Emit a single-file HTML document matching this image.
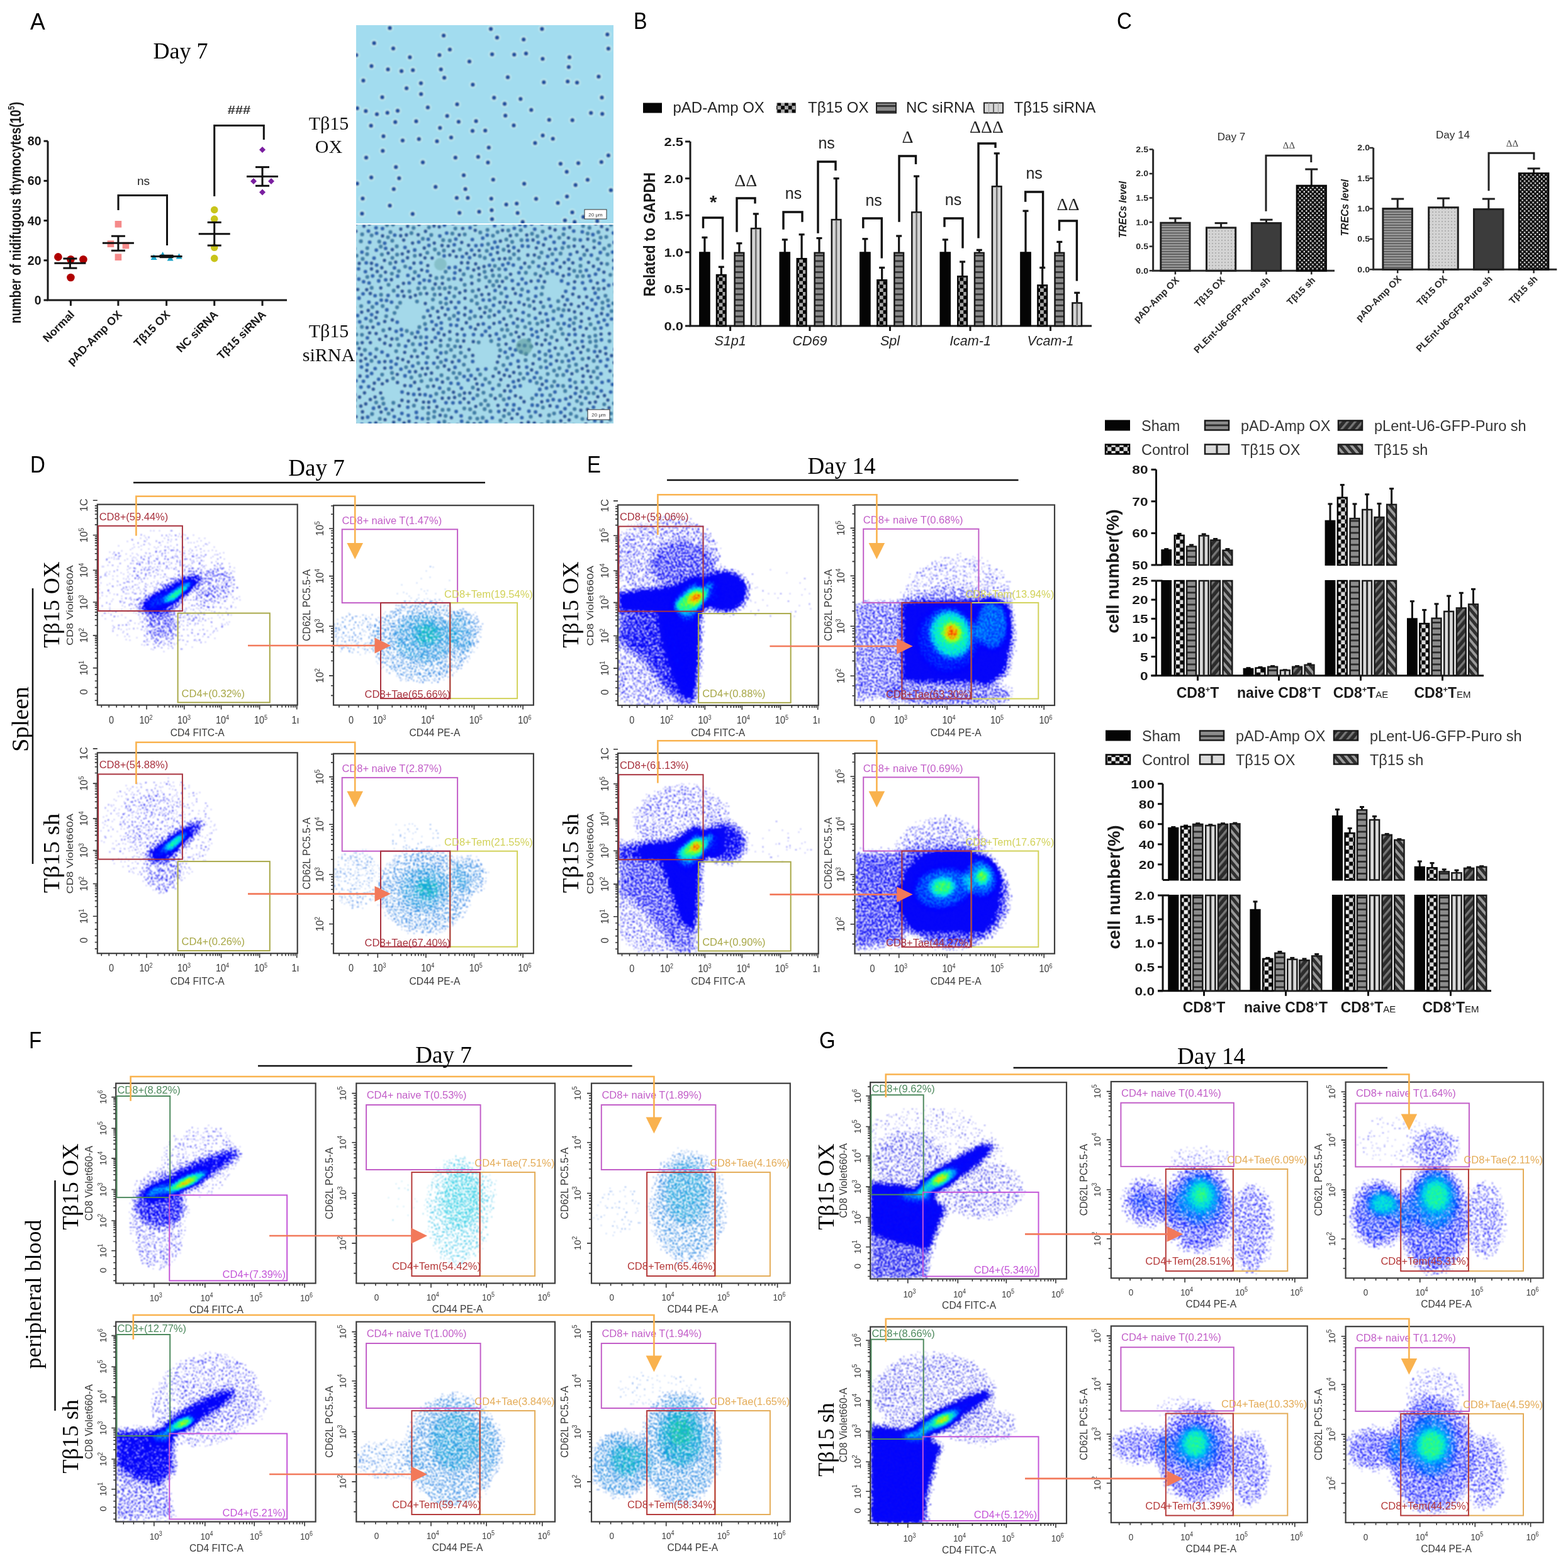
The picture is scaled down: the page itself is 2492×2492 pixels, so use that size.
<!DOCTYPE html>
<html><head><meta charset="utf-8"><title>Figure</title>
<style>
html,body{margin:0;padding:0;background:#fff;}
svg{display:block;}
text{font-family:"Liberation Sans",Arial,sans-serif;}
.s{font-family:"Liberation Sans",Arial,sans-serif;}
.sb{font-family:"Liberation Sans",Arial,sans-serif;font-weight:bold;}
.si{font-family:"Liberation Sans",Arial,sans-serif;font-style:italic;}
.sbi{font-family:"Liberation Sans",Arial,sans-serif;font-weight:bold;font-style:italic;}
.r{font-family:"Liberation Serif","Times New Roman",serif;}
</style></head><body>
<svg width="2492" height="2492" viewBox="0 0 2492 2492">
<rect width="2492" height="2492" fill="#fff"/>
<defs><filter id="fD1" filterUnits="userSpaceOnUse" x="155.8" y="802.7" width="315.9" height="316.9" color-interpolation-filters="sRGB"><feGaussianBlur in="SourceAlpha" stdDeviation="4" result="d"/><feTurbulence type="fractalNoise" baseFrequency="0.42" numOctaves="1" seed="21" result="t"/><feComponentTransfer in="t" result="tu"><feFuncR type="table" tableValues="0.000 0.000 0.000 0.001 0.003 0.010 0.031 0.080 0.175 0.320 0.500 0.680 0.825 0.920 0.969 0.985 0.985 0.985 0.985 0.985 0.985"/></feComponentTransfer><feColorMatrix in="tu" type="matrix" values="0 0 0 0 0 0 0 0 0 0 0 0 0 0 0 1 0 0 0 0" result="n"/><feComposite in="d" in2="n" operator="arithmetic" k2="3" k3="1" k4="-0.5" result="m"/><feComponentTransfer in="m" result="mask"><feFuncA type="discrete" tableValues="0 1"/></feComponentTransfer><feComposite in="d" in2="n" operator="arithmetic" k2="1" k3="0.14" k4="-0.07" result="dn"/><feColorMatrix in="dn" type="matrix" values="0 0 0 1 0 0 0 0 1 0 0 0 0 1 0 0 0 0 0 1" result="dd"/><feComponentTransfer in="dd" result="col"><feFuncR type="table" tableValues="0.06 0.06 0.05 0.04 0.03 0.03 0.02 0.01 0.00 0.00 0.00 0.00 0.00 0.03 0.06 0.35 0.63 0.86 1.00 1.00 0.88"/><feFuncG type="table" tableValues="0.06 0.06 0.05 0.04 0.03 0.03 0.02 0.01 0.00 0.13 0.35 0.60 0.88 0.94 1.00 1.00 1.00 0.92 0.68 0.19 0.00"/><feFuncB type="table" tableValues="0.94 0.95 0.96 0.96 0.97 0.98 0.98 0.99 1.00 1.00 1.00 1.00 1.00 0.78 0.56 0.31 0.06 0.02 0.00 0.00 0.00"/></feComponentTransfer><feComposite in="col" in2="mask" operator="in" result="o"/><feGaussianBlur in="o" stdDeviation="0.8"/></filter><filter id="fD2" filterUnits="userSpaceOnUse" x="531" y="804.2" width="315.9" height="315.4" color-interpolation-filters="sRGB"><feGaussianBlur in="SourceAlpha" stdDeviation="5" result="d"/><feTurbulence type="fractalNoise" baseFrequency="0.42" numOctaves="1" seed="22" result="t"/><feComponentTransfer in="t" result="tu"><feFuncR type="table" tableValues="0.000 0.000 0.000 0.001 0.003 0.010 0.031 0.080 0.175 0.320 0.500 0.680 0.825 0.920 0.969 0.985 0.985 0.985 0.985 0.985 0.985"/></feComponentTransfer><feColorMatrix in="tu" type="matrix" values="0 0 0 0 0 0 0 0 0 0 0 0 0 0 0 1 0 0 0 0" result="n"/><feComposite in="d" in2="n" operator="arithmetic" k2="2.2" k3="1" k4="-0.5" result="m"/><feComponentTransfer in="m" result="mask"><feFuncA type="discrete" tableValues="0 1"/></feComponentTransfer><feComposite in="d" in2="n" operator="arithmetic" k2="1" k3="0.3" k4="-0.15" result="dn"/><feColorMatrix in="dn" type="matrix" values="0 0 0 1 0 0 0 0 1 0 0 0 0 1 0 0 0 0 0 1" result="dd"/><feComponentTransfer in="dd" result="col"><feFuncR type="table" tableValues="0.06 0.07 0.08 0.09 0.09 0.09 0.09 0.08 0.07 0.08 0.11 0.18 0.28 0.38 0.43 0.48 0.54 0.59 0.65 0.70 0.75"/><feFuncG type="table" tableValues="0.22 0.27 0.32 0.38 0.44 0.50 0.56 0.64 0.72 0.78 0.83 0.87 0.90 0.94 0.94 0.94 0.94 0.94 0.94 0.94 0.94"/><feFuncB type="table" tableValues="0.82 0.84 0.86 0.88 0.88 0.88 0.88 0.87 0.85 0.76 0.62 0.49 0.37 0.25 0.23 0.22 0.20 0.18 0.16 0.14 0.13"/></feComponentTransfer><feComposite in="col" in2="mask" operator="in" result="o"/><feGaussianBlur in="o" stdDeviation="0.8"/></filter><filter id="fD1b" filterUnits="userSpaceOnUse" x="155.8" y="1197.3" width="315.9" height="316.9" color-interpolation-filters="sRGB"><feGaussianBlur in="SourceAlpha" stdDeviation="4" result="d"/><feTurbulence type="fractalNoise" baseFrequency="0.42" numOctaves="1" seed="22" result="t"/><feComponentTransfer in="t" result="tu"><feFuncR type="table" tableValues="0.000 0.000 0.000 0.001 0.003 0.010 0.031 0.080 0.175 0.320 0.500 0.680 0.825 0.920 0.969 0.985 0.985 0.985 0.985 0.985 0.985"/></feComponentTransfer><feColorMatrix in="tu" type="matrix" values="0 0 0 0 0 0 0 0 0 0 0 0 0 0 0 1 0 0 0 0" result="n"/><feComposite in="d" in2="n" operator="arithmetic" k2="3" k3="1" k4="-0.5" result="m"/><feComponentTransfer in="m" result="mask"><feFuncA type="discrete" tableValues="0 1"/></feComponentTransfer><feComposite in="d" in2="n" operator="arithmetic" k2="1" k3="0.14" k4="-0.07" result="dn"/><feColorMatrix in="dn" type="matrix" values="0 0 0 1 0 0 0 0 1 0 0 0 0 1 0 0 0 0 0 1" result="dd"/><feComponentTransfer in="dd" result="col"><feFuncR type="table" tableValues="0.06 0.06 0.05 0.04 0.03 0.03 0.02 0.01 0.00 0.00 0.00 0.00 0.00 0.03 0.06 0.35 0.63 0.86 1.00 1.00 0.88"/><feFuncG type="table" tableValues="0.06 0.06 0.05 0.04 0.03 0.03 0.02 0.01 0.00 0.13 0.35 0.60 0.88 0.94 1.00 1.00 1.00 0.92 0.68 0.19 0.00"/><feFuncB type="table" tableValues="0.94 0.95 0.96 0.96 0.97 0.98 0.98 0.99 1.00 1.00 1.00 1.00 1.00 0.78 0.56 0.31 0.06 0.02 0.00 0.00 0.00"/></feComponentTransfer><feComposite in="col" in2="mask" operator="in" result="o"/><feGaussianBlur in="o" stdDeviation="0.8"/></filter><filter id="fD2b" filterUnits="userSpaceOnUse" x="531" y="1198.8" width="315.9" height="315.4" color-interpolation-filters="sRGB"><feGaussianBlur in="SourceAlpha" stdDeviation="5" result="d"/><feTurbulence type="fractalNoise" baseFrequency="0.42" numOctaves="1" seed="23" result="t"/><feComponentTransfer in="t" result="tu"><feFuncR type="table" tableValues="0.000 0.000 0.000 0.001 0.003 0.010 0.031 0.080 0.175 0.320 0.500 0.680 0.825 0.920 0.969 0.985 0.985 0.985 0.985 0.985 0.985"/></feComponentTransfer><feColorMatrix in="tu" type="matrix" values="0 0 0 0 0 0 0 0 0 0 0 0 0 0 0 1 0 0 0 0" result="n"/><feComposite in="d" in2="n" operator="arithmetic" k2="2.2" k3="1" k4="-0.5" result="m"/><feComponentTransfer in="m" result="mask"><feFuncA type="discrete" tableValues="0 1"/></feComponentTransfer><feComposite in="d" in2="n" operator="arithmetic" k2="1" k3="0.3" k4="-0.15" result="dn"/><feColorMatrix in="dn" type="matrix" values="0 0 0 1 0 0 0 0 1 0 0 0 0 1 0 0 0 0 0 1" result="dd"/><feComponentTransfer in="dd" result="col"><feFuncR type="table" tableValues="0.06 0.07 0.08 0.09 0.09 0.09 0.09 0.08 0.07 0.08 0.11 0.18 0.28 0.38 0.43 0.48 0.54 0.59 0.65 0.70 0.75"/><feFuncG type="table" tableValues="0.22 0.27 0.32 0.38 0.44 0.50 0.56 0.64 0.72 0.78 0.83 0.87 0.90 0.94 0.94 0.94 0.94 0.94 0.94 0.94 0.94"/><feFuncB type="table" tableValues="0.82 0.84 0.86 0.88 0.88 0.88 0.88 0.87 0.85 0.76 0.62 0.49 0.37 0.25 0.23 0.22 0.20 0.18 0.16 0.14 0.13"/></feComponentTransfer><feComposite in="col" in2="mask" operator="in" result="o"/><feGaussianBlur in="o" stdDeviation="0.8"/></filter><filter id="fE1" filterUnits="userSpaceOnUse" x="983" y="803.5" width="316.7" height="316.5" color-interpolation-filters="sRGB"><feGaussianBlur in="SourceAlpha" stdDeviation="5" result="d"/><feTurbulence type="fractalNoise" baseFrequency="0.42" numOctaves="1" seed="22" result="t"/><feComponentTransfer in="t" result="tu"><feFuncR type="table" tableValues="0.000 0.000 0.000 0.001 0.003 0.010 0.031 0.080 0.175 0.320 0.500 0.680 0.825 0.920 0.969 0.985 0.985 0.985 0.985 0.985 0.985"/></feComponentTransfer><feColorMatrix in="tu" type="matrix" values="0 0 0 0 0 0 0 0 0 0 0 0 0 0 0 1 0 0 0 0" result="n"/><feComposite in="d" in2="n" operator="arithmetic" k2="4" k3="1" k4="-0.5" result="m"/><feComponentTransfer in="m" result="mask"><feFuncA type="discrete" tableValues="0 1"/></feComponentTransfer><feComposite in="d" in2="n" operator="arithmetic" k2="1" k3="0.14" k4="-0.07" result="dn"/><feColorMatrix in="dn" type="matrix" values="0 0 0 1 0 0 0 0 1 0 0 0 0 1 0 0 0 0 0 1" result="dd"/><feComponentTransfer in="dd" result="col"><feFuncR type="table" tableValues="0.06 0.06 0.05 0.04 0.03 0.03 0.02 0.01 0.00 0.00 0.00 0.00 0.00 0.03 0.06 0.35 0.63 0.86 1.00 1.00 0.88"/><feFuncG type="table" tableValues="0.06 0.06 0.05 0.04 0.03 0.03 0.02 0.01 0.00 0.13 0.35 0.60 0.88 0.94 1.00 1.00 1.00 0.92 0.68 0.19 0.00"/><feFuncB type="table" tableValues="0.94 0.95 0.96 0.96 0.97 0.98 0.98 0.99 1.00 1.00 1.00 1.00 1.00 0.78 0.56 0.31 0.06 0.02 0.00 0.00 0.00"/></feComponentTransfer><feComposite in="col" in2="mask" operator="in" result="o"/><feGaussianBlur in="o" stdDeviation="0.8"/></filter><filter id="fE2" filterUnits="userSpaceOnUse" x="1359.5" y="803.5" width="315.5" height="316.5" color-interpolation-filters="sRGB"><feGaussianBlur in="SourceAlpha" stdDeviation="5" result="d"/><feTurbulence type="fractalNoise" baseFrequency="0.42" numOctaves="1" seed="23" result="t"/><feComponentTransfer in="t" result="tu"><feFuncR type="table" tableValues="0.000 0.000 0.000 0.001 0.003 0.010 0.031 0.080 0.175 0.320 0.500 0.680 0.825 0.920 0.969 0.985 0.985 0.985 0.985 0.985 0.985"/></feComponentTransfer><feColorMatrix in="tu" type="matrix" values="0 0 0 0 0 0 0 0 0 0 0 0 0 0 0 1 0 0 0 0" result="n"/><feComposite in="d" in2="n" operator="arithmetic" k2="4" k3="1" k4="-0.5" result="m"/><feComponentTransfer in="m" result="mask"><feFuncA type="discrete" tableValues="0 1"/></feComponentTransfer><feComposite in="d" in2="n" operator="arithmetic" k2="1" k3="0.14" k4="-0.07" result="dn"/><feColorMatrix in="dn" type="matrix" values="0 0 0 1 0 0 0 0 1 0 0 0 0 1 0 0 0 0 0 1" result="dd"/><feComponentTransfer in="dd" result="col"><feFuncR type="table" tableValues="0.06 0.06 0.05 0.04 0.03 0.03 0.02 0.01 0.00 0.00 0.00 0.00 0.00 0.03 0.06 0.35 0.63 0.86 1.00 1.00 0.88"/><feFuncG type="table" tableValues="0.06 0.06 0.05 0.04 0.03 0.03 0.02 0.01 0.00 0.13 0.35 0.60 0.88 0.94 1.00 1.00 1.00 0.92 0.68 0.19 0.00"/><feFuncB type="table" tableValues="0.94 0.95 0.96 0.96 0.97 0.98 0.98 0.99 1.00 1.00 1.00 1.00 1.00 0.78 0.56 0.31 0.06 0.02 0.00 0.00 0.00"/></feComponentTransfer><feComposite in="col" in2="mask" operator="in" result="o"/><feGaussianBlur in="o" stdDeviation="0.8"/></filter><filter id="fE1b" filterUnits="userSpaceOnUse" x="983" y="1198.1" width="316.7" height="316.5" color-interpolation-filters="sRGB"><feGaussianBlur in="SourceAlpha" stdDeviation="5" result="d"/><feTurbulence type="fractalNoise" baseFrequency="0.42" numOctaves="1" seed="23" result="t"/><feComponentTransfer in="t" result="tu"><feFuncR type="table" tableValues="0.000 0.000 0.000 0.001 0.003 0.010 0.031 0.080 0.175 0.320 0.500 0.680 0.825 0.920 0.969 0.985 0.985 0.985 0.985 0.985 0.985"/></feComponentTransfer><feColorMatrix in="tu" type="matrix" values="0 0 0 0 0 0 0 0 0 0 0 0 0 0 0 1 0 0 0 0" result="n"/><feComposite in="d" in2="n" operator="arithmetic" k2="4" k3="1" k4="-0.5" result="m"/><feComponentTransfer in="m" result="mask"><feFuncA type="discrete" tableValues="0 1"/></feComponentTransfer><feComposite in="d" in2="n" operator="arithmetic" k2="1" k3="0.14" k4="-0.07" result="dn"/><feColorMatrix in="dn" type="matrix" values="0 0 0 1 0 0 0 0 1 0 0 0 0 1 0 0 0 0 0 1" result="dd"/><feComponentTransfer in="dd" result="col"><feFuncR type="table" tableValues="0.06 0.06 0.05 0.04 0.03 0.03 0.02 0.01 0.00 0.00 0.00 0.00 0.00 0.03 0.06 0.35 0.63 0.86 1.00 1.00 0.88"/><feFuncG type="table" tableValues="0.06 0.06 0.05 0.04 0.03 0.03 0.02 0.01 0.00 0.13 0.35 0.60 0.88 0.94 1.00 1.00 1.00 0.92 0.68 0.19 0.00"/><feFuncB type="table" tableValues="0.94 0.95 0.96 0.96 0.97 0.98 0.98 0.99 1.00 1.00 1.00 1.00 1.00 0.78 0.56 0.31 0.06 0.02 0.00 0.00 0.00"/></feComponentTransfer><feComposite in="col" in2="mask" operator="in" result="o"/><feGaussianBlur in="o" stdDeviation="0.8"/></filter><filter id="fE2b" filterUnits="userSpaceOnUse" x="1359.5" y="1198.1" width="315.5" height="316.5" color-interpolation-filters="sRGB"><feGaussianBlur in="SourceAlpha" stdDeviation="5" result="d"/><feTurbulence type="fractalNoise" baseFrequency="0.42" numOctaves="1" seed="24" result="t"/><feComponentTransfer in="t" result="tu"><feFuncR type="table" tableValues="0.000 0.000 0.000 0.001 0.003 0.010 0.031 0.080 0.175 0.320 0.500 0.680 0.825 0.920 0.969 0.985 0.985 0.985 0.985 0.985 0.985"/></feComponentTransfer><feColorMatrix in="tu" type="matrix" values="0 0 0 0 0 0 0 0 0 0 0 0 0 0 0 1 0 0 0 0" result="n"/><feComposite in="d" in2="n" operator="arithmetic" k2="4" k3="1" k4="-0.5" result="m"/><feComponentTransfer in="m" result="mask"><feFuncA type="discrete" tableValues="0 1"/></feComponentTransfer><feComposite in="d" in2="n" operator="arithmetic" k2="1" k3="0.14" k4="-0.07" result="dn"/><feColorMatrix in="dn" type="matrix" values="0 0 0 1 0 0 0 0 1 0 0 0 0 1 0 0 0 0 0 1" result="dd"/><feComponentTransfer in="dd" result="col"><feFuncR type="table" tableValues="0.06 0.06 0.05 0.04 0.03 0.03 0.02 0.01 0.00 0.00 0.00 0.00 0.00 0.03 0.06 0.35 0.63 0.86 1.00 1.00 0.88"/><feFuncG type="table" tableValues="0.06 0.06 0.05 0.04 0.03 0.03 0.02 0.01 0.00 0.13 0.35 0.60 0.88 0.94 1.00 1.00 1.00 0.92 0.68 0.19 0.00"/><feFuncB type="table" tableValues="0.94 0.95 0.96 0.96 0.97 0.98 0.98 0.99 1.00 1.00 1.00 1.00 1.00 0.78 0.56 0.31 0.06 0.02 0.00 0.00 0.00"/></feComponentTransfer><feComposite in="col" in2="mask" operator="in" result="o"/><feGaussianBlur in="o" stdDeviation="0.8"/></filter><filter id="fF1" filterUnits="userSpaceOnUse" x="185.2" y="1722.7" width="315.4" height="315.8" color-interpolation-filters="sRGB"><feGaussianBlur in="SourceAlpha" stdDeviation="4" result="d"/><feTurbulence type="fractalNoise" baseFrequency="0.42" numOctaves="1" seed="23" result="t"/><feComponentTransfer in="t" result="tu"><feFuncR type="table" tableValues="0.000 0.000 0.000 0.001 0.003 0.010 0.031 0.080 0.175 0.320 0.500 0.680 0.825 0.920 0.969 0.985 0.985 0.985 0.985 0.985 0.985"/></feComponentTransfer><feColorMatrix in="tu" type="matrix" values="0 0 0 0 0 0 0 0 0 0 0 0 0 0 0 1 0 0 0 0" result="n"/><feComposite in="d" in2="n" operator="arithmetic" k2="3" k3="1" k4="-0.5" result="m"/><feComponentTransfer in="m" result="mask"><feFuncA type="discrete" tableValues="0 1"/></feComponentTransfer><feComposite in="d" in2="n" operator="arithmetic" k2="1" k3="0.14" k4="-0.07" result="dn"/><feColorMatrix in="dn" type="matrix" values="0 0 0 1 0 0 0 0 1 0 0 0 0 1 0 0 0 0 0 1" result="dd"/><feComponentTransfer in="dd" result="col"><feFuncR type="table" tableValues="0.06 0.06 0.05 0.04 0.03 0.03 0.02 0.01 0.00 0.00 0.00 0.00 0.00 0.03 0.06 0.35 0.63 0.86 1.00 1.00 0.88"/><feFuncG type="table" tableValues="0.06 0.06 0.05 0.04 0.03 0.03 0.02 0.01 0.00 0.13 0.35 0.60 0.88 0.94 1.00 1.00 1.00 0.92 0.68 0.19 0.00"/><feFuncB type="table" tableValues="0.94 0.95 0.96 0.96 0.97 0.98 0.98 0.99 1.00 1.00 1.00 1.00 1.00 0.78 0.56 0.31 0.06 0.02 0.00 0.00 0.00"/></feComponentTransfer><feComposite in="col" in2="mask" operator="in" result="o"/><feGaussianBlur in="o" stdDeviation="0.8"/></filter><filter id="fF2" filterUnits="userSpaceOnUse" x="567.3" y="1722.7" width="313.7" height="315.8" color-interpolation-filters="sRGB"><feGaussianBlur in="SourceAlpha" stdDeviation="6" result="d"/><feTurbulence type="fractalNoise" baseFrequency="0.42" numOctaves="1" seed="24" result="t"/><feComponentTransfer in="t" result="tu"><feFuncR type="table" tableValues="0.000 0.000 0.000 0.001 0.003 0.010 0.031 0.080 0.175 0.320 0.500 0.680 0.825 0.920 0.969 0.985 0.985 0.985 0.985 0.985 0.985"/></feComponentTransfer><feColorMatrix in="tu" type="matrix" values="0 0 0 0 0 0 0 0 0 0 0 0 0 0 0 1 0 0 0 0" result="n"/><feComposite in="d" in2="n" operator="arithmetic" k2="2" k3="1" k4="-0.5" result="m"/><feComponentTransfer in="m" result="mask"><feFuncA type="discrete" tableValues="0 1"/></feComponentTransfer><feComposite in="d" in2="n" operator="arithmetic" k2="1" k3="0.3" k4="-0.15" result="dn"/><feColorMatrix in="dn" type="matrix" values="0 0 0 1 0 0 0 0 1 0 0 0 0 1 0 0 0 0 0 1" result="dd"/><feComponentTransfer in="dd" result="col"><feFuncR type="table" tableValues="0.25 0.24 0.22 0.20 0.19 0.16 0.14 0.12 0.09 0.13 0.16 0.19 0.29 0.40 0.50 0.54 0.59 0.63 0.67 0.71 0.75"/><feFuncG type="table" tableValues="0.66 0.68 0.71 0.73 0.75 0.78 0.80 0.82 0.85 0.87 0.89 0.91 0.92 0.93 0.94 0.94 0.94 0.94 0.94 0.94 0.94"/><feFuncB type="table" tableValues="0.88 0.89 0.89 0.90 0.91 0.90 0.89 0.89 0.88 0.82 0.75 0.69 0.61 0.52 0.44 0.41 0.38 0.35 0.31 0.28 0.25"/></feComponentTransfer><feComposite in="col" in2="mask" operator="in" result="o"/><feGaussianBlur in="o" stdDeviation="0.8"/></filter><filter id="fF3" filterUnits="userSpaceOnUse" x="941" y="1722.7" width="313.8" height="315.8" color-interpolation-filters="sRGB"><feGaussianBlur in="SourceAlpha" stdDeviation="6" result="d"/><feTurbulence type="fractalNoise" baseFrequency="0.42" numOctaves="1" seed="25" result="t"/><feComponentTransfer in="t" result="tu"><feFuncR type="table" tableValues="0.000 0.000 0.000 0.001 0.003 0.010 0.031 0.080 0.175 0.320 0.500 0.680 0.825 0.920 0.969 0.985 0.985 0.985 0.985 0.985 0.985"/></feComponentTransfer><feColorMatrix in="tu" type="matrix" values="0 0 0 0 0 0 0 0 0 0 0 0 0 0 0 1 0 0 0 0" result="n"/><feComposite in="d" in2="n" operator="arithmetic" k2="2" k3="1" k4="-0.5" result="m"/><feComponentTransfer in="m" result="mask"><feFuncA type="discrete" tableValues="0 1"/></feComponentTransfer><feComposite in="d" in2="n" operator="arithmetic" k2="1" k3="0.3" k4="-0.15" result="dn"/><feColorMatrix in="dn" type="matrix" values="0 0 0 1 0 0 0 0 1 0 0 0 0 1 0 0 0 0 0 1" result="dd"/><feComponentTransfer in="dd" result="col"><feFuncR type="table" tableValues="0.06 0.07 0.08 0.09 0.09 0.09 0.09 0.08 0.07 0.08 0.11 0.18 0.28 0.38 0.43 0.48 0.54 0.59 0.65 0.70 0.75"/><feFuncG type="table" tableValues="0.22 0.27 0.32 0.38 0.44 0.50 0.56 0.64 0.72 0.78 0.83 0.87 0.90 0.94 0.94 0.94 0.94 0.94 0.94 0.94 0.94"/><feFuncB type="table" tableValues="0.82 0.84 0.86 0.88 0.88 0.88 0.88 0.87 0.85 0.76 0.62 0.49 0.37 0.25 0.23 0.22 0.20 0.18 0.16 0.14 0.13"/></feComponentTransfer><feComposite in="col" in2="mask" operator="in" result="o"/><feGaussianBlur in="o" stdDeviation="0.8"/></filter><filter id="fF1b" filterUnits="userSpaceOnUse" x="185.2" y="2101.7" width="315.4" height="315.8" color-interpolation-filters="sRGB"><feGaussianBlur in="SourceAlpha" stdDeviation="4" result="d"/><feTurbulence type="fractalNoise" baseFrequency="0.42" numOctaves="1" seed="24" result="t"/><feComponentTransfer in="t" result="tu"><feFuncR type="table" tableValues="0.000 0.000 0.000 0.001 0.003 0.010 0.031 0.080 0.175 0.320 0.500 0.680 0.825 0.920 0.969 0.985 0.985 0.985 0.985 0.985 0.985"/></feComponentTransfer><feColorMatrix in="tu" type="matrix" values="0 0 0 0 0 0 0 0 0 0 0 0 0 0 0 1 0 0 0 0" result="n"/><feComposite in="d" in2="n" operator="arithmetic" k2="3" k3="1" k4="-0.5" result="m"/><feComponentTransfer in="m" result="mask"><feFuncA type="discrete" tableValues="0 1"/></feComponentTransfer><feComposite in="d" in2="n" operator="arithmetic" k2="1" k3="0.14" k4="-0.07" result="dn"/><feColorMatrix in="dn" type="matrix" values="0 0 0 1 0 0 0 0 1 0 0 0 0 1 0 0 0 0 0 1" result="dd"/><feComponentTransfer in="dd" result="col"><feFuncR type="table" tableValues="0.06 0.06 0.05 0.04 0.03 0.03 0.02 0.01 0.00 0.00 0.00 0.00 0.00 0.03 0.06 0.35 0.63 0.86 1.00 1.00 0.88"/><feFuncG type="table" tableValues="0.06 0.06 0.05 0.04 0.03 0.03 0.02 0.01 0.00 0.13 0.35 0.60 0.88 0.94 1.00 1.00 1.00 0.92 0.68 0.19 0.00"/><feFuncB type="table" tableValues="0.94 0.95 0.96 0.96 0.97 0.98 0.98 0.99 1.00 1.00 1.00 1.00 1.00 0.78 0.56 0.31 0.06 0.02 0.00 0.00 0.00"/></feComponentTransfer><feComposite in="col" in2="mask" operator="in" result="o"/><feGaussianBlur in="o" stdDeviation="0.8"/></filter><filter id="fF2b" filterUnits="userSpaceOnUse" x="567.3" y="2101.7" width="313.7" height="315.8" color-interpolation-filters="sRGB"><feGaussianBlur in="SourceAlpha" stdDeviation="5" result="d"/><feTurbulence type="fractalNoise" baseFrequency="0.42" numOctaves="1" seed="25" result="t"/><feComponentTransfer in="t" result="tu"><feFuncR type="table" tableValues="0.000 0.000 0.000 0.001 0.003 0.010 0.031 0.080 0.175 0.320 0.500 0.680 0.825 0.920 0.969 0.985 0.985 0.985 0.985 0.985 0.985"/></feComponentTransfer><feColorMatrix in="tu" type="matrix" values="0 0 0 0 0 0 0 0 0 0 0 0 0 0 0 1 0 0 0 0" result="n"/><feComposite in="d" in2="n" operator="arithmetic" k2="2.2" k3="1" k4="-0.5" result="m"/><feComponentTransfer in="m" result="mask"><feFuncA type="discrete" tableValues="0 1"/></feComponentTransfer><feComposite in="d" in2="n" operator="arithmetic" k2="1" k3="0.3" k4="-0.15" result="dn"/><feColorMatrix in="dn" type="matrix" values="0 0 0 1 0 0 0 0 1 0 0 0 0 1 0 0 0 0 0 1" result="dd"/><feComponentTransfer in="dd" result="col"><feFuncR type="table" tableValues="0.06 0.07 0.08 0.09 0.09 0.09 0.09 0.08 0.07 0.08 0.11 0.18 0.28 0.38 0.43 0.48 0.54 0.59 0.65 0.70 0.75"/><feFuncG type="table" tableValues="0.22 0.27 0.32 0.38 0.44 0.50 0.56 0.64 0.72 0.78 0.83 0.87 0.90 0.94 0.94 0.94 0.94 0.94 0.94 0.94 0.94"/><feFuncB type="table" tableValues="0.82 0.84 0.86 0.88 0.88 0.88 0.88 0.87 0.85 0.76 0.62 0.49 0.37 0.25 0.23 0.22 0.20 0.18 0.16 0.14 0.13"/></feComponentTransfer><feComposite in="col" in2="mask" operator="in" result="o"/><feGaussianBlur in="o" stdDeviation="0.8"/></filter><filter id="fF3b" filterUnits="userSpaceOnUse" x="941" y="2101.7" width="313.8" height="315.8" color-interpolation-filters="sRGB"><feGaussianBlur in="SourceAlpha" stdDeviation="5" result="d"/><feTurbulence type="fractalNoise" baseFrequency="0.42" numOctaves="1" seed="26" result="t"/><feComponentTransfer in="t" result="tu"><feFuncR type="table" tableValues="0.000 0.000 0.000 0.001 0.003 0.010 0.031 0.080 0.175 0.320 0.500 0.680 0.825 0.920 0.969 0.985 0.985 0.985 0.985 0.985 0.985"/></feComponentTransfer><feColorMatrix in="tu" type="matrix" values="0 0 0 0 0 0 0 0 0 0 0 0 0 0 0 1 0 0 0 0" result="n"/><feComposite in="d" in2="n" operator="arithmetic" k2="2.2" k3="1" k4="-0.5" result="m"/><feComponentTransfer in="m" result="mask"><feFuncA type="discrete" tableValues="0 1"/></feComponentTransfer><feComposite in="d" in2="n" operator="arithmetic" k2="1" k3="0.3" k4="-0.15" result="dn"/><feColorMatrix in="dn" type="matrix" values="0 0 0 1 0 0 0 0 1 0 0 0 0 1 0 0 0 0 0 1" result="dd"/><feComponentTransfer in="dd" result="col"><feFuncR type="table" tableValues="0.06 0.07 0.08 0.09 0.09 0.09 0.09 0.08 0.07 0.08 0.11 0.18 0.28 0.38 0.43 0.48 0.54 0.59 0.65 0.70 0.75"/><feFuncG type="table" tableValues="0.22 0.27 0.32 0.38 0.44 0.50 0.56 0.64 0.72 0.78 0.83 0.87 0.90 0.94 0.94 0.94 0.94 0.94 0.94 0.94 0.94"/><feFuncB type="table" tableValues="0.82 0.84 0.86 0.88 0.88 0.88 0.88 0.87 0.85 0.76 0.62 0.49 0.37 0.25 0.23 0.22 0.20 0.18 0.16 0.14 0.13"/></feComponentTransfer><feComposite in="col" in2="mask" operator="in" result="o"/><feGaussianBlur in="o" stdDeviation="0.8"/></filter><filter id="fG1" filterUnits="userSpaceOnUse" x="1384.2" y="1721.2" width="309.8" height="310.4" color-interpolation-filters="sRGB"><feGaussianBlur in="SourceAlpha" stdDeviation="4" result="d"/><feTurbulence type="fractalNoise" baseFrequency="0.42" numOctaves="1" seed="24" result="t"/><feComponentTransfer in="t" result="tu"><feFuncR type="table" tableValues="0.000 0.000 0.000 0.001 0.003 0.010 0.031 0.080 0.175 0.320 0.500 0.680 0.825 0.920 0.969 0.985 0.985 0.985 0.985 0.985 0.985"/></feComponentTransfer><feColorMatrix in="tu" type="matrix" values="0 0 0 0 0 0 0 0 0 0 0 0 0 0 0 1 0 0 0 0" result="n"/><feComposite in="d" in2="n" operator="arithmetic" k2="4" k3="1" k4="-0.5" result="m"/><feComponentTransfer in="m" result="mask"><feFuncA type="discrete" tableValues="0 1"/></feComponentTransfer><feComposite in="d" in2="n" operator="arithmetic" k2="1" k3="0.14" k4="-0.07" result="dn"/><feColorMatrix in="dn" type="matrix" values="0 0 0 1 0 0 0 0 1 0 0 0 0 1 0 0 0 0 0 1" result="dd"/><feComponentTransfer in="dd" result="col"><feFuncR type="table" tableValues="0.13 0.11 0.09 0.07 0.05 0.04 0.02 0.00 0.00 0.00 0.00 0.00 0.00 0.02 0.05 0.23 0.51 0.77 1.00 1.00 0.88"/><feFuncG type="table" tableValues="0.13 0.11 0.09 0.07 0.05 0.04 0.02 0.00 0.10 0.21 0.31 0.52 0.73 0.87 0.96 1.00 1.00 0.95 0.88 0.30 0.00"/><feFuncB type="table" tableValues="0.88 0.90 0.91 0.93 0.95 0.97 0.98 1.00 1.00 1.00 1.00 1.00 1.00 0.87 0.65 0.41 0.16 0.04 0.00 0.00 0.00"/></feComponentTransfer><feComposite in="col" in2="mask" operator="in" result="o"/><feGaussianBlur in="o" stdDeviation="0.8"/></filter><filter id="fG2" filterUnits="userSpaceOnUse" x="1766.8" y="1720" width="310" height="310.3" color-interpolation-filters="sRGB"><feGaussianBlur in="SourceAlpha" stdDeviation="6" result="d"/><feTurbulence type="fractalNoise" baseFrequency="0.42" numOctaves="1" seed="25" result="t"/><feComponentTransfer in="t" result="tu"><feFuncR type="table" tableValues="0.000 0.000 0.000 0.001 0.003 0.010 0.031 0.080 0.175 0.320 0.500 0.680 0.825 0.920 0.969 0.985 0.985 0.985 0.985 0.985 0.985"/></feComponentTransfer><feColorMatrix in="tu" type="matrix" values="0 0 0 0 0 0 0 0 0 0 0 0 0 0 0 1 0 0 0 0" result="n"/><feComposite in="d" in2="n" operator="arithmetic" k2="2.6" k3="1" k4="-0.5" result="m"/><feComponentTransfer in="m" result="mask"><feFuncA type="discrete" tableValues="0 1"/></feComponentTransfer><feComposite in="d" in2="n" operator="arithmetic" k2="1" k3="0.14" k4="-0.07" result="dn"/><feColorMatrix in="dn" type="matrix" values="0 0 0 1 0 0 0 0 1 0 0 0 0 1 0 0 0 0 0 1" result="dd"/><feComponentTransfer in="dd" result="col"><feFuncR type="table" tableValues="0.09 0.07 0.05 0.02 0.00 0.00 0.00 0.00 0.00 0.00 0.08 0.19 0.44 0.69 0.85 1.00 1.00 1.00 0.96 0.92 0.88"/><feFuncG type="table" tableValues="0.09 0.07 0.05 0.02 0.00 0.16 0.31 0.55 0.75 0.91 0.97 1.00 1.00 1.00 0.91 0.82 0.53 0.25 0.17 0.08 0.00"/><feFuncB type="table" tableValues="0.94 0.96 0.97 0.99 1.00 1.00 1.00 1.00 0.97 0.89 0.68 0.44 0.25 0.06 0.03 0.00 0.00 0.00 0.00 0.00 0.00"/></feComponentTransfer><feComposite in="col" in2="mask" operator="in" result="o"/><feGaussianBlur in="o" stdDeviation="0.8"/></filter><filter id="fG3" filterUnits="userSpaceOnUse" x="2139.6" y="1720.7" width="312.1" height="309.6" color-interpolation-filters="sRGB"><feGaussianBlur in="SourceAlpha" stdDeviation="6" result="d"/><feTurbulence type="fractalNoise" baseFrequency="0.42" numOctaves="1" seed="26" result="t"/><feComponentTransfer in="t" result="tu"><feFuncR type="table" tableValues="0.000 0.000 0.000 0.001 0.003 0.010 0.031 0.080 0.175 0.320 0.500 0.680 0.825 0.920 0.969 0.985 0.985 0.985 0.985 0.985 0.985"/></feComponentTransfer><feColorMatrix in="tu" type="matrix" values="0 0 0 0 0 0 0 0 0 0 0 0 0 0 0 1 0 0 0 0" result="n"/><feComposite in="d" in2="n" operator="arithmetic" k2="2.6" k3="1" k4="-0.5" result="m"/><feComponentTransfer in="m" result="mask"><feFuncA type="discrete" tableValues="0 1"/></feComponentTransfer><feComposite in="d" in2="n" operator="arithmetic" k2="1" k3="0.14" k4="-0.07" result="dn"/><feColorMatrix in="dn" type="matrix" values="0 0 0 1 0 0 0 0 1 0 0 0 0 1 0 0 0 0 0 1" result="dd"/><feComponentTransfer in="dd" result="col"><feFuncR type="table" tableValues="0.09 0.07 0.05 0.02 0.00 0.00 0.00 0.00 0.00 0.00 0.08 0.19 0.44 0.69 0.85 1.00 1.00 1.00 0.96 0.92 0.88"/><feFuncG type="table" tableValues="0.09 0.07 0.05 0.02 0.00 0.16 0.31 0.55 0.75 0.91 0.97 1.00 1.00 1.00 0.91 0.82 0.53 0.25 0.17 0.08 0.00"/><feFuncB type="table" tableValues="0.94 0.96 0.97 0.99 1.00 1.00 1.00 1.00 0.97 0.89 0.68 0.44 0.25 0.06 0.03 0.00 0.00 0.00 0.00 0.00 0.00"/></feComponentTransfer><feComposite in="col" in2="mask" operator="in" result="o"/><feGaussianBlur in="o" stdDeviation="0.8"/></filter><filter id="fG1b" filterUnits="userSpaceOnUse" x="1384.2" y="2109.7" width="309.8" height="310.4" color-interpolation-filters="sRGB"><feGaussianBlur in="SourceAlpha" stdDeviation="4" result="d"/><feTurbulence type="fractalNoise" baseFrequency="0.42" numOctaves="1" seed="25" result="t"/><feComponentTransfer in="t" result="tu"><feFuncR type="table" tableValues="0.000 0.000 0.000 0.001 0.003 0.010 0.031 0.080 0.175 0.320 0.500 0.680 0.825 0.920 0.969 0.985 0.985 0.985 0.985 0.985 0.985"/></feComponentTransfer><feColorMatrix in="tu" type="matrix" values="0 0 0 0 0 0 0 0 0 0 0 0 0 0 0 1 0 0 0 0" result="n"/><feComposite in="d" in2="n" operator="arithmetic" k2="4" k3="1" k4="-0.5" result="m"/><feComponentTransfer in="m" result="mask"><feFuncA type="discrete" tableValues="0 1"/></feComponentTransfer><feComposite in="d" in2="n" operator="arithmetic" k2="1" k3="0.14" k4="-0.07" result="dn"/><feColorMatrix in="dn" type="matrix" values="0 0 0 1 0 0 0 0 1 0 0 0 0 1 0 0 0 0 0 1" result="dd"/><feComponentTransfer in="dd" result="col"><feFuncR type="table" tableValues="0.13 0.11 0.09 0.07 0.05 0.04 0.02 0.00 0.00 0.00 0.00 0.00 0.00 0.02 0.05 0.23 0.51 0.77 1.00 1.00 0.88"/><feFuncG type="table" tableValues="0.13 0.11 0.09 0.07 0.05 0.04 0.02 0.00 0.10 0.21 0.31 0.52 0.73 0.87 0.96 1.00 1.00 0.95 0.88 0.30 0.00"/><feFuncB type="table" tableValues="0.88 0.90 0.91 0.93 0.95 0.97 0.98 1.00 1.00 1.00 1.00 1.00 1.00 0.87 0.65 0.41 0.16 0.04 0.00 0.00 0.00"/></feComponentTransfer><feComposite in="col" in2="mask" operator="in" result="o"/><feGaussianBlur in="o" stdDeviation="0.8"/></filter><filter id="fG2b" filterUnits="userSpaceOnUse" x="1766.8" y="2108.5" width="310" height="310.3" color-interpolation-filters="sRGB"><feGaussianBlur in="SourceAlpha" stdDeviation="6" result="d"/><feTurbulence type="fractalNoise" baseFrequency="0.42" numOctaves="1" seed="26" result="t"/><feComponentTransfer in="t" result="tu"><feFuncR type="table" tableValues="0.000 0.000 0.000 0.001 0.003 0.010 0.031 0.080 0.175 0.320 0.500 0.680 0.825 0.920 0.969 0.985 0.985 0.985 0.985 0.985 0.985"/></feComponentTransfer><feColorMatrix in="tu" type="matrix" values="0 0 0 0 0 0 0 0 0 0 0 0 0 0 0 1 0 0 0 0" result="n"/><feComposite in="d" in2="n" operator="arithmetic" k2="2.6" k3="1" k4="-0.5" result="m"/><feComponentTransfer in="m" result="mask"><feFuncA type="discrete" tableValues="0 1"/></feComponentTransfer><feComposite in="d" in2="n" operator="arithmetic" k2="1" k3="0.14" k4="-0.07" result="dn"/><feColorMatrix in="dn" type="matrix" values="0 0 0 1 0 0 0 0 1 0 0 0 0 1 0 0 0 0 0 1" result="dd"/><feComponentTransfer in="dd" result="col"><feFuncR type="table" tableValues="0.09 0.07 0.05 0.02 0.00 0.00 0.00 0.00 0.00 0.00 0.08 0.19 0.44 0.69 0.85 1.00 1.00 1.00 0.96 0.92 0.88"/><feFuncG type="table" tableValues="0.09 0.07 0.05 0.02 0.00 0.16 0.31 0.55 0.75 0.91 0.97 1.00 1.00 1.00 0.91 0.82 0.53 0.25 0.17 0.08 0.00"/><feFuncB type="table" tableValues="0.94 0.96 0.97 0.99 1.00 1.00 1.00 1.00 0.97 0.89 0.68 0.44 0.25 0.06 0.03 0.00 0.00 0.00 0.00 0.00 0.00"/></feComponentTransfer><feComposite in="col" in2="mask" operator="in" result="o"/><feGaussianBlur in="o" stdDeviation="0.8"/></filter><filter id="fG3b" filterUnits="userSpaceOnUse" x="2139.6" y="2109.2" width="312.1" height="309.6" color-interpolation-filters="sRGB"><feGaussianBlur in="SourceAlpha" stdDeviation="6" result="d"/><feTurbulence type="fractalNoise" baseFrequency="0.42" numOctaves="1" seed="27" result="t"/><feComponentTransfer in="t" result="tu"><feFuncR type="table" tableValues="0.000 0.000 0.000 0.001 0.003 0.010 0.031 0.080 0.175 0.320 0.500 0.680 0.825 0.920 0.969 0.985 0.985 0.985 0.985 0.985 0.985"/></feComponentTransfer><feColorMatrix in="tu" type="matrix" values="0 0 0 0 0 0 0 0 0 0 0 0 0 0 0 1 0 0 0 0" result="n"/><feComposite in="d" in2="n" operator="arithmetic" k2="2.6" k3="1" k4="-0.5" result="m"/><feComponentTransfer in="m" result="mask"><feFuncA type="discrete" tableValues="0 1"/></feComponentTransfer><feComposite in="d" in2="n" operator="arithmetic" k2="1" k3="0.14" k4="-0.07" result="dn"/><feColorMatrix in="dn" type="matrix" values="0 0 0 1 0 0 0 0 1 0 0 0 0 1 0 0 0 0 0 1" result="dd"/><feComponentTransfer in="dd" result="col"><feFuncR type="table" tableValues="0.09 0.07 0.05 0.02 0.00 0.00 0.00 0.00 0.00 0.00 0.08 0.19 0.44 0.69 0.85 1.00 1.00 1.00 0.96 0.92 0.88"/><feFuncG type="table" tableValues="0.09 0.07 0.05 0.02 0.00 0.16 0.31 0.55 0.75 0.91 0.97 1.00 1.00 1.00 0.91 0.82 0.53 0.25 0.17 0.08 0.00"/><feFuncB type="table" tableValues="0.94 0.96 0.97 0.99 1.00 1.00 1.00 1.00 0.97 0.89 0.68 0.44 0.25 0.06 0.03 0.00 0.00 0.00 0.00 0.00 0.00"/></feComponentTransfer><feComposite in="col" in2="mask" operator="in" result="o"/><feGaussianBlur in="o" stdDeviation="0.8"/></filter></defs>
<defs>
<pattern id="pchkB" width="11.6" height="11.6" patternUnits="userSpaceOnUse"><rect width="11.6" height="11.6" fill="#050505"/><rect width="5.8" height="5.8" fill="#a8a8a8"/><rect x="5.8" y="5.8" width="5.8" height="5.8" fill="#a8a8a8"/></pattern>
<pattern id="phB" width="10" height="8.8" patternUnits="userSpaceOnUse"><rect width="10" height="8.8" fill="#8a8a8a"/><rect width="10" height="2.6" fill="#2a2a2a"/></pattern>
<pattern id="pchkR" width="12.8" height="12.8" patternUnits="userSpaceOnUse"><rect width="12.8" height="12.8" fill="#050505"/><rect width="6.4" height="6.4" fill="#f0f0f0"/><rect x="6.4" y="6.4" width="6.4" height="6.4" fill="#d8d8d8"/></pattern>
<pattern id="phR" width="10" height="9.5" patternUnits="userSpaceOnUse"><rect width="10" height="9.5" fill="#8c8c8c"/><rect width="10" height="2.8" fill="#2a2a2a"/></pattern>
<pattern id="pd1" width="9" height="9" patternUnits="userSpaceOnUse" patternTransform="rotate(40)"><rect width="9" height="9" fill="#2c2c2c"/><rect width="3.4" height="9" fill="#777"/></pattern>
<pattern id="pd2" width="9" height="9" patternUnits="userSpaceOnUse" patternTransform="rotate(-40)"><rect width="9" height="9" fill="#303030"/><rect width="4" height="9" fill="#9a9a9a"/></pattern>
<pattern id="phC" width="10" height="4.2" patternUnits="userSpaceOnUse"><rect width="10" height="4.2" fill="#9a9a9a"/><rect width="10" height="1.6" fill="#555"/></pattern>
<pattern id="pdotC" width="5" height="5" patternUnits="userSpaceOnUse"><rect width="5" height="5" fill="#d4d4d4"/><rect x="1" y="1" width="2" height="2" fill="#b0b0b0"/></pattern>
<pattern id="pwdot" width="6.8" height="6.8" patternUnits="userSpaceOnUse"><rect width="6.8" height="6.8" fill="#0a0a0a"/><rect x="1" y="1" width="2.4" height="2.4" fill="#e8e8e8"/><rect x="4.4" y="4.4" width="2.4" height="2.4" fill="#e8e8e8"/></pattern>
</defs>
<text x="48" y="46.8" font-size="37.5" class="s" transform="translate(48 46.8) scale(0.95 1) translate(-48 -46.8)">A</text>
<text x="287" y="93" font-size="36" class="r" text-anchor="middle">Day 7</text>
<path d="M76 224.2 V477 H456" stroke="#1a1a1a" stroke-width="3" fill="none"/>
<line x1="69.5" y1="477" x2="76" y2="477" stroke="#1a1a1a" stroke-width="3"/>
<text x="65.5" y="484" font-size="19.5" class="sb" text-anchor="end" fill="#1a1a1a">0</text>
<line x1="69.5" y1="413.8" x2="76" y2="413.8" stroke="#1a1a1a" stroke-width="3"/>
<text x="65.5" y="420.8" font-size="19.5" class="sb" text-anchor="end" fill="#1a1a1a">20</text>
<line x1="69.5" y1="350.6" x2="76" y2="350.6" stroke="#1a1a1a" stroke-width="3"/>
<text x="65.5" y="357.6" font-size="19.5" class="sb" text-anchor="end" fill="#1a1a1a">40</text>
<line x1="69.5" y1="287.4" x2="76" y2="287.4" stroke="#1a1a1a" stroke-width="3"/>
<text x="65.5" y="294.4" font-size="19.5" class="sb" text-anchor="end" fill="#1a1a1a">60</text>
<line x1="69.5" y1="224.2" x2="76" y2="224.2" stroke="#1a1a1a" stroke-width="3"/>
<text x="65.5" y="231.2" font-size="19.5" class="sb" text-anchor="end" fill="#1a1a1a">80</text>
<line x1="112.4" y1="477" x2="112.4" y2="486" stroke="#1a1a1a" stroke-width="3"/>
<line x1="187.9" y1="477" x2="187.9" y2="486" stroke="#1a1a1a" stroke-width="3"/>
<line x1="264.6" y1="477" x2="264.6" y2="486" stroke="#1a1a1a" stroke-width="3"/>
<line x1="340.7" y1="477" x2="340.7" y2="486" stroke="#1a1a1a" stroke-width="3"/>
<line x1="417" y1="477" x2="417" y2="486" stroke="#1a1a1a" stroke-width="3"/>
<text x="119.4" y="501" font-size="18" class="sb" text-anchor="end" fill="#1a1a1a" transform="rotate(-45 119.4 501)">Normal</text>
<text x="194.9" y="501" font-size="18" class="sb" text-anchor="end" fill="#1a1a1a" transform="rotate(-45 194.9 501)">pAD-Amp OX</text>
<text x="271.6" y="501" font-size="18" class="sb" text-anchor="end" fill="#1a1a1a" transform="rotate(-45 271.6 501)">Tβ15 OX</text>
<text x="347.7" y="501" font-size="18" class="sb" text-anchor="end" fill="#1a1a1a" transform="rotate(-45 347.7 501)">NC siRNA</text>
<text x="424" y="501" font-size="18" class="sb" text-anchor="end" fill="#1a1a1a" transform="rotate(-45 424 501)">Tβ15 siRNA</text>
<text x="32.6" y="338" font-size="24.5" class="sb" text-anchor="middle" fill="#1a1a1a" transform="rotate(-90 32.6 338) translate(32.6 338) scale(0.79 1) translate(-32.6 -338)">number of nidifugous thymocytes(10<tspan dy="-10" font-size="14">5</tspan><tspan dy="10">)</tspan></text>
<circle cx="92.4" cy="408.4" r="6.3" fill="#b00000"/>
<circle cx="112.4" cy="412.2" r="6.3" fill="#b00000"/>
<circle cx="132.4" cy="412.2" r="6.3" fill="#b00000"/>
<circle cx="112.4" cy="441" r="6.3" fill="#b00000"/>
<line x1="86.4" y1="418.2" x2="136.4" y2="418.2" stroke="#111" stroke-width="3"/>
<line x1="111.4" y1="426.1" x2="111.4" y2="411" stroke="#111" stroke-width="3"/>
<line x1="100.4" y1="426.1" x2="122.4" y2="426.1" stroke="#111" stroke-width="3"/>
<line x1="100.4" y1="411" x2="122.4" y2="411" stroke="#111" stroke-width="3"/>
<rect x="182.6" y="351" width="10.6" height="10.6" fill="#f58a8a"/>
<rect x="170.6" y="382.3" width="10.6" height="10.6" fill="#f58a8a"/>
<rect x="194.6" y="384.8" width="10.6" height="10.6" fill="#f58a8a"/>
<rect x="182.6" y="403.4" width="10.6" height="10.6" fill="#f58a8a"/>
<line x1="162.9" y1="386.3" x2="212.9" y2="386.3" stroke="#111" stroke-width="3"/>
<line x1="187.9" y1="398.3" x2="187.9" y2="375.2" stroke="#111" stroke-width="3"/>
<line x1="176.9" y1="398.3" x2="198.9" y2="398.3" stroke="#111" stroke-width="3"/>
<line x1="176.9" y1="375.2" x2="198.9" y2="375.2" stroke="#111" stroke-width="3"/>
<path d="M244.6 404.1l5 9h-10z" fill="#1aa3c8"/>
<path d="M258.6 400l5 9h-10z" fill="#1aa3c8"/>
<path d="M270.6 405.6l5 9h-10z" fill="#1aa3c8"/>
<path d="M284.6 402.5l5 9h-10z" fill="#1aa3c8"/>
<line x1="239.6" y1="407.5" x2="289.6" y2="407.5" stroke="#111" stroke-width="3"/>
<line x1="264.6" y1="408.7" x2="264.6" y2="406.2" stroke="#111" stroke-width="3"/>
<line x1="253.6" y1="408.7" x2="275.6" y2="408.7" stroke="#111" stroke-width="3"/>
<line x1="253.6" y1="406.2" x2="275.6" y2="406.2" stroke="#111" stroke-width="3"/>
<circle cx="340.7" cy="333.5" r="5.8" fill="#c8c41a"/>
<circle cx="340.7" cy="348.1" r="5.8" fill="#c8c41a"/>
<circle cx="340.7" cy="393.3" r="5.8" fill="#c8c41a"/>
<circle cx="340.7" cy="410.6" r="5.8" fill="#c8c41a"/>
<line x1="315.7" y1="371.8" x2="365.7" y2="371.8" stroke="#111" stroke-width="3"/>
<line x1="340.7" y1="390.1" x2="340.7" y2="353.4" stroke="#111" stroke-width="3"/>
<line x1="329.7" y1="390.1" x2="351.7" y2="390.1" stroke="#111" stroke-width="3"/>
<line x1="329.7" y1="353.4" x2="351.7" y2="353.4" stroke="#111" stroke-width="3"/>
<path d="M417 233.1l5 5l-5 5l-5 -5z" fill="#7a1fa0"/>
<path d="M403 283l5 5l-5 5l-5 -5z" fill="#7a1fa0"/>
<path d="M431 283l5 5l-5 5l-5 -5z" fill="#7a1fa0"/>
<path d="M417 300.4l5 5l-5 5l-5 -5z" fill="#7a1fa0"/>
<line x1="392" y1="280.4" x2="442" y2="280.4" stroke="#111" stroke-width="3"/>
<line x1="417" y1="295.3" x2="417" y2="265.6" stroke="#111" stroke-width="3"/>
<line x1="406" y1="295.3" x2="428" y2="295.3" stroke="#111" stroke-width="3"/>
<line x1="406" y1="265.6" x2="428" y2="265.6" stroke="#111" stroke-width="3"/>
<path d="M188 334V310.5H265.5V390" stroke="#111" stroke-width="3" fill="none"/>
<text x="228" y="294" font-size="19" class="s" text-anchor="middle" fill="#222">ns</text>
<path d="M340.7 312V199.5H419.3V222" stroke="#111" stroke-width="3" fill="none"/>
<text x="380" y="181" font-size="19" class="sb" text-anchor="middle" fill="#333" transform="translate(380 181) scale(1.15 1) translate(-380 -181)">###</text>
<defs><filter id="mb" x="-5%" y="-5%" width="110%" height="110%"><feGaussianBlur stdDeviation="0.9"/></filter><clipPath id="mct"><rect x="566" y="40" width="409" height="315"/></clipPath><clipPath id="mcb"><rect x="566" y="357" width="409" height="316"/></clipPath></defs>
<g clip-path="url(#mct)">
<rect x="566" y="40" width="409" height="315" fill="#a2dcef"/>
<g filter="url(#mb)">
<path d="M698.4 87.5h0M832.2 62.8h0M785.2 155.2h0M589.7 199.8h0M581.3 176.6h0M594.6 68.6h0M739.6 300.5h0M616.6 110.3h0M822.6 338.5h0M802.0 165.0h0M965.3 54.7h0M917.1 131.2h0M625.0 77.1h0M692.2 297.1h0M639.9 223.2h0M827.3 157.3h0M790.0 59.8h0M590.4 104.9h0M844.3 174.7h0M694.5 224.5h0M751.4 134.4h0M890.9 260.2h0M665.8 220.9h0M780.8 315.7h0M864.3 130.7h0M966.9 77.2h0M737.0 278.5h0M628.2 194.0h0M582.0 250.5h0M878.7 220.5h0M850.4 227.2h0M803.2 183.7h0M909.5 337.6h0M759.9 249.2h0M830.7 352.8h0M902.2 129.6h0M723.8 250.6h0M590.1 282.0h0M725.9 314.5h0M599.0 181.5h0M901.1 312.2h0M679.9 170.8h0M638.1 113.1h0M661.4 192.8h0M807.0 122.8h0M567.7 172.0h0M717.0 218.4h0M955.8 257.5h0M776.8 234.5h0M933.9 285.7h0M726.5 165.7h0M608.3 239.8h0M651.4 91.1h0M705.1 56.6h0M566.1 87.6h0M607.5 154.5h0M576.4 315.4h0M817.2 86.8h0M669.2 149.4h0M714.9 78.7h0M913.2 352.8h0M756.6 192.4h0M706.1 123.4h0M905.0 90.9h0M575.4 339.6h0M782.1 86.2h0M782.0 348.2h0M919.1 259.3h0M634.3 283.2h0M783.8 285.4h0M700.8 110.3h0M897.9 350.3h0M914.7 293.9h0M900.7 273.1h0M577.4 128.0h0M672.0 258.1h0M957.2 180.9h0M949.2 351.2h0M956.6 154.9h0M656.2 111.5h0M821.2 323.6h0M909.7 191.0h0M833.1 291.9h0M872.8 190.6h0M730.2 338.2h0M862.4 93.6h0M625.8 300.4h0M966.9 247.0h0M619.6 44.5h0M781.4 334.1h0M743.4 314.6h0M903.9 106.5h0M669.0 132.3h0M619.6 326.7h0M710.7 184.3h0M804.6 324.9h0M771.2 207.5h0M780.1 45.9h0M746.0 97.7h0M567.6 291.7h0M862.6 215.3h0M699.3 203.3h0M609.4 216.5h0M939.2 179.6h0M816.5 199.2h0M775.5 258.2h0M751.0 208.0h0M761.5 336.6h0M852.0 316.1h0M951.4 121.8h0M615.7 179.3h0M886.6 322.6h0M629.2 265.6h0M836.0 85.0h0M927.1 344.8h0M655.8 340.0h0M728.9 193.5h0M970.9 302.2h0M632.0 175.9h0M646.1 140.3h0M861.4 46.1h0" stroke="#d8f4f0" stroke-width="12" stroke-linecap="round" opacity="0.55"/>
<path d="M698.4 87.5h0M832.2 62.8h0M785.2 155.2h0M589.7 199.8h0M581.3 176.6h0M594.6 68.6h0M739.6 300.5h0M616.6 110.3h0M822.6 338.5h0M802.0 165.0h0M965.3 54.7h0M917.1 131.2h0M625.0 77.1h0M692.2 297.1h0M639.9 223.2h0M827.3 157.3h0M790.0 59.8h0M590.4 104.9h0M844.3 174.7h0M694.5 224.5h0M751.4 134.4h0M890.9 260.2h0M665.8 220.9h0M780.8 315.7h0M864.3 130.7h0M966.9 77.2h0M737.0 278.5h0M628.2 194.0h0M582.0 250.5h0M878.7 220.5h0M850.4 227.2h0M803.2 183.7h0M909.5 337.6h0M759.9 249.2h0M830.7 352.8h0M902.2 129.6h0M723.8 250.6h0M590.1 282.0h0M725.9 314.5h0M599.0 181.5h0M901.1 312.2h0M679.9 170.8h0M638.1 113.1h0M661.4 192.8h0M807.0 122.8h0M567.7 172.0h0M717.0 218.4h0M955.8 257.5h0M776.8 234.5h0M933.9 285.7h0M726.5 165.7h0M608.3 239.8h0M651.4 91.1h0M705.1 56.6h0M566.1 87.6h0M607.5 154.5h0M576.4 315.4h0M817.2 86.8h0M669.2 149.4h0M714.9 78.7h0M913.2 352.8h0M756.6 192.4h0M706.1 123.4h0M905.0 90.9h0M575.4 339.6h0M782.1 86.2h0M782.0 348.2h0M919.1 259.3h0M634.3 283.2h0M783.8 285.4h0M700.8 110.3h0M897.9 350.3h0M914.7 293.9h0M900.7 273.1h0M577.4 128.0h0M672.0 258.1h0M957.2 180.9h0M949.2 351.2h0M956.6 154.9h0M656.2 111.5h0M821.2 323.6h0M909.7 191.0h0M833.1 291.9h0M872.8 190.6h0M730.2 338.2h0M862.4 93.6h0M625.8 300.4h0M966.9 247.0h0M619.6 44.5h0M781.4 334.1h0M743.4 314.6h0M903.9 106.5h0M669.0 132.3h0M619.6 326.7h0M710.7 184.3h0M804.6 324.9h0M771.2 207.5h0M780.1 45.9h0M746.0 97.7h0M567.6 291.7h0M862.6 215.3h0M699.3 203.3h0M609.4 216.5h0M939.2 179.6h0M816.5 199.2h0M775.5 258.2h0M751.0 208.0h0M761.5 336.6h0M852.0 316.1h0M951.4 121.8h0M615.7 179.3h0M886.6 322.6h0M629.2 265.6h0M836.0 85.0h0M927.1 344.8h0M655.8 340.0h0M728.9 193.5h0M970.9 302.2h0M632.0 175.9h0M646.1 140.3h0M861.4 46.1h0" stroke="#1f4f9f" stroke-width="7" stroke-linecap="round"/>
</g>
<rect x="929" y="333" width="35" height="15" fill="#fff" stroke="#333" stroke-width="1"/>
<text x="946.5" y="344" font-size="8" class="s" text-anchor="middle" fill="#333">20 μm</text>
</g>
<g clip-path="url(#mcb)">
<rect x="566" y="357" width="409" height="316" fill="#a4d9ea"/>
<g filter="url(#mb)">
<path d="M793.1 495.6h0M568.6 460.1h0M822.4 519.0h0M587.9 673.1h0M891.3 668.8h0M604.9 438.6h0M577.6 606.0h0M674.3 394.2h0M737.9 649.1h0M904.2 436.3h0M623.6 651.6h0M800.1 580.3h0M598.5 370.8h0M849.4 490.7h0M591.3 657.9h0M826.8 613.3h0M596.1 631.1h0M751.1 462.6h0M792.7 654.1h0M781.8 429.7h0M606.9 404.6h0M582.1 417.8h0M691.7 451.4h0M770.5 410.0h0M706.4 357.9h0M665.9 357.0h0M868.2 531.6h0M952.6 386.6h0M904.1 492.9h0M768.4 624.1h0M725.7 517.2h0M849.2 672.3h0M704.6 623.3h0M857.1 559.3h0M730.6 465.3h0M583.8 394.3h0M590.6 593.5h0M668.1 405.2h0M925.8 570.6h0M679.1 431.0h0M683.8 501.8h0M627.0 497.3h0M671.3 665.5h0M968.5 530.3h0M690.7 468.2h0M561.4 476.4h0M759.9 515.9h0M563.1 438.1h0M598.6 482.2h0M578.5 359.3h0M806.4 524.5h0M875.5 566.4h0M861.0 638.6h0M724.2 458.3h0M973.6 400.7h0M579.3 624.3h0M934.7 556.5h0M868.5 616.8h0M619.4 522.7h0M898.2 621.4h0M805.7 643.1h0M847.1 578.0h0M657.3 362.2h0M616.8 469.6h0M605.0 624.5h0M795.0 556.7h0M823.4 573.9h0M766.0 353.1h0M895.2 595.9h0M771.7 526.5h0M837.2 373.5h0M869.7 434.2h0M592.2 438.6h0M866.6 418.9h0M871.0 670.1h0M768.0 476.7h0M882.4 553.1h0M622.8 434.8h0M798.9 356.1h0M844.1 446.8h0M777.4 503.5h0M756.4 390.6h0M935.4 417.0h0M970.8 657.2h0M568.3 501.6h0M904.5 667.6h0M749.3 439.6h0M648.9 660.3h0M649.3 541.6h0M960.2 395.2h0M904.7 517.9h0M932.6 581.3h0M657.9 644.7h0M562.5 512.3h0M749.9 450.4h0M693.4 625.9h0M561.7 596.7h0M912.6 391.1h0M949.2 584.4h0M938.8 446.5h0M717.0 480.1h0M979.5 544.1h0M712.1 491.5h0M676.3 367.7h0M680.7 657.0h0M665.5 438.6h0M717.4 663.7h0M931.5 616.7h0M825.3 649.8h0M955.2 531.0h0M862.5 368.1h0M867.9 499.0h0M685.8 592.9h0M970.1 436.8h0M835.9 450.1h0M794.5 480.6h0M631.1 404.7h0M648.1 647.3h0M769.3 423.7h0M940.7 676.9h0M749.5 397.5h0M641.6 381.6h0M704.3 381.7h0M875.1 486.6h0M734.4 522.9h0M922.5 422.4h0M728.5 497.3h0M960.7 628.7h0M926.7 359.1h0M574.5 583.3h0M936.3 506.3h0M807.0 352.1h0M725.0 654.1h0M906.9 630.9h0M832.2 601.3h0M752.6 531.8h0M608.0 374.9h0M780.7 542.0h0M723.6 424.9h0M962.8 562.1h0M659.4 432.5h0M963.5 581.7h0M689.8 359.1h0M737.0 435.9h0M840.6 653.6h0M702.6 489.1h0M847.0 416.6h0M967.4 453.6h0M904.6 427.2h0M653.8 599.9h0M622.3 480.3h0M650.2 669.6h0M620.5 368.9h0M586.2 480.2h0M937.3 640.0h0M951.3 459.3h0M638.7 657.1h0M873.7 362.4h0M839.4 475.4h0M631.9 352.9h0M678.2 466.6h0M965.0 419.6h0M581.6 506.3h0M641.9 470.7h0M936.8 361.9h0M733.1 616.7h0M882.2 365.3h0M575.6 372.4h0M946.5 435.8h0M874.1 644.9h0M703.1 440.8h0M962.3 553.1h0M670.9 585.6h0M693.6 441.9h0M945.0 558.7h0M956.2 359.9h0M961.9 663.0h0M722.9 433.8h0M741.1 512.9h0M949.9 411.6h0M905.7 603.9h0M815.4 458.9h0M888.8 377.8h0M643.7 597.4h0M664.6 373.1h0M575.2 532.1h0M697.5 671.6h0M931.2 674.0h0M672.0 379.4h0M601.4 514.5h0M858.4 497.7h0M874.4 628.1h0M839.4 391.5h0M913.3 447.8h0M625.2 640.2h0M803.3 458.4h0M727.0 675.5h0M899.7 565.0h0M976.2 385.4h0M759.9 619.0h0M913.2 650.1h0M577.9 447.7h0M611.0 413.8h0M968.7 542.1h0M950.7 473.3h0M923.9 498.4h0M669.9 605.6h0M810.8 554.1h0M652.2 472.2h0M620.2 418.5h0M667.8 547.4h0M834.0 418.3h0M894.2 530.7h0M587.5 385.1h0M726.6 531.3h0M828.8 381.7h0M629.6 578.7h0M732.7 444.4h0M689.9 662.7h0M691.9 536.7h0M923.1 676.9h0M563.5 645.9h0M731.2 639.8h0M754.1 405.0h0M598.3 554.8h0M716.4 516.5h0M622.1 444.4h0M779.4 653.7h0M643.7 393.3h0M956.1 670.0h0M763.3 369.4h0M906.5 404.3h0M890.3 424.4h0M730.5 627.9h0M778.0 477.0h0M612.6 432.5h0M812.2 531.3h0M823.7 451.8h0M737.0 541.9h0M739.4 566.8h0M748.2 494.9h0M570.8 553.8h0M880.9 606.3h0M614.8 492.4h0M599.4 496.1h0M774.8 365.3h0M868.3 605.5h0M642.2 672.0h0M767.1 663.9h0M891.3 655.4h0M588.5 466.4h0M877.8 403.8h0M648.3 437.7h0M773.0 456.0h0M576.4 411.4h0M845.8 643.9h0M631.7 607.9h0M609.2 525.0h0M827.6 469.3h0M926.8 533.0h0M604.8 675.7h0M824.9 480.5h0M895.2 438.3h0M711.9 601.3h0M746.3 409.6h0M828.8 672.8h0M806.5 568.4h0M575.2 400.7h0M819.1 492.9h0M775.8 643.9h0M834.7 359.3h0M562.1 467.7h0M605.6 468.4h0M807.8 418.6h0M822.4 506.8h0M617.5 657.3h0M926.1 607.0h0M565.8 562.3h0M796.6 466.2h0M831.5 496.7h0M731.1 429.5h0M566.2 531.6h0M644.6 550.2h0M581.3 641.9h0M889.1 585.2h0M563.7 627.3h0M655.7 386.3h0M701.6 596.4h0M852.3 627.6h0M859.2 438.7h0M891.4 522.6h0M672.2 561.3h0M670.1 429.0h0M872.7 660.0h0M929.8 459.1h0M839.7 671.2h0M744.2 588.2h0M593.6 648.9h0M605.7 654.8h0M705.5 398.2h0M853.0 592.2h0M588.6 544.5h0M713.3 618.5h0M904.4 642.6h0M588.6 634.9h0M944.1 659.9h0M607.9 363.2h0M916.2 616.7h0M602.8 383.9h0M878.3 418.8h0M679.4 585.3h0M715.2 456.6h0M964.9 516.2h0M917.7 553.6h0M574.0 486.6h0M743.9 604.0h0M706.3 581.7h0M786.4 422.6h0M922.3 381.6h0M561.5 417.9h0M880.4 670.8h0M766.9 611.7h0M679.9 422.0h0M854.1 514.5h0M607.1 559.5h0M594.9 608.9h0M853.1 608.5h0M729.1 480.6h0M934.1 380.1h0M938.6 515.4h0M719.9 640.2h0M783.7 598.0h0M707.0 458.5h0M838.4 593.9h0M885.1 540.8h0M613.8 502.6h0M931.9 429.6h0M641.3 450.3h0M664.7 458.5h0M779.8 404.5h0M969.6 589.6h0M603.7 665.7h0M973.2 611.1h0M643.2 560.0h0M723.7 363.1h0M728.2 609.9h0M620.4 548.8h0M730.6 593.5h0M941.5 492.2h0M801.5 596.2h0M692.2 556.8h0M824.8 433.5h0M738.5 500.4h0M887.1 478.7h0M955.1 521.3h0M603.4 539.3h0M787.7 585.8h0M732.9 661.0h0M649.0 575.1h0M725.5 600.6h0M709.9 370.5h0M676.0 482.3h0M737.2 579.6h0M652.7 613.3h0M615.2 605.2h0M709.0 560.2h0M790.7 392.8h0M910.3 467.6h0M917.4 439.2h0M562.1 587.3h0M950.1 630.5h0M940.5 607.6h0M826.3 356.9h0M565.8 662.3h0M835.8 433.5h0M815.9 606.7h0M744.8 639.8h0M793.6 438.2h0M659.1 397.4h0M787.1 633.3h0M963.5 376.6h0M827.9 559.4h0M702.9 632.9h0M714.4 506.7h0M738.0 532.6h0M907.8 483.6h0M772.1 440.6h0M773.2 669.8h0M686.4 543.2h0M947.1 550.4h0M819.4 556.3h0M852.8 546.4h0M840.5 501.3h0M880.6 385.0h0M637.0 364.1h0M687.6 489.5h0M583.9 537.0h0M900.5 539.6h0M809.0 657.7h0M971.9 507.0h0M733.8 385.3h0M624.6 357.1h0M563.0 574.9h0M612.0 667.0h0M615.0 357.8h0M866.8 379.5h0M824.4 583.2h0M754.0 655.9h0M861.5 355.7h0M903.5 378.0h0M715.0 539.4h0M956.9 607.8h0M798.5 447.3h0M700.1 549.5h0M970.6 623.0h0M718.8 575.3h0M793.0 611.9h0M951.4 428.3h0M756.0 419.3h0M667.7 596.9h0M892.7 501.9h0M931.9 522.1h0M760.7 544.1h0M640.3 414.7h0M978.8 473.9h0M890.9 402.9h0M575.1 674.9h0M923.9 510.5h0M887.5 490.9h0M942.3 372.9h0M811.6 481.6h0M668.8 536.0h0M829.4 663.8h0M965.7 675.3h0M668.2 466.8h0M911.8 367.3h0M605.2 457.6h0M762.7 407.0h0M844.9 356.1h0M576.1 654.4h0M924.2 641.7h0M905.9 507.7h0M824.2 398.5h0M653.9 370.5h0M631.3 512.1h0M694.3 646.4h0M761.1 445.3h0M669.0 417.7h0M713.6 675.1h0M979.2 653.6h0M601.9 446.4h0M865.4 447.7h0M971.0 357.2h0M899.1 463.1h0M943.1 423.2h0M800.4 397.0h0M816.0 513.5h0M645.8 373.4h0M926.4 438.8h0M639.0 623.1h0M714.8 405.3h0M562.9 521.5h0M747.8 520.1h0M611.6 585.0h0M695.5 583.8h0M786.1 358.7h0M665.9 618.4h0M573.6 383.4h0M855.4 385.5h0M925.3 585.8h0M731.0 396.6h0M809.0 632.7h0M622.7 538.7h0M907.1 657.7h0M723.9 489.1h0M912.8 523.4h0M743.5 671.9h0M898.0 649.6h0M583.4 520.7h0M783.4 374.6h0M967.3 605.2h0M953.6 558.4h0M779.0 493.4h0M959.4 445.7h0M611.4 545.7h0M673.5 504.1h0M612.9 394.8h0M597.8 530.1h0M645.3 583.6h0M794.2 512.2h0M680.3 673.9h0M684.8 603.7h0M627.4 373.8h0M606.8 425.4h0M625.7 461.9h0M708.7 572.2h0M819.2 629.1h0M870.5 594.3h0M879.3 506.9h0M944.3 393.5h0M800.7 488.2h0M889.4 636.5h0M770.3 496.8h0M804.7 380.7h0M914.4 625.2h0M565.5 367.5h0M786.6 677.5h0M777.8 520.6h0M848.1 479.0h0M708.1 661.0h0M844.4 523.2h0M745.4 555.6h0M978.4 463.9h0M783.1 618.0h0M632.5 455.7h0M775.8 388.0h0M933.1 489.2h0M825.0 548.6h0M827.7 365.8h0M689.5 577.2h0M562.6 451.3h0M913.9 543.1h0M817.8 615.0h0M587.0 356.1h0M860.8 467.4h0M632.0 438.9h0M602.7 646.7h0M749.5 477.7h0M902.9 451.0h0M813.5 665.0h0M662.8 479.1h0M690.5 637.4h0M729.9 373.3h0M708.2 431.8h0M839.3 463.3h0M746.7 624.6h0M937.9 543.5h0M815.8 421.3h0M926.5 392.0h0M722.2 566.4h0M724.4 380.0h0M695.5 568.1h0M685.4 373.5h0M930.9 632.8h0M573.4 573.6h0M824.5 411.2h0M868.6 584.3h0M628.9 416.6h0M688.0 476.1h0M580.8 431.7h0M607.6 610.0h0M957.5 490.2h0M583.8 579.6h0M733.5 417.7h0M691.1 396.5h0M857.2 570.5h0M631.9 569.3h0M811.8 502.3h0M882.0 623.0h0M697.0 504.8h0M976.7 596.6h0M596.2 585.8h0M908.9 594.0h0M904.5 582.0h0M768.1 514.8h0M849.3 405.3h0M679.7 567.7h0M939.8 405.6h0M968.0 648.2h0M844.4 550.6h0M960.2 508.7h0M596.7 567.3h0M608.0 633.1h0M766.0 532.6h0M725.2 407.8h0M567.4 545.7h0M650.3 449.8h0M631.4 595.0h0M814.0 384.5h0M638.6 532.7h0M720.6 399.0h0M771.2 636.6h0M896.4 363.6h0M926.8 551.1h0M807.9 366.2h0M632.1 469.7h0M753.5 673.6h0M675.5 515.0h0M782.3 664.0h0M795.9 603.3h0M713.1 443.8h0M954.3 574.1h0M870.9 517.9h0M564.0 635.9h0M594.5 410.3h0M804.2 673.9h0M589.4 510.0h0M856.1 423.2h0M832.9 484.1h0M580.0 556.2h0M701.2 513.2h0M811.5 435.8h0M755.2 356.4h0M974.8 370.3h0M793.5 566.3h0M859.1 600.8h0M975.6 426.4h0M793.6 411.3h0M623.6 409.8h0M588.4 562.4h0M657.9 418.2h0M764.4 642.5h0M922.7 411.4h0M847.1 381.4h0M703.3 651.4h0M849.9 364.3h0M611.5 510.9h0M623.0 592.7h0M945.9 465.9h0M675.4 409.8h0M849.3 564.9h0M788.9 530.9h0M979.3 353.7h0M914.2 607.6h0M851.9 457.7h0M831.8 531.0h0M659.2 557.2h0M872.4 475.5h0M859.4 480.3h0M672.0 648.3h0M759.3 587.2h0M720.7 623.3h0M903.6 392.1h0M750.7 380.7h0M827.5 632.0h0M893.0 553.4h0M699.0 375.1h0M938.7 598.8h0M754.8 502.7h0M845.9 532.6h0M593.3 618.5h0M876.6 536.0h0M979.2 618.3h0M563.5 674.3h0M785.9 473.9h0M805.6 471.2h0M896.8 417.3h0M946.2 533.3h0M784.4 485.3h0M585.2 493.4h0M810.8 410.7h0M896.5 514.4h0M943.1 457.8h0M654.6 529.9h0M598.1 397.5h0M795.3 383.2h0M575.1 519.4h0M708.9 474.2h0M838.9 405.4h0M623.4 382.6h0M629.7 526.6h0M661.5 636.1h0M778.1 447.2h0M803.4 428.3h0M946.8 355.5h0M644.0 423.6h0M965.6 571.3h0M873.4 396.0h0M808.4 493.9h0M925.9 449.5h0M752.9 429.1h0M893.5 574.6h0M955.6 621.2h0M611.6 574.6h0M962.3 470.1h0M816.7 643.4h0M975.2 413.8h0M751.5 615.9h0M922.3 519.5h0M935.5 569.2h0M747.1 664.3h0M748.6 596.9h0M934.4 589.6h0M960.3 642.6h0M829.8 443.6h0M802.0 621.2h0M928.6 404.9h0M870.4 407.6h0M695.5 494.9h0M713.0 651.1h0M955.0 594.0h0M638.8 636.2h0M840.8 540.4h0M675.7 627.4h0M832.9 638.4h0M854.1 375.5h0M912.4 458.0h0M648.6 625.6h0M738.6 372.6h0M751.2 574.5h0M958.3 651.9h0M629.6 558.1h0M976.4 451.7h0M858.6 660.2h0M971.9 494.4h0M719.8 355.0h0M755.3 366.1h0M590.7 457.4h0M940.5 476.7h0M752.2 542.9h0M758.2 482.5h0M851.0 505.8h0M661.0 673.7h0M826.6 593.8h0M661.7 655.4h0M933.8 650.7h0M789.6 446.9h0M883.1 354.3h0M731.7 551.2h0M943.5 624.9h0M666.9 450.0h0M972.0 565.2h0M911.6 676.1h0M569.8 427.2h0M714.8 527.2h0M965.6 404.5h0M598.6 421.2h0M681.4 647.5h0M860.9 674.6h0M811.5 578.5h0M713.4 587.6h0M722.0 471.1h0M925.4 368.5h0M744.7 389.8h0M925.6 665.8h0M948.2 502.3h0M712.4 391.0h0M834.6 519.8h0M814.5 564.3h0M920.2 471.9h0M656.1 546.9h0M729.4 573.4h0M910.4 417.8h0M979.8 500.8h0M570.6 473.9h0M623.5 396.7h0M659.2 406.6h0M682.4 446.2h0M966.1 635.8h0M851.0 435.3h0M955.9 540.1h0M905.2 548.0h0M917.0 637.3h0M701.5 522.3h0M761.6 436.3h0M895.0 613.5h0M626.9 425.8h0M861.1 524.5h0M841.1 424.3h0M882.8 396.0h0M739.4 462.2h0M968.2 390.1h0M814.1 446.1h0M959.9 458.6h0M897.9 674.9h0M786.9 461.7h0M703.2 607.2h0M650.7 463.0h0M665.5 384.7h0M698.1 360.5h0M590.6 374.1h0M613.3 650.1h0M575.6 544.6h0M980.0 534.9h0M879.2 635.1h0M647.9 359.6h0M859.4 583.6h0M693.3 516.5h0M809.0 399.2h0M916.9 589.5h0M946.6 482.9h0M760.8 460.4h0M723.2 550.6h0M585.9 614.6h0M926.8 597.7h0M856.8 409.1h0M562.9 613.5h0M976.1 576.3h0M867.0 563.5h0M752.2 633.5h0M932.3 471.9h0M966.1 477.5h0M613.0 444.7h0M824.8 535.5h0M712.0 549.2h0M911.6 570.1h0M673.1 639.0h0M607.3 595.3h0M977.3 555.2h0M807.6 613.1h0M801.7 534.7h0M878.1 430.9h0M636.8 374.7h0M738.5 452.6h0M838.1 381.8h0M741.5 402.8h0M841.7 513.6h0M805.3 587.7h0M744.5 353.2h0M772.1 488.5h0M857.9 618.9h0M659.0 607.7h0M835.3 572.4h0M896.1 386.1h0M648.8 638.1h0M617.5 452.6h0M817.4 362.8h0M572.1 597.7h0M792.3 548.1h0M716.7 609.0h0M863.8 389.2h0M914.3 505.2h0M743.4 426.3h0M735.4 363.0h0M747.2 650.5h0M772.1 586.6h0M739.0 474.1h0M912.6 430.5h0M799.0 421.1h0M804.9 516.3h0M975.6 641.1h0M947.3 616.9h0M738.2 624.7h0M821.1 373.3h0M655.9 581.8h0M959.8 432.6h0M773.6 398.7h0M614.3 477.5h0M923.0 560.1h0M771.3 602.5h0M943.2 647.3h0M643.4 612.8h0M583.5 403.9h0M657.6 626.9h0M866.7 540.3h0M666.5 519.9h0M875.2 578.8h0M688.8 523.5h0M885.4 596.3h0M571.6 511.5h0M648.9 399.8h0M562.4 488.6h0M906.4 614.3h0M739.4 489.4h0M935.0 624.7h0M637.2 586.8h0M699.5 659.9h0M700.2 480.8h0M885.4 646.4h0M647.7 409.7h0M633.9 430.8h0M684.3 629.5h0M923.1 652.2h0M881.6 526.7h0M786.5 384.9h0M965.0 364.8h0M951.0 368.9h0M727.8 508.1h0M917.1 400.5h0M706.3 670.0h0M634.7 666.8h0M587.4 529.0h0M795.2 628.7h0M562.2 382.1h0M791.4 644.3h0M664.8 577.1h0M873.1 557.6h0M919.7 486.8h0M978.9 513.7h0M802.9 559.8h0M654.1 566.5h0M957.5 481.0h0M975.7 677.6h0M690.2 386.3h0M795.4 668.3h0M563.2 395.3h0M576.1 664.2h0M777.9 608.1h0M611.4 386.6h0M565.3 355.2h0M936.7 535.3h0M816.0 353.9h0M571.4 631.2h0M949.5 600.6h0M597.6 362.0h0M802.3 411.2h0M836.1 562.7h0M767.2 378.5h0M852.4 394.0h0M679.6 614.3h0M833.8 549.2h0M785.0 514.1h0M887.3 563.1h0M677.2 523.3h0M761.5 398.0h0M895.6 492.9h0M737.6 598.3h0M949.5 449.8h0M841.6 486.2h0M621.5 574.4h0M689.0 613.6h0M597.9 639.6h0M851.1 654.7h0M677.3 553.7h0M797.7 523.8h0M874.9 375.8h0M756.1 646.0h0M915.5 579.4h0M616.2 564.9h0M684.1 438.0h0M790.8 368.8h0M617.1 676.8h0M804.3 546.8h0M974.5 482.1h0M873.5 546.3h0M613.2 534.3h0M862.3 456.7h0M674.1 445.3h0M625.7 671.0h0M583.8 440.2h0M698.8 616.7h0M979.0 587.7h0M678.4 353.6h0M914.1 531.8h0M581.1 570.0h0M688.0 459.0h0M602.5 575.5h0M757.9 610.1h0M862.9 647.7h0M849.3 600.3h0M798.7 366.1h0M624.7 601.3h0M854.6 535.7h0M681.4 639.2h0M861.8 511.4h0M747.1 362.0h0M705.9 532.2h0M756.5 471.2h0M909.5 560.7h0M884.6 573.3h0M604.2 352.2h0M573.7 615.2h0M676.4 594.8h0M860.6 401.4h0M885.6 435.0h0M590.4 427.4h0M880.6 589.0h0M650.9 590.7h0M660.4 590.7h0M879.9 494.4h0M851.4 471.0h0M820.3 528.0h0M867.0 573.8h0M903.7 352.8h0M816.5 591.9h0M812.3 677.5h0M837.1 583.5h0M570.9 418.7h0M783.5 438.0h0M721.8 442.8h0M776.9 467.6h0M633.6 548.2h0M677.9 536.0h0M700.3 541.0h0M763.4 673.0h0M861.4 628.1h0M861.1 548.1h0M804.7 441.6h0M783.5 413.0h0M573.5 645.4h0M845.8 633.3h0M899.2 634.0h0M762.6 490.2h0M721.5 502.0h0M793.1 539.0h0M978.7 526.1h0M758.8 628.2h0M901.6 476.4h0M657.0 443.2h0M690.4 654.1h0M915.9 353.3h0M819.1 466.5h0M877.1 613.8h0M583.7 598.3h0M949.3 566.4h0M893.8 394.2h0M713.8 425.5h0M634.6 644.9h0M635.9 481.2h0M954.1 401.4h0M743.6 417.7h0M916.0 662.0h0M601.8 602.8h0M755.6 523.0h0M770.2 650.2h0M733.7 669.5h0M764.6 503.5h0M979.9 665.7h0M680.6 380.3h0M597.3 672.0h0M945.4 522.3h0M734.9 408.0h0M785.8 500.9h0M681.8 361.3h0M900.9 589.6h0M807.5 390.8h0M631.1 488.3h0M677.5 576.8h0M599.5 431.4h0M609.5 641.5h0M694.4 603.1h0M623.5 508.4h0M886.9 514.5h0M696.9 529.4h0M946.3 638.8h0M780.0 628.4h0M816.0 541.7h0M713.3 632.6h0M697.3 403.0h0M681.7 390.1h0M702.5 390.2h0M795.0 677.8h0M686.4 511.2h0M667.3 627.0h0M911.9 513.6h0M652.0 426.1h0M765.7 468.3h0M631.0 538.6h0M722.0 389.0h0M751.3 564.9h0M720.9 592.6h0M662.6 663.7h0M707.6 500.3h0M843.5 662.2h0M904.1 531.8h0M582.8 460.3h0M709.0 482.6h0M903.6 412.5h0M686.8 410.1h0M944.2 382.8h0M679.9 493.7h0M663.4 566.8h0M732.4 560.6h0M708.9 640.1h0M801.9 651.9h0M680.4 665.3h0M816.7 393.6h0M800.8 506.7h0M793.2 427.6h0M951.1 512.3h0M597.5 504.8h0M630.6 391.5h0M577.0 467.0h0M561.3 428.0h0M770.2 432.0h0M590.6 500.1h0M737.6 633.6h0M698.3 457.7h0M935.0 666.0h0M979.3 631.3h0M679.1 401.7h0M842.6 605.4h0M616.9 402.3h0M913.0 380.6h0M586.6 449.7h0M733.9 353.0h0M783.9 453.5h0M765.9 389.5h0M639.3 403.5h0M953.6 659.0h0M664.0 527.9h0M897.7 484.5h0M763.1 595.2h0M965.7 500.6h0M821.2 676.9h0M700.8 575.4h0M570.2 443.6h0M640.1 571.6h0M887.2 676.6h0M676.7 545.0h0M660.3 536.1h0M635.7 677.4h0M892.5 446.4h0M793.1 592.2h0M829.6 460.0h0M723.2 583.9h0M927.1 482.3h0M674.9 457.6h0M811.2 621.6h0M590.4 418.4h0M863.5 487.7h0M884.4 413.2h0M810.0 598.0h0M714.9 382.5h0M945.3 668.7h0M713.7 465.1h0M590.4 573.4h0M854.2 644.3h0M793.5 455.1h0M718.9 371.2h0M855.6 446.3h0M861.7 610.9h0M970.0 667.1h0M656.3 353.3h0M639.3 462.8h0M726.9 541.7h0M967.0 486.0h0M703.1 450.5h0M800.8 661.3h0M830.4 509.4h0M913.1 495.6h0M608.1 486.4h0M626.6 662.3h0M921.9 630.5h0M943.7 573.5h0M585.5 367.2h0M699.5 468.0h0M591.9 487.9h0M565.7 605.2h0M722.5 631.7h0M934.0 371.2h0M605.9 477.0h0M955.7 418.6h0M566.7 406.3h0M621.6 584.2h0M932.9 397.7h0M845.5 371.5h0M925.1 542.5h0M574.4 563.8h0M746.8 505.9h0M596.1 470.0h0M956.0 498.4h0M778.5 353.4h0M978.8 436.3h0M949.9 677.5h0M922.3 431.3h0M828.1 425.6h0M790.7 401.4h0M816.9 404.2h0M737.3 677.8h0M660.2 469.3h0M646.5 526.0h0M903.8 573.3h0M844.9 587.9h0M943.4 590.7h0M777.8 421.7h0M824.2 604.4h0M880.6 657.1h0M830.1 390.9h0M811.1 374.4h0M800.7 634.9h0M700.6 561.1h0M592.8 520.1h0M895.5 372.4h0M870.2 508.9h0M582.9 588.7h0M716.8 556.1h0M774.3 373.8h0M905.4 361.2h0M863.9 427.3h0M870.5 636.7h0M755.4 602.0h0M936.9 353.3h0M886.6 612.8h0M822.2 658.0h0M758.6 665.3h0M637.8 523.9h0M760.7 426.2h0M594.3 352.1h0M962.8 354.2h0M574.8 496.1h0M954.6 377.6h0M815.5 651.8h0M778.6 533.6h0M947.0 542.0h0M584.4 662.9h0M790.6 575.5h0M605.1 391.9h0M705.9 406.7h0M669.8 676.5h0M924.6 622.1h0M782.3 394.6h0M894.4 471.3h0M979.9 393.6h0M852.8 527.2h0M803.4 480.2h0M616.6 377.1h0M936.2 438.5h0M897.6 661.7h0" stroke="#c8f0f4" stroke-width="9" stroke-linecap="round" opacity="0.5"/>
<path d="M793.1 495.6h0M587.9 673.1h0M577.6 606.0h0M904.2 436.3h0M598.5 370.8h0M826.8 613.3h0M792.7 654.1h0M582.1 417.8h0M706.4 357.9h0M952.6 386.6h0M725.7 517.2h0M857.1 559.3h0M590.6 593.5h0M679.1 431.0h0M671.3 665.5h0M561.4 476.4h0M598.6 482.2h0M875.5 566.4h0M973.6 400.7h0M868.5 616.8h0M805.7 643.1h0M616.8 469.6h0M823.4 573.9h0M771.7 526.5h0M592.2 438.6h0M768.0 476.7h0M798.9 356.1h0M756.4 390.6h0M568.3 501.6h0M648.9 660.3h0M904.7 517.9h0M562.5 512.3h0M561.7 596.7h0M938.8 446.5h0M712.1 491.5h0M665.5 438.6h0M825.3 649.8h0M867.9 499.0h0M835.9 450.1h0M648.1 647.3h0M749.5 397.5h0M875.1 486.6h0M728.5 497.3h0M574.5 583.3h0M725.0 654.1h0M752.6 531.8h0M723.6 424.9h0M963.5 581.7h0M840.6 653.6h0M967.4 453.6h0M622.3 480.3h0M586.2 480.2h0M638.7 657.1h0M631.9 352.9h0M581.6 506.3h0M733.1 616.7h0M946.5 435.8h0M962.3 553.1h0M945.0 558.7h0M722.9 433.8h0M905.7 603.9h0M643.7 597.4h0M697.5 671.6h0M601.4 514.5h0M839.4 391.5h0M803.3 458.4h0M976.2 385.4h0M577.9 447.7h0M950.7 473.3h0M810.8 554.1h0M667.8 547.4h0M587.5 385.1h0M629.6 578.7h0M691.9 536.7h0M731.2 639.8h0M716.4 516.5h0M643.7 393.3h0M906.5 404.3h0M778.0 477.0h0M823.7 451.8h0M748.2 494.9h0M614.8 492.4h0M868.3 605.5h0M891.3 655.4h0M648.3 437.7h0M845.8 643.9h0M827.6 469.3h0M824.9 480.5h0M746.3 409.6h0M575.2 400.7h0M834.7 359.3h0M807.8 418.6h0M926.1 607.0h0M831.5 496.7h0M644.6 550.2h0M563.7 627.3h0M852.3 627.6h0M672.2 561.3h0M929.8 459.1h0M593.6 648.9h0M853.0 592.2h0M904.4 642.6h0M607.9 363.2h0M878.3 418.8h0M964.9 516.2h0M743.9 604.0h0M922.3 381.6h0M766.9 611.7h0M607.1 559.5h0M729.1 480.6h0M719.9 640.2h0M838.4 593.9h0M931.9 429.6h0M779.8 404.5h0M973.2 611.1h0M728.2 609.9h0M941.5 492.2h0M824.8 433.5h0M955.1 521.3h0M732.9 661.0h0M709.9 370.5h0M652.7 613.3h0M790.7 392.8h0M562.1 587.3h0M826.3 356.9h0M815.9 606.7h0M659.1 397.4h0M827.9 559.4h0M738.0 532.6h0M773.2 669.8h0M819.4 556.3h0M880.6 385.0h0M583.9 537.0h0M971.9 507.0h0M563.0 574.9h0M866.8 379.5h0M861.5 355.7h0M956.9 607.8h0M970.6 623.0h0M951.4 428.3h0M892.7 501.9h0M640.3 414.7h0M575.1 674.9h0M942.3 372.9h0M829.4 663.8h0M911.8 367.3h0M844.9 356.1h0M905.9 507.7h0M631.3 512.1h0M669.0 417.7h0M601.9 446.4h0M899.1 463.1h0M816.0 513.5h0M639.0 623.1h0M747.8 520.1h0M786.1 358.7h0M855.4 385.5h0M809.0 632.7h0M723.9 489.1h0M898.0 649.6h0M967.3 605.2h0M959.4 445.7h0M612.9 394.8h0M794.2 512.2h0M627.4 373.8h0M708.7 572.2h0M879.3 506.9h0M889.4 636.5h0M914.4 625.2h0M777.8 520.6h0M844.4 523.2h0M783.1 618.0h0M933.1 489.2h0M689.5 577.2h0M817.8 615.0h0M632.0 438.9h0M902.9 451.0h0M690.5 637.4h0M839.3 463.3h0M815.8 421.3h0M724.4 380.0h0M930.9 632.8h0M868.6 584.3h0M580.8 431.7h0M583.8 579.6h0M857.2 570.5h0M882.0 623.0h0M596.2 585.8h0M768.1 514.8h0M939.8 405.6h0M960.2 508.7h0M766.0 532.6h0M650.3 449.8h0M638.6 532.7h0M896.4 363.6h0M632.1 469.7h0M782.3 664.0h0M954.3 574.1h0M594.5 410.3h0M856.1 423.2h0M701.2 513.2h0M974.8 370.3h0M975.6 426.4h0M588.4 562.4h0M922.7 411.4h0M849.9 364.3h0M945.9 465.9h0M788.9 530.9h0M851.9 457.7h0M872.4 475.5h0M759.3 587.2h0M750.7 380.7h0M699.0 375.1h0M845.9 532.6h0M979.2 618.3h0M805.6 471.2h0M784.4 485.3h0M896.5 514.4h0M598.1 397.5h0M708.9 474.2h0M629.7 526.6h0M803.4 428.3h0M965.6 571.3h0M925.9 449.5h0M955.6 621.2h0M816.7 643.4h0M922.3 519.5h0M748.6 596.9h0M829.8 443.6h0M870.4 407.6h0M955.0 594.0h0M675.7 627.4h0M912.4 458.0h0M751.2 574.5h0M976.4 451.7h0M719.8 355.0h0M940.5 476.7h0M851.0 505.8h0M661.7 655.4h0M883.1 354.3h0M666.9 450.0h0M569.8 427.2h0M598.6 421.2h0M811.5 578.5h0M925.4 368.5h0M948.2 502.3h0M814.5 564.3h0M729.4 573.4h0M570.6 473.9h0M682.4 446.2h0M955.9 540.1h0M701.5 522.3h0M626.9 425.8h0M882.8 396.0h0M814.1 446.1h0M786.9 461.7h0M665.5 384.7h0M613.3 650.1h0M879.2 635.1h0M693.3 516.5h0M946.6 482.9h0M585.9 614.6h0M562.9 613.5h0M752.2 633.5h0M613.0 444.7h0M911.6 570.1h0M977.3 555.2h0M878.1 430.9h0M838.1 381.8h0M805.3 587.7h0M857.9 618.9h0M896.1 386.1h0M817.4 362.8h0M716.7 609.0h0M743.4 426.3h0M772.1 586.6h0M799.0 421.1h0M947.3 616.9h0M655.9 581.8h0M614.3 477.5h0M943.2 647.3h0M657.6 626.9h0M875.2 578.8h0M571.6 511.5h0M906.4 614.3h0M637.2 586.8h0M885.4 646.4h0M684.3 629.5h0M786.5 384.9h0M727.8 508.1h0M634.7 666.8h0M562.2 382.1h0M873.1 557.6h0M802.9 559.8h0M975.7 677.6h0M563.2 395.3h0M611.4 386.6h0M816.0 353.9h0M597.6 362.0h0M767.2 378.5h0M833.8 549.2h0M677.2 523.3h0M737.6 598.3h0M621.5 574.4h0M851.1 654.7h0M874.9 375.8h0M616.2 564.9h0M617.1 676.8h0M873.5 546.3h0M674.1 445.3h0M698.8 616.7h0M914.1 531.8h0M602.5 575.5h0M849.3 600.3h0M854.6 535.7h0M747.1 362.0h0M909.5 560.7h0M573.7 615.2h0M885.6 435.0h0M650.9 590.7h0M851.4 471.0h0M903.7 352.8h0M837.1 583.5h0M721.8 442.8h0M677.9 536.0h0M861.4 628.1h0M783.5 413.0h0M899.2 634.0h0M793.1 539.0h0M901.6 476.4h0M915.9 353.3h0M583.7 598.3h0M713.8 425.5h0M954.1 401.4h0M601.8 602.8h0M733.7 669.5h0M680.6 380.3h0M734.9 408.0h0M900.9 589.6h0M677.5 576.8h0M694.4 603.1h0M696.9 529.4h0M816.0 541.7h0M681.7 390.1h0M686.4 511.2h0M652.0 426.1h0M722.0 389.0h0M662.6 663.7h0M904.1 531.8h0M903.6 412.5h0M679.9 493.7h0M708.9 640.1h0M816.7 393.6h0M951.1 512.3h0M577.0 467.0h0M590.6 500.1h0M935.0 666.0h0M842.6 605.4h0M586.6 449.7h0M765.9 389.5h0M664.0 527.9h0M965.7 500.6h0M570.2 443.6h0M676.7 545.0h0M892.5 446.4h0M723.2 583.9h0M811.2 621.6h0M884.4 413.2h0M945.3 668.7h0M854.2 644.3h0M855.6 446.3h0M656.3 353.3h0M967.0 486.0h0M830.4 509.4h0M626.6 662.3h0M585.5 367.2h0M565.7 605.2h0M605.9 477.0h0M621.6 584.2h0M925.1 542.5h0M596.1 470.0h0M978.8 436.3h0M828.1 425.6h0M737.3 677.8h0M903.8 573.3h0M777.8 421.7h0M830.1 390.9h0M700.6 561.1h0M870.2 508.9h0M774.3 373.8h0M870.5 636.7h0M886.6 612.8h0M637.8 523.9h0M962.8 354.2h0M815.5 651.8h0M584.4 662.9h0M705.9 406.7h0M782.3 394.6h0M852.8 527.2h0M936.2 438.5h0" stroke="#2d68b0" stroke-width="6.6" stroke-linecap="round"/>
<path d="M568.6 460.1h0M891.3 668.8h0M674.3 394.2h0M623.6 651.6h0M849.4 490.7h0M596.1 631.1h0M781.8 429.7h0M691.7 451.4h0M665.9 357.0h0M904.1 492.9h0M849.2 672.3h0M730.6 465.3h0M668.1 405.2h0M683.8 501.8h0M968.5 530.3h0M759.9 515.9h0M578.5 359.3h0M861.0 638.6h0M579.3 624.3h0M619.4 522.7h0M847.1 578.0h0M605.0 624.5h0M766.0 353.1h0M837.2 373.5h0M866.6 418.9h0M882.4 553.1h0M844.1 446.8h0M935.4 417.0h0M904.5 667.6h0M649.3 541.6h0M932.6 581.3h0M749.9 450.4h0M912.6 391.1h0M717.0 480.1h0M676.3 367.7h0M717.4 663.7h0M955.2 531.0h0M685.8 592.9h0M794.5 480.6h0M769.3 423.7h0M641.6 381.6h0M734.4 522.9h0M960.7 628.7h0M936.3 506.3h0M906.9 630.9h0M608.0 374.9h0M962.8 562.1h0M689.8 359.1h0M702.6 489.1h0M904.6 427.2h0M650.2 669.6h0M937.3 640.0h0M873.7 362.4h0M678.2 466.6h0M641.9 470.7h0M882.2 365.3h0M874.1 644.9h0M670.9 585.6h0M956.2 359.9h0M741.1 512.9h0M815.4 458.9h0M664.6 373.1h0M931.2 674.0h0M858.4 497.7h0M913.3 447.8h0M727.0 675.5h0M759.9 619.0h0M611.0 413.8h0M923.9 498.4h0M652.2 472.2h0M834.0 418.3h0M726.6 531.3h0M732.7 444.4h0M923.1 676.9h0M754.1 405.0h0M622.1 444.4h0M956.1 670.0h0M890.3 424.4h0M612.6 432.5h0M737.0 541.9h0M570.8 553.8h0M599.4 496.1h0M642.2 672.0h0M588.5 466.4h0M773.0 456.0h0M631.7 607.9h0M926.8 533.0h0M895.2 438.3h0M828.8 672.8h0M819.1 492.9h0M562.1 467.7h0M822.4 506.8h0M565.8 562.3h0M731.1 429.5h0M581.3 641.9h0M655.7 386.3h0M859.2 438.7h0M670.1 429.0h0M839.7 671.2h0M605.7 654.8h0M588.6 544.5h0M588.6 634.9h0M916.2 616.7h0M679.4 585.3h0M917.7 553.6h0M706.3 581.7h0M561.5 417.9h0M679.9 422.0h0M594.9 608.9h0M934.1 380.1h0M783.7 598.0h0M885.1 540.8h0M641.3 450.3h0M969.6 589.6h0M643.2 560.0h0M620.4 548.8h0M801.5 596.2h0M738.5 500.4h0M603.4 539.3h0M649.0 575.1h0M676.0 482.3h0M615.2 605.2h0M910.3 467.6h0M950.1 630.5h0M565.8 662.3h0M744.8 639.8h0M787.1 633.3h0M702.9 632.9h0M907.8 483.6h0M686.4 543.2h0M852.8 546.4h0M637.0 364.1h0M900.5 539.6h0M733.8 385.3h0M612.0 667.0h0M824.4 583.2h0M903.5 378.0h0M798.5 447.3h0M718.8 575.3h0M756.0 419.3h0M931.9 522.1h0M978.8 473.9h0M923.9 510.5h0M811.6 481.6h0M965.7 675.3h0M605.2 457.6h0M576.1 654.4h0M824.2 398.5h0M694.3 646.4h0M713.6 675.1h0M865.4 447.7h0M943.1 423.2h0M645.8 373.4h0M714.8 405.3h0M611.6 585.0h0M665.9 618.4h0M925.3 585.8h0M622.7 538.7h0M912.8 523.4h0M583.4 520.7h0M953.6 558.4h0M611.4 545.7h0M597.8 530.1h0M680.3 673.9h0M606.8 425.4h0M819.2 629.1h0M944.3 393.5h0M770.3 496.8h0M565.5 367.5h0M848.1 479.0h0M745.4 555.6h0M632.5 455.7h0M825.0 548.6h0M562.6 451.3h0M587.0 356.1h0M602.7 646.7h0M813.5 665.0h0M729.9 373.3h0M746.7 624.6h0M926.5 392.0h0M695.5 568.1h0M573.4 573.6h0M628.9 416.6h0M607.6 610.0h0M733.5 417.7h0M631.9 569.3h0M697.0 504.8h0M908.9 594.0h0M849.3 405.3h0M968.0 648.2h0M596.7 567.3h0M725.2 407.8h0M631.4 595.0h0M720.6 399.0h0M926.8 551.1h0M753.5 673.6h0M795.9 603.3h0M870.9 517.9h0M804.2 673.9h0M832.9 484.1h0M811.5 435.8h0M793.5 566.3h0M793.6 411.3h0M657.9 418.2h0M847.1 381.4h0M611.5 510.9h0M675.4 409.8h0M979.3 353.7h0M831.8 531.0h0M859.4 480.3h0M720.7 623.3h0M827.5 632.0h0M938.7 598.8h0M593.3 618.5h0M563.5 674.3h0M896.8 417.3h0M585.2 493.4h0M943.1 457.8h0M795.3 383.2h0M838.9 405.4h0M661.5 636.1h0M946.8 355.5h0M873.4 396.0h0M752.9 429.1h0M611.6 574.6h0M975.2 413.8h0M935.5 569.2h0M934.4 589.6h0M802.0 621.2h0M695.5 494.9h0M638.8 636.2h0M832.9 638.4h0M648.6 625.6h0M958.3 651.9h0M858.6 660.2h0M755.3 366.1h0M752.2 542.9h0M661.0 673.7h0M933.8 650.7h0M731.7 551.2h0M972.0 565.2h0M714.8 527.2h0M681.4 647.5h0M713.4 587.6h0M744.7 389.8h0M712.4 391.0h0M920.2 471.9h0M910.4 417.8h0M623.5 396.7h0M966.1 635.8h0M905.2 548.0h0M761.6 436.3h0M861.1 524.5h0M739.4 462.2h0M959.9 458.6h0M703.2 607.2h0M698.1 360.5h0M575.6 544.6h0M647.9 359.6h0M809.0 399.2h0M760.8 460.4h0M926.8 597.7h0M976.1 576.3h0M932.3 471.9h0M824.8 535.5h0M673.1 639.0h0M807.6 613.1h0M636.8 374.7h0M741.5 402.8h0M744.5 353.2h0M659.0 607.7h0M648.8 638.1h0M572.1 597.7h0M863.8 389.2h0M735.4 363.0h0M739.0 474.1h0M804.9 516.3h0M738.2 624.7h0M959.8 432.6h0M923.0 560.1h0M643.4 612.8h0M866.7 540.3h0M688.8 523.5h0M648.9 399.8h0M739.4 489.4h0M699.5 659.9h0M647.7 409.7h0M923.1 652.2h0M965.0 364.8h0M917.1 400.5h0M587.4 529.0h0M791.4 644.3h0M919.7 486.8h0M654.1 566.5h0M690.2 386.3h0M576.1 664.2h0M565.3 355.2h0M571.4 631.2h0M802.3 411.2h0M852.4 394.0h0M785.0 514.1h0M761.5 398.0h0M949.5 449.8h0M689.0 613.6h0M677.3 553.7h0M756.1 646.0h0M684.1 438.0h0M804.3 546.8h0M613.2 534.3h0M625.7 671.0h0M979.0 587.7h0M581.1 570.0h0M757.9 610.1h0M798.7 366.1h0M681.4 639.2h0M705.9 532.2h0M884.6 573.3h0M676.4 594.8h0M590.4 427.4h0M660.4 590.7h0M820.3 528.0h0M816.5 591.9h0M570.9 418.7h0M776.9 467.6h0M700.3 541.0h0M861.1 548.1h0M573.5 645.4h0M762.6 490.2h0M978.7 526.1h0M657.0 443.2h0M819.1 466.5h0M949.3 566.4h0M634.6 644.9h0M743.6 417.7h0M755.6 523.0h0M764.6 503.5h0M597.3 672.0h0M785.8 500.9h0M807.5 390.8h0M599.5 431.4h0M623.5 508.4h0M946.3 638.8h0M713.3 632.6h0M702.5 390.2h0M667.3 627.0h0M765.7 468.3h0M751.3 564.9h0M707.6 500.3h0M582.8 460.3h0M686.8 410.1h0M663.4 566.8h0M801.9 651.9h0M800.8 506.7h0M597.5 504.8h0M561.3 428.0h0M737.6 633.6h0M979.3 631.3h0M616.9 402.3h0M733.9 353.0h0M639.3 403.5h0M897.7 484.5h0M821.2 676.9h0M640.1 571.6h0M660.3 536.1h0M793.1 592.2h0M927.1 482.3h0M590.4 418.4h0M810.0 598.0h0M713.7 465.1h0M793.5 455.1h0M861.7 610.9h0M639.3 462.8h0M703.1 450.5h0M913.1 495.6h0M921.9 630.5h0M699.5 468.0h0M722.5 631.7h0M955.7 418.6h0M932.9 397.7h0M574.4 563.8h0M956.0 498.4h0M949.9 677.5h0M790.7 401.4h0M660.2 469.3h0M844.9 587.9h0M824.2 604.4h0M811.1 374.4h0M592.8 520.1h0M582.9 588.7h0M905.4 361.2h0M755.4 602.0h0M822.2 658.0h0M760.7 426.2h0M574.8 496.1h0M778.6 533.6h0M790.6 575.5h0M669.8 676.5h0M894.4 471.3h0M803.4 480.2h0M897.6 661.7h0" stroke="#2a5a9c" stroke-width="6.2" stroke-linecap="round"/>
<path d="M822.4 519.0h0M604.9 438.6h0M737.9 649.1h0M800.1 580.3h0M591.3 657.9h0M751.1 462.6h0M606.9 404.6h0M770.5 410.0h0M868.2 531.6h0M768.4 624.1h0M704.6 623.3h0M583.8 394.3h0M925.8 570.6h0M627.0 497.3h0M690.7 468.2h0M563.1 438.1h0M806.4 524.5h0M724.2 458.3h0M934.7 556.5h0M898.2 621.4h0M657.3 362.2h0M795.0 556.7h0M895.2 595.9h0M869.7 434.2h0M871.0 670.1h0M622.8 434.8h0M777.4 503.5h0M970.8 657.2h0M749.3 439.6h0M960.2 395.2h0M657.9 644.7h0M693.4 625.9h0M949.2 584.4h0M979.5 544.1h0M680.7 657.0h0M931.5 616.7h0M862.5 368.1h0M970.1 436.8h0M631.1 404.7h0M940.7 676.9h0M704.3 381.7h0M922.5 422.4h0M926.7 359.1h0M807.0 352.1h0M832.2 601.3h0M780.7 542.0h0M659.4 432.5h0M737.0 435.9h0M847.0 416.6h0M653.8 599.9h0M620.5 368.9h0M951.3 459.3h0M839.4 475.4h0M965.0 419.6h0M936.8 361.9h0M575.6 372.4h0M703.1 440.8h0M693.6 441.9h0M961.9 663.0h0M949.9 411.6h0M888.8 377.8h0M575.2 532.1h0M672.0 379.4h0M874.4 628.1h0M625.2 640.2h0M899.7 565.0h0M913.2 650.1h0M968.7 542.1h0M669.9 605.6h0M620.2 418.5h0M894.2 530.7h0M828.8 381.7h0M689.9 662.7h0M563.5 645.9h0M598.3 554.8h0M779.4 653.7h0M763.3 369.4h0M730.5 627.9h0M812.2 531.3h0M739.4 566.8h0M880.9 606.3h0M774.8 365.3h0M767.1 663.9h0M877.8 403.8h0M576.4 411.4h0M609.2 525.0h0M604.8 675.7h0M711.9 601.3h0M806.5 568.4h0M775.8 643.9h0M605.6 468.4h0M617.5 657.3h0M796.6 466.2h0M566.2 531.6h0M889.1 585.2h0M701.6 596.4h0M891.4 522.6h0M872.7 660.0h0M744.2 588.2h0M705.5 398.2h0M713.3 618.5h0M944.1 659.9h0M602.8 383.9h0M715.2 456.6h0M574.0 486.6h0M786.4 422.6h0M880.4 670.8h0M854.1 514.5h0M853.1 608.5h0M938.6 515.4h0M707.0 458.5h0M613.8 502.6h0M664.7 458.5h0M603.7 665.7h0M723.7 363.1h0M730.6 593.5h0M692.2 556.8h0M887.1 478.7h0M787.7 585.8h0M725.5 600.6h0M737.2 579.6h0M709.0 560.2h0M917.4 439.2h0M940.5 607.6h0M835.8 433.5h0M793.6 438.2h0M963.5 376.6h0M714.4 506.7h0M772.1 440.6h0M947.1 550.4h0M840.5 501.3h0M687.6 489.5h0M809.0 657.7h0M624.6 357.1h0M615.0 357.8h0M754.0 655.9h0M715.0 539.4h0M700.1 549.5h0M793.0 611.9h0M667.7 596.9h0M760.7 544.1h0M890.9 402.9h0M887.5 490.9h0M668.8 536.0h0M668.2 466.8h0M762.7 407.0h0M924.2 641.7h0M653.9 370.5h0M761.1 445.3h0M979.2 653.6h0M971.0 357.2h0M800.4 397.0h0M926.4 438.8h0M562.9 521.5h0M695.5 583.8h0M573.6 383.4h0M731.0 396.6h0M907.1 657.7h0M743.5 671.9h0M783.4 374.6h0M779.0 493.4h0M673.5 504.1h0M645.3 583.6h0M684.8 603.7h0M625.7 461.9h0M870.5 594.3h0M800.7 488.2h0M804.7 380.7h0M786.6 677.5h0M708.1 661.0h0M978.4 463.9h0M775.8 388.0h0M827.7 365.8h0M913.9 543.1h0M860.8 467.4h0M749.5 477.7h0M662.8 479.1h0M708.2 431.8h0M937.9 543.5h0M722.2 566.4h0M685.4 373.5h0M824.5 411.2h0M688.0 476.1h0M957.5 490.2h0M691.1 396.5h0M811.8 502.3h0M976.7 596.6h0M904.5 582.0h0M679.7 567.7h0M844.4 550.6h0M608.0 633.1h0M567.4 545.7h0M814.0 384.5h0M771.2 636.6h0M807.9 366.2h0M675.5 515.0h0M713.1 443.8h0M564.0 635.9h0M589.4 510.0h0M580.0 556.2h0M755.2 356.4h0M859.1 600.8h0M623.6 409.8h0M764.4 642.5h0M703.3 651.4h0M623.0 592.7h0M849.3 564.9h0M914.2 607.6h0M659.2 557.2h0M672.0 648.3h0M903.6 392.1h0M893.0 553.4h0M754.8 502.7h0M876.6 536.0h0M785.9 473.9h0M946.2 533.3h0M810.8 410.7h0M654.6 529.9h0M575.1 519.4h0M623.4 382.6h0M778.1 447.2h0M644.0 423.6h0M808.4 493.9h0M893.5 574.6h0M962.3 470.1h0M751.5 615.9h0M747.1 664.3h0M960.3 642.6h0M928.6 404.9h0M713.0 651.1h0M840.8 540.4h0M854.1 375.5h0M738.6 372.6h0M629.6 558.1h0M971.9 494.4h0M590.7 457.4h0M758.2 482.5h0M826.6 593.8h0M789.6 446.9h0M943.5 624.9h0M911.6 676.1h0M965.6 404.5h0M860.9 674.6h0M722.0 471.1h0M925.6 665.8h0M834.6 519.8h0M656.1 546.9h0M979.8 500.8h0M659.2 406.6h0M851.0 435.3h0M917.0 637.3h0M895.0 613.5h0M841.1 424.3h0M968.2 390.1h0M897.9 674.9h0M650.7 463.0h0M590.6 374.1h0M980.0 534.9h0M859.4 583.6h0M916.9 589.5h0M723.2 550.6h0M856.8 409.1h0M867.0 563.5h0M966.1 477.5h0M712.0 549.2h0M607.3 595.3h0M801.7 534.7h0M738.5 452.6h0M841.7 513.6h0M772.1 488.5h0M835.3 572.4h0M617.5 452.6h0M792.3 548.1h0M914.3 505.2h0M747.2 650.5h0M912.6 430.5h0M975.6 641.1h0M821.1 373.3h0M773.6 398.7h0M771.3 602.5h0M583.5 403.9h0M666.5 519.9h0M885.4 596.3h0M562.4 488.6h0M935.0 624.7h0M700.2 480.8h0M633.9 430.8h0M881.6 526.7h0M951.0 368.9h0M706.3 670.0h0M795.2 628.7h0M664.8 577.1h0M978.9 513.7h0M957.5 481.0h0M795.4 668.3h0M777.9 608.1h0M936.7 535.3h0M949.5 600.6h0M836.1 562.7h0M679.6 614.3h0M887.3 563.1h0M895.6 492.9h0M841.6 486.2h0M597.9 639.6h0M797.7 523.8h0M915.5 579.4h0M790.8 368.8h0M974.5 482.1h0M862.3 456.7h0M583.8 440.2h0M678.4 353.6h0M688.0 459.0h0M862.9 647.7h0M624.7 601.3h0M861.8 511.4h0M756.5 471.2h0M604.2 352.2h0M860.6 401.4h0M880.6 589.0h0M879.9 494.4h0M867.0 573.8h0M812.3 677.5h0M783.5 438.0h0M633.6 548.2h0M763.4 673.0h0M804.7 441.6h0M845.8 633.3h0M721.5 502.0h0M758.8 628.2h0M690.4 654.1h0M877.1 613.8h0M893.8 394.2h0M635.9 481.2h0M916.0 662.0h0M770.2 650.2h0M979.9 665.7h0M945.4 522.3h0M681.8 361.3h0M631.1 488.3h0M609.5 641.5h0M886.9 514.5h0M780.0 628.4h0M697.3 403.0h0M795.0 677.8h0M911.9 513.6h0M631.0 538.6h0M720.9 592.6h0M843.5 662.2h0M709.0 482.6h0M944.2 382.8h0M732.4 560.6h0M680.4 665.3h0M793.2 427.6h0M630.6 391.5h0M770.2 432.0h0M698.3 457.7h0M679.1 401.7h0M913.0 380.6h0M783.9 453.5h0M953.6 659.0h0M763.1 595.2h0M700.8 575.4h0M887.2 676.6h0M635.7 677.4h0M829.6 460.0h0M674.9 457.6h0M863.5 487.7h0M714.9 382.5h0M590.4 573.4h0M718.9 371.2h0M970.0 667.1h0M726.9 541.7h0M800.8 661.3h0M608.1 486.4h0M943.7 573.5h0M591.9 487.9h0M934.0 371.2h0M566.7 406.3h0M845.5 371.5h0M746.8 505.9h0M778.5 353.4h0M922.3 431.3h0M816.9 404.2h0M646.5 526.0h0M943.4 590.7h0M880.6 657.1h0M800.7 634.9h0M895.5 372.4h0M716.8 556.1h0M863.9 427.3h0M936.9 353.3h0M758.6 665.3h0M594.3 352.1h0M954.6 377.6h0M947.0 542.0h0M605.1 391.9h0M924.6 622.1h0M979.9 393.6h0M616.6 377.1h0" stroke="#3f7fa8" stroke-width="6.8" stroke-linecap="round"/>
<circle cx="833" cy="551" r="13" fill="#5a9a9a" opacity="0.6"/>
<circle cx="700" cy="420" r="10" fill="#6aa8a8" opacity="0.5"/>
</g>
<rect x="934" y="651" width="35" height="16" fill="#fff" stroke="#333" stroke-width="1"/>
<text x="951.5" y="662" font-size="8" class="s" text-anchor="middle" fill="#333">20 μm</text>
</g>
<text x="522.5" y="206" font-size="30" class="r" text-anchor="middle" fill="#111">Tβ15</text>
<text x="522.5" y="243" font-size="30" class="r" text-anchor="middle" fill="#111">OX</text>
<text x="522.5" y="536" font-size="30" class="r" text-anchor="middle" fill="#111">Tβ15</text>
<text x="522.5" y="574" font-size="30" class="r" text-anchor="middle" fill="#111">siRNA</text>
<text x="1007" y="46.5" font-size="37.5" class="s" transform="translate(1007 46.5) scale(0.86 1) translate(-1007 -46.5)">B</text>
<rect x="1022" y="163.5" width="30" height="16" fill="#050505"/>
<text x="1069.5" y="179" font-size="24" class="s" fill="#222">pAD-Amp OX</text>
<rect x="1234" y="163.5" width="31" height="16" fill="url(#pchkB)"/>
<text x="1284" y="179" font-size="24" class="s" fill="#222">Tβ15 OX</text>
<rect x="1393" y="163.5" width="31" height="16" fill="url(#phB)" stroke="#222" stroke-width="2"/>
<text x="1440" y="179" font-size="24" class="s" fill="#222">NC siRNA</text>
<rect x="1564" y="163.5" width="30" height="16" fill="#d6d6d6" stroke="#222" stroke-width="2"/>
<line x1="1579" y1="163.5" x2="1579" y2="179.5" stroke="#666" stroke-width="2"/>
<line x1="1571.5" y1="163.5" x2="1571.5" y2="179.5" stroke="#aaa" stroke-width="1.5"/>
<line x1="1586.5" y1="163.5" x2="1586.5" y2="179.5" stroke="#aaa" stroke-width="1.5"/>
<text x="1611.5" y="179" font-size="24" class="s" fill="#222">Tβ15 siRNA</text>
<path d="M1097 225 V518 H1735" stroke="#1a1a1a" stroke-width="3" fill="none"/>
<line x1="1089" y1="518" x2="1097" y2="518" stroke="#1a1a1a" stroke-width="3"/>
<text x="1086" y="525" font-size="19" class="sb" text-anchor="end" fill="#1a1a1a" transform="translate(1086 525) scale(1.15 1) translate(-1086 -525)">0.0</text>
<line x1="1089" y1="459.4" x2="1097" y2="459.4" stroke="#1a1a1a" stroke-width="3"/>
<text x="1086" y="466.4" font-size="19" class="sb" text-anchor="end" fill="#1a1a1a" transform="translate(1086 466.4) scale(1.15 1) translate(-1086 -466.4)">0.5</text>
<line x1="1089" y1="400.8" x2="1097" y2="400.8" stroke="#1a1a1a" stroke-width="3"/>
<text x="1086" y="407.8" font-size="19" class="sb" text-anchor="end" fill="#1a1a1a" transform="translate(1086 407.8) scale(1.15 1) translate(-1086 -407.8)">1.0</text>
<line x1="1089" y1="342.2" x2="1097" y2="342.2" stroke="#1a1a1a" stroke-width="3"/>
<text x="1086" y="349.2" font-size="19" class="sb" text-anchor="end" fill="#1a1a1a" transform="translate(1086 349.2) scale(1.15 1) translate(-1086 -349.2)">1.5</text>
<line x1="1089" y1="283.6" x2="1097" y2="283.6" stroke="#1a1a1a" stroke-width="3"/>
<text x="1086" y="290.6" font-size="19" class="sb" text-anchor="end" fill="#1a1a1a" transform="translate(1086 290.6) scale(1.15 1) translate(-1086 -290.6)">2.0</text>
<line x1="1089" y1="225" x2="1097" y2="225" stroke="#1a1a1a" stroke-width="3"/>
<text x="1086" y="232" font-size="19" class="sb" text-anchor="end" fill="#1a1a1a" transform="translate(1086 232) scale(1.15 1) translate(-1086 -232)">2.5</text>
<line x1="1160.6" y1="518" x2="1160.6" y2="526" stroke="#1a1a1a" stroke-width="3"/>
<line x1="1287" y1="518" x2="1287" y2="526" stroke="#1a1a1a" stroke-width="3"/>
<line x1="1414.5" y1="518" x2="1414.5" y2="526" stroke="#1a1a1a" stroke-width="3"/>
<line x1="1542" y1="518" x2="1542" y2="526" stroke="#1a1a1a" stroke-width="3"/>
<line x1="1669.5" y1="518" x2="1669.5" y2="526" stroke="#1a1a1a" stroke-width="3"/>
<text x="1160.6" y="549" font-size="21.5" class="si" text-anchor="middle" fill="#222">S1p1</text>
<text x="1287" y="549" font-size="21.5" class="si" text-anchor="middle" fill="#222">CD69</text>
<text x="1414.5" y="549" font-size="21.5" class="si" text-anchor="middle" fill="#222">Spl</text>
<text x="1542" y="549" font-size="21.5" class="si" text-anchor="middle" fill="#222">Icam-1</text>
<text x="1669.5" y="549" font-size="21.5" class="si" text-anchor="middle" fill="#222">Vcam-1</text>
<text x="1041" y="372.5" font-size="26" class="sb" text-anchor="middle" fill="#1a1a1a" transform="rotate(-90 1041 372.5) translate(1041 372.5) scale(0.87 1) translate(-1041 -372.5)">Related to GAPDH</text>
<line x1="1119.9" y1="377.4" x2="1119.9" y2="400.8" stroke="#111" stroke-width="3.2"/>
<line x1="1115.4" y1="377.4" x2="1124.4" y2="377.4" stroke="#111" stroke-width="3.2"/>
<rect x="1111.6" y="400.8" width="16.6" height="117.2" fill="#050505" stroke="#050505" stroke-width="1"/>
<line x1="1146.3" y1="424.2" x2="1146.3" y2="436" stroke="#111" stroke-width="3.2"/>
<line x1="1141.8" y1="424.2" x2="1150.8" y2="424.2" stroke="#111" stroke-width="3.2"/>
<rect x="1139" y="437" width="14.6" height="81" fill="url(#pchkB)" stroke="#050505" stroke-width="2.5"/>
<line x1="1174.9" y1="386.7" x2="1174.9" y2="400.8" stroke="#111" stroke-width="3.2"/>
<line x1="1170.4" y1="386.7" x2="1179.4" y2="386.7" stroke="#111" stroke-width="3.2"/>
<rect x="1167.6" y="401.8" width="14.6" height="116.2" fill="url(#phB)" stroke="#151515" stroke-width="2.5"/>
<line x1="1201.3" y1="339.9" x2="1201.3" y2="362.1" stroke="#111" stroke-width="3.2"/>
<line x1="1196.8" y1="339.9" x2="1205.8" y2="339.9" stroke="#111" stroke-width="3.2"/>
<rect x="1194" y="363.1" width="14.6" height="154.9" fill="#d4d4d4" stroke="#151515" stroke-width="2.5"/>
<line x1="1201.3" y1="364.1" x2="1201.3" y2="518" stroke="#707070" stroke-width="2.5"/>
<line x1="1247.3" y1="380.9" x2="1247.3" y2="400.8" stroke="#111" stroke-width="3.2"/>
<line x1="1242.8" y1="380.9" x2="1251.8" y2="380.9" stroke="#111" stroke-width="3.2"/>
<rect x="1239" y="400.8" width="16.6" height="117.2" fill="#050505" stroke="#050505" stroke-width="1"/>
<line x1="1274.1" y1="372.7" x2="1274.1" y2="410.2" stroke="#111" stroke-width="3.2"/>
<line x1="1269.6" y1="372.7" x2="1278.6" y2="372.7" stroke="#111" stroke-width="3.2"/>
<rect x="1266.8" y="411.2" width="14.6" height="106.8" fill="url(#pchkB)" stroke="#050505" stroke-width="2.5"/>
<line x1="1302" y1="378.5" x2="1302" y2="400.8" stroke="#111" stroke-width="3.2"/>
<line x1="1297.5" y1="378.5" x2="1306.5" y2="378.5" stroke="#111" stroke-width="3.2"/>
<rect x="1294.7" y="401.8" width="14.6" height="116.2" fill="url(#phB)" stroke="#151515" stroke-width="2.5"/>
<line x1="1329.1" y1="283.6" x2="1329.1" y2="348.1" stroke="#111" stroke-width="3.2"/>
<line x1="1324.6" y1="283.6" x2="1333.6" y2="283.6" stroke="#111" stroke-width="3.2"/>
<rect x="1321.8" y="349.1" width="14.6" height="168.9" fill="#d4d4d4" stroke="#151515" stroke-width="2.5"/>
<line x1="1329.1" y1="350.1" x2="1329.1" y2="518" stroke="#707070" stroke-width="2.5"/>
<line x1="1374.9" y1="379.7" x2="1374.9" y2="400.8" stroke="#111" stroke-width="3.2"/>
<line x1="1370.4" y1="379.7" x2="1379.4" y2="379.7" stroke="#111" stroke-width="3.2"/>
<rect x="1366.6" y="400.8" width="16.6" height="117.2" fill="#050505" stroke="#050505" stroke-width="1"/>
<line x1="1401.7" y1="425.4" x2="1401.7" y2="444.2" stroke="#111" stroke-width="3.2"/>
<line x1="1397.2" y1="425.4" x2="1406.2" y2="425.4" stroke="#111" stroke-width="3.2"/>
<rect x="1394.4" y="445.2" width="14.6" height="72.8" fill="url(#pchkB)" stroke="#050505" stroke-width="2.5"/>
<line x1="1428.7" y1="375" x2="1428.7" y2="400.8" stroke="#111" stroke-width="3.2"/>
<line x1="1424.2" y1="375" x2="1433.2" y2="375" stroke="#111" stroke-width="3.2"/>
<rect x="1421.4" y="401.8" width="14.6" height="116.2" fill="url(#phB)" stroke="#151515" stroke-width="2.5"/>
<line x1="1456.6" y1="280.1" x2="1456.6" y2="336.3" stroke="#111" stroke-width="3.2"/>
<line x1="1452.1" y1="280.1" x2="1461.1" y2="280.1" stroke="#111" stroke-width="3.2"/>
<rect x="1449.3" y="337.3" width="14.6" height="180.7" fill="#d4d4d4" stroke="#151515" stroke-width="2.5"/>
<line x1="1456.6" y1="338.3" x2="1456.6" y2="518" stroke="#707070" stroke-width="2.5"/>
<line x1="1502.3" y1="380.9" x2="1502.3" y2="400.8" stroke="#111" stroke-width="3.2"/>
<line x1="1497.8" y1="380.9" x2="1506.8" y2="380.9" stroke="#111" stroke-width="3.2"/>
<rect x="1494" y="400.8" width="16.6" height="117.2" fill="#050505" stroke="#050505" stroke-width="1"/>
<line x1="1529.6" y1="416" x2="1529.6" y2="438.3" stroke="#111" stroke-width="3.2"/>
<line x1="1525.1" y1="416" x2="1534.1" y2="416" stroke="#111" stroke-width="3.2"/>
<rect x="1522.3" y="439.3" width="14.6" height="78.7" fill="url(#pchkB)" stroke="#050505" stroke-width="2.5"/>
<line x1="1556.3" y1="397.3" x2="1556.3" y2="400.8" stroke="#111" stroke-width="3.2"/>
<line x1="1551.8" y1="397.3" x2="1560.8" y2="397.3" stroke="#111" stroke-width="3.2"/>
<rect x="1549" y="401.8" width="14.6" height="116.2" fill="url(#phB)" stroke="#151515" stroke-width="2.5"/>
<line x1="1584.2" y1="243.8" x2="1584.2" y2="295.3" stroke="#111" stroke-width="3.2"/>
<line x1="1579.7" y1="243.8" x2="1588.7" y2="243.8" stroke="#111" stroke-width="3.2"/>
<rect x="1576.9" y="296.3" width="14.6" height="221.7" fill="#d4d4d4" stroke="#151515" stroke-width="2.5"/>
<line x1="1584.2" y1="297.3" x2="1584.2" y2="518" stroke="#707070" stroke-width="2.5"/>
<line x1="1630" y1="335.2" x2="1630" y2="400.8" stroke="#111" stroke-width="3.2"/>
<line x1="1625.5" y1="335.2" x2="1634.5" y2="335.2" stroke="#111" stroke-width="3.2"/>
<rect x="1621.7" y="400.8" width="16.6" height="117.2" fill="#050505" stroke="#050505" stroke-width="1"/>
<line x1="1656.7" y1="425.4" x2="1656.7" y2="452.4" stroke="#111" stroke-width="3.2"/>
<line x1="1652.2" y1="425.4" x2="1661.2" y2="425.4" stroke="#111" stroke-width="3.2"/>
<rect x="1649.4" y="453.4" width="14.6" height="64.6" fill="url(#pchkB)" stroke="#050505" stroke-width="2.5"/>
<line x1="1683.8" y1="384.4" x2="1683.8" y2="400.8" stroke="#111" stroke-width="3.2"/>
<line x1="1679.3" y1="384.4" x2="1688.3" y2="384.4" stroke="#111" stroke-width="3.2"/>
<rect x="1676.5" y="401.8" width="14.6" height="116.2" fill="url(#phB)" stroke="#151515" stroke-width="2.5"/>
<line x1="1711.7" y1="465.3" x2="1711.7" y2="480.5" stroke="#111" stroke-width="3.2"/>
<line x1="1707.2" y1="465.3" x2="1716.2" y2="465.3" stroke="#111" stroke-width="3.2"/>
<rect x="1704.4" y="481.5" width="14.6" height="36.5" fill="#d4d4d4" stroke="#151515" stroke-width="2.5"/>
<line x1="1711.7" y1="482.5" x2="1711.7" y2="518" stroke="#707070" stroke-width="2.5"/>
<path d="M1117.5 362.7V346H1148.6V412.5" stroke="#111" stroke-width="3.4" fill="none"/>
<text x="1133.5" y="331" font-size="30" class="sb" text-anchor="middle" fill="#222">*</text>
<path d="M1171 368.7V315H1200V323.6" stroke="#111" stroke-width="3.4" fill="none"/>
<text x="1185.3" y="296" font-size="28" class="r" text-anchor="middle" fill="#222">ΔΔ</text>
<path d="M1245 364.7V337H1275V352.7" stroke="#111" stroke-width="3.4" fill="none"/>
<text x="1261" y="316" font-size="25" class="s" text-anchor="middle" fill="#222">ns</text>
<path d="M1300 370.7V257H1328V271" stroke="#111" stroke-width="3.4" fill="none"/>
<text x="1313.6" y="236" font-size="25" class="s" text-anchor="middle" fill="#222">ns</text>
<path d="M1371.8 362.7V347H1401.3V410.5" stroke="#111" stroke-width="3.4" fill="none"/>
<text x="1388.6" y="327" font-size="25" class="s" text-anchor="middle" fill="#222">ns</text>
<path d="M1429 352.7V248H1455.5V261" stroke="#111" stroke-width="3.4" fill="none"/>
<text x="1442.4" y="227" font-size="28" class="r" text-anchor="middle" fill="#222">Δ</text>
<path d="M1501 360.7V347H1530V394.6" stroke="#111" stroke-width="3.4" fill="none"/>
<text x="1515" y="326" font-size="25" class="s" text-anchor="middle" fill="#222">ns</text>
<path d="M1555 378.6V228H1582V235" stroke="#111" stroke-width="3.4" fill="none"/>
<text x="1568" y="211" font-size="28" class="r" text-anchor="middle" fill="#222">ΔΔΔ</text>
<path d="M1629.7 320.8V305H1657.6V424.5" stroke="#111" stroke-width="3.4" fill="none"/>
<text x="1643.6" y="284" font-size="25" class="s" text-anchor="middle" fill="#222">ns</text>
<path d="M1683.5 366.7V351H1711.4V446.4" stroke="#111" stroke-width="3.4" fill="none"/>
<text x="1697.5" y="334" font-size="28" class="r" text-anchor="middle" fill="#222">ΔΔ</text>
<text x="1775" y="46.5" font-size="37.5" class="s" transform="translate(1775 46.5) scale(0.88 1) translate(-1775 -46.5)">C</text>
<text x="1957" y="223" font-size="17" class="s" text-anchor="middle" fill="#2a2a2a">Day 7</text>
<path d="M1832.6 237.4V430.2H2121" stroke="#2a2a2a" stroke-width="3" fill="none"/>
<line x1="1826.6" y1="430.2" x2="1832.6" y2="430.2" stroke="#2a2a2a" stroke-width="2.5"/>
<text x="1825" y="434.7" font-size="12.5" class="sb" text-anchor="end" fill="#2a2a2a" transform="translate(1825 434.7) scale(1.13 1) translate(-1825 -434.7)">0.0</text>
<line x1="1826.6" y1="391.6" x2="1832.6" y2="391.6" stroke="#2a2a2a" stroke-width="2.5"/>
<text x="1825" y="396.1" font-size="12.5" class="sb" text-anchor="end" fill="#2a2a2a" transform="translate(1825 396.1) scale(1.13 1) translate(-1825 -396.1)">0.5</text>
<line x1="1826.6" y1="353.1" x2="1832.6" y2="353.1" stroke="#2a2a2a" stroke-width="2.5"/>
<text x="1825" y="357.6" font-size="12.5" class="sb" text-anchor="end" fill="#2a2a2a" transform="translate(1825 357.6) scale(1.13 1) translate(-1825 -357.6)">1.0</text>
<line x1="1826.6" y1="314.5" x2="1832.6" y2="314.5" stroke="#2a2a2a" stroke-width="2.5"/>
<text x="1825" y="319" font-size="12.5" class="sb" text-anchor="end" fill="#2a2a2a" transform="translate(1825 319) scale(1.13 1) translate(-1825 -319)">1.5</text>
<line x1="1826.6" y1="276" x2="1832.6" y2="276" stroke="#2a2a2a" stroke-width="2.5"/>
<text x="1825" y="280.5" font-size="12.5" class="sb" text-anchor="end" fill="#2a2a2a" transform="translate(1825 280.5) scale(1.13 1) translate(-1825 -280.5)">2.0</text>
<line x1="1826.6" y1="237.4" x2="1832.6" y2="237.4" stroke="#2a2a2a" stroke-width="2.5"/>
<text x="1825" y="241.9" font-size="12.5" class="sb" text-anchor="end" fill="#2a2a2a" transform="translate(1825 241.9) scale(1.13 1) translate(-1825 -241.9)">2.5</text>
<text x="1790" y="333" font-size="17" class="sbi" text-anchor="middle" fill="#222" transform="rotate(-90 1790 333) translate(1790 333) scale(0.92 1) translate(-1790 -333)">TRECs level</text>
<line x1="1867.9" y1="430.2" x2="1867.9" y2="436.2" stroke="#2a2a2a" stroke-width="2.5"/>
<line x1="1867.9" y1="346.9" x2="1867.9" y2="354.2" stroke="#1e1e1e" stroke-width="3"/>
<line x1="1857.9" y1="346.9" x2="1877.9" y2="346.9" stroke="#1e1e1e" stroke-width="3"/>
<rect x="1844.8" y="354.2" width="46.2" height="76" fill="url(#phC)" stroke="#1e1e1e" stroke-width="3"/>
<text x="1874.9" y="446.2" font-size="15" class="sb" text-anchor="end" fill="#2a2a2a" transform="rotate(-45 1874.9 446.2)">pAD-Amp OX</text>
<line x1="1940.6" y1="430.2" x2="1940.6" y2="436.2" stroke="#2a2a2a" stroke-width="2.5"/>
<line x1="1940.6" y1="354.6" x2="1940.6" y2="361.9" stroke="#1e1e1e" stroke-width="3"/>
<line x1="1930.6" y1="354.6" x2="1950.6" y2="354.6" stroke="#1e1e1e" stroke-width="3"/>
<rect x="1917.5" y="361.9" width="46.2" height="68.3" fill="url(#pdotC)" stroke="#1e1e1e" stroke-width="3"/>
<text x="1947.6" y="446.2" font-size="15" class="sb" text-anchor="end" fill="#2a2a2a" transform="rotate(-45 1947.6 446.2)">Tβ15 OX</text>
<line x1="2012.5" y1="430.2" x2="2012.5" y2="436.2" stroke="#2a2a2a" stroke-width="2.5"/>
<line x1="2012.5" y1="349.2" x2="2012.5" y2="354.6" stroke="#1e1e1e" stroke-width="3"/>
<line x1="2002.5" y1="349.2" x2="2022.5" y2="349.2" stroke="#1e1e1e" stroke-width="3"/>
<rect x="1989.4" y="354.6" width="46.2" height="75.6" fill="#3c3c3c" stroke="#1e1e1e" stroke-width="3"/>
<text x="2019.5" y="446.2" font-size="15" class="sb" text-anchor="end" fill="#2a2a2a" transform="rotate(-45 2019.5 446.2)">PLEnt-U6-GFP-Puro sh</text>
<line x1="2084.3" y1="430.2" x2="2084.3" y2="436.2" stroke="#2a2a2a" stroke-width="2.5"/>
<line x1="2084.3" y1="269" x2="2084.3" y2="295.2" stroke="#1e1e1e" stroke-width="3"/>
<line x1="2074.3" y1="269" x2="2094.3" y2="269" stroke="#1e1e1e" stroke-width="3"/>
<rect x="2061.2" y="295.2" width="46.2" height="135" fill="url(#pwdot)" stroke="#0a0a0a" stroke-width="3"/>
<text x="2091.3" y="446.2" font-size="15" class="sb" text-anchor="end" fill="#2a2a2a" transform="rotate(-45 2091.3 446.2)">Tβ15 sh</text>
<path d="M2012 335.7V247.2H2083.8V258" stroke="#222" stroke-width="3" fill="none"/>
<text x="2048.4" y="236" font-size="15" class="r" text-anchor="middle" fill="#444">ΔΔ</text>
<text x="2309" y="219.7" font-size="17" class="s" text-anchor="middle" fill="#2a2a2a">Day 14</text>
<path d="M2182.7 235V428.2H2474.3" stroke="#2a2a2a" stroke-width="3" fill="none"/>
<line x1="2176.7" y1="428.2" x2="2182.7" y2="428.2" stroke="#2a2a2a" stroke-width="2.5"/>
<text x="2177" y="432.7" font-size="12.5" class="sb" text-anchor="end" fill="#2a2a2a" transform="translate(2177 432.7) scale(1.13 1) translate(-2177 -432.7)">0.0</text>
<line x1="2176.7" y1="379.9" x2="2182.7" y2="379.9" stroke="#2a2a2a" stroke-width="2.5"/>
<text x="2177" y="384.4" font-size="12.5" class="sb" text-anchor="end" fill="#2a2a2a" transform="translate(2177 384.4) scale(1.13 1) translate(-2177 -384.4)">0.5</text>
<line x1="2176.7" y1="331.6" x2="2182.7" y2="331.6" stroke="#2a2a2a" stroke-width="2.5"/>
<text x="2177" y="336.1" font-size="12.5" class="sb" text-anchor="end" fill="#2a2a2a" transform="translate(2177 336.1) scale(1.13 1) translate(-2177 -336.1)">1.0</text>
<line x1="2176.7" y1="283.3" x2="2182.7" y2="283.3" stroke="#2a2a2a" stroke-width="2.5"/>
<text x="2177" y="287.8" font-size="12.5" class="sb" text-anchor="end" fill="#2a2a2a" transform="translate(2177 287.8) scale(1.13 1) translate(-2177 -287.8)">1.5</text>
<line x1="2176.7" y1="235" x2="2182.7" y2="235" stroke="#2a2a2a" stroke-width="2.5"/>
<text x="2177" y="239.5" font-size="12.5" class="sb" text-anchor="end" fill="#2a2a2a" transform="translate(2177 239.5) scale(1.13 1) translate(-2177 -239.5)">2.0</text>
<text x="2143" y="330" font-size="17" class="sbi" text-anchor="middle" fill="#222" transform="rotate(-90 2143 330) translate(2143 330) scale(0.92 1) translate(-2143 -330)">TRECs level</text>
<line x1="2221.2" y1="428.2" x2="2221.2" y2="434.2" stroke="#2a2a2a" stroke-width="2.5"/>
<line x1="2221.2" y1="316.1" x2="2221.2" y2="331.6" stroke="#1e1e1e" stroke-width="3"/>
<line x1="2211.2" y1="316.1" x2="2231.2" y2="316.1" stroke="#1e1e1e" stroke-width="3"/>
<rect x="2197.9" y="331.6" width="46.5" height="96.6" fill="url(#phC)" stroke="#1e1e1e" stroke-width="3"/>
<text x="2228.2" y="444.2" font-size="15" class="sb" text-anchor="end" fill="#2a2a2a" transform="rotate(-45 2228.2 444.2)">pAD-Amp OX</text>
<line x1="2293.9" y1="428.2" x2="2293.9" y2="434.2" stroke="#2a2a2a" stroke-width="2.5"/>
<line x1="2293.9" y1="315.2" x2="2293.9" y2="329.7" stroke="#1e1e1e" stroke-width="3"/>
<line x1="2283.9" y1="315.2" x2="2303.9" y2="315.2" stroke="#1e1e1e" stroke-width="3"/>
<rect x="2270.7" y="329.7" width="46.5" height="98.5" fill="url(#pdotC)" stroke="#1e1e1e" stroke-width="3"/>
<text x="2300.9" y="444.2" font-size="15" class="sb" text-anchor="end" fill="#2a2a2a" transform="rotate(-45 2300.9 444.2)">Tβ15 OX</text>
<line x1="2365.8" y1="428.2" x2="2365.8" y2="434.2" stroke="#2a2a2a" stroke-width="2.5"/>
<line x1="2365.8" y1="316.1" x2="2365.8" y2="332.6" stroke="#1e1e1e" stroke-width="3"/>
<line x1="2355.8" y1="316.1" x2="2375.8" y2="316.1" stroke="#1e1e1e" stroke-width="3"/>
<rect x="2342.5" y="332.6" width="46.5" height="95.6" fill="#3c3c3c" stroke="#1e1e1e" stroke-width="3"/>
<text x="2372.8" y="444.2" font-size="15" class="sb" text-anchor="end" fill="#2a2a2a" transform="rotate(-45 2372.8 444.2)">PLEnt-U6-GFP-Puro sh</text>
<line x1="2437.6" y1="428.2" x2="2437.6" y2="434.2" stroke="#2a2a2a" stroke-width="2.5"/>
<line x1="2437.6" y1="267.8" x2="2437.6" y2="275.6" stroke="#1e1e1e" stroke-width="3"/>
<line x1="2427.6" y1="267.8" x2="2447.6" y2="267.8" stroke="#1e1e1e" stroke-width="3"/>
<rect x="2414.3" y="275.6" width="46.5" height="152.6" fill="url(#pwdot)" stroke="#0a0a0a" stroke-width="3"/>
<text x="2444.6" y="444.2" font-size="15" class="sb" text-anchor="end" fill="#2a2a2a" transform="rotate(-45 2444.6 444.2)">Tβ15 sh</text>
<path d="M2366 303.3V243.3H2437.9V254" stroke="#222" stroke-width="3" fill="none"/>
<text x="2403.5" y="232.5" font-size="15" class="r" text-anchor="middle" fill="#444">ΔΔ</text>
<rect x="1757" y="668.5" width="38" height="15" fill="#050505" stroke="#050505" stroke-width="2"/>
<text x="1814" y="684.5" font-size="23.5" class="s" fill="#333">Sham</text>
<rect x="1757" y="706.5" width="38" height="15" fill="url(#pchkR)" stroke="#050505" stroke-width="2.5"/>
<text x="1814" y="722.5" font-size="23.5" class="s" fill="#333">Control</text>
<rect x="1915" y="668.5" width="38" height="15" fill="url(#phR)" stroke="#1a1a1a" stroke-width="2.5"/>
<text x="1972" y="684.5" font-size="23.5" class="s" fill="#333">pAD-Amp OX</text>
<rect x="1915" y="706.5" width="38" height="15" fill="#dadada" stroke="#1a1a1a" stroke-width="2.5"/>
<line x1="1934" y1="707.5" x2="1934" y2="721.5" stroke="#2a2a2a" stroke-width="3"/>
<text x="1972" y="722.5" font-size="23.5" class="s" fill="#333">Tβ15 OX</text>
<rect x="2127" y="668.5" width="38" height="15" fill="url(#pd1)" stroke="#1a1a1a" stroke-width="2.5"/>
<text x="2184" y="684.5" font-size="23.5" class="s" fill="#333">pLent-U6-GFP-Puro sh</text>
<rect x="2127" y="706.5" width="38" height="15" fill="url(#pd2)" stroke="#1a1a1a" stroke-width="2.5"/>
<text x="2184" y="722.5" font-size="23.5" class="s" fill="#333">Tβ15 sh</text>
<line x1="1837.5" y1="897.9" x2="1837.5" y2="746.3" stroke="#111" stroke-width="3"/>
<line x1="1829.5" y1="746.3" x2="1837.5" y2="746.3" stroke="#111" stroke-width="3"/>
<text x="1824.5" y="753.3" font-size="19" class="sb" text-anchor="end" fill="#1a1a1a" transform="translate(1824.5 753.3) scale(1.19 1) translate(-1824.5 -753.3)">80</text>
<line x1="1829.5" y1="796.8" x2="1837.5" y2="796.8" stroke="#111" stroke-width="3"/>
<text x="1824.5" y="803.8" font-size="19" class="sb" text-anchor="end" fill="#1a1a1a" transform="translate(1824.5 803.8) scale(1.19 1) translate(-1824.5 -803.8)">70</text>
<line x1="1829.5" y1="847.4" x2="1837.5" y2="847.4" stroke="#111" stroke-width="3"/>
<text x="1824.5" y="854.4" font-size="19" class="sb" text-anchor="end" fill="#1a1a1a" transform="translate(1824.5 854.4) scale(1.19 1) translate(-1824.5 -854.4)">60</text>
<line x1="1829.5" y1="897.9" x2="1837.5" y2="897.9" stroke="#111" stroke-width="3"/>
<text x="1824.5" y="904.9" font-size="19" class="sb" text-anchor="end" fill="#1a1a1a" transform="translate(1824.5 904.9) scale(1.19 1) translate(-1824.5 -904.9)">50</text>
<line x1="1837.5" y1="1073.7" x2="1837.5" y2="923" stroke="#111" stroke-width="3"/>
<line x1="1829.5" y1="923" x2="1837.5" y2="923" stroke="#111" stroke-width="3"/>
<text x="1824.5" y="930" font-size="19" class="sb" text-anchor="end" fill="#1a1a1a" transform="translate(1824.5 930) scale(1.19 1) translate(-1824.5 -930)">25</text>
<line x1="1829.5" y1="953.1" x2="1837.5" y2="953.1" stroke="#111" stroke-width="3"/>
<text x="1824.5" y="960.1" font-size="19" class="sb" text-anchor="end" fill="#1a1a1a" transform="translate(1824.5 960.1) scale(1.19 1) translate(-1824.5 -960.1)">20</text>
<line x1="1829.5" y1="983.3" x2="1837.5" y2="983.3" stroke="#111" stroke-width="3"/>
<text x="1824.5" y="990.3" font-size="19" class="sb" text-anchor="end" fill="#1a1a1a" transform="translate(1824.5 990.3) scale(1.19 1) translate(-1824.5 -990.3)">15</text>
<line x1="1829.5" y1="1013.4" x2="1837.5" y2="1013.4" stroke="#111" stroke-width="3"/>
<text x="1824.5" y="1020.4" font-size="19" class="sb" text-anchor="end" fill="#1a1a1a" transform="translate(1824.5 1020.4) scale(1.19 1) translate(-1824.5 -1020.4)">10</text>
<line x1="1829.5" y1="1043.6" x2="1837.5" y2="1043.6" stroke="#111" stroke-width="3"/>
<text x="1824.5" y="1050.6" font-size="19" class="sb" text-anchor="end" fill="#1a1a1a" transform="translate(1824.5 1050.6) scale(1.19 1) translate(-1824.5 -1050.6)">5</text>
<line x1="1829.5" y1="1073.7" x2="1837.5" y2="1073.7" stroke="#111" stroke-width="3"/>
<text x="1824.5" y="1080.7" font-size="19" class="sb" text-anchor="end" fill="#1a1a1a" transform="translate(1824.5 1080.7) scale(1.19 1) translate(-1824.5 -1080.7)">0</text>
<line x1="1829.5" y1="1073.7" x2="2358" y2="1073.7" stroke="#111" stroke-width="3"/>
<line x1="1837.5" y1="897.9" x2="1847.5" y2="897.9" stroke="#111" stroke-width="3"/>
<line x1="1837.5" y1="923" x2="1847.5" y2="923" stroke="#111" stroke-width="3"/>
<line x1="1903.5" y1="1073.7" x2="1903.5" y2="1081.7" stroke="#111" stroke-width="3"/>
<line x1="2032.5" y1="1073.7" x2="2032.5" y2="1081.7" stroke="#111" stroke-width="3"/>
<line x1="2162.5" y1="1073.7" x2="2162.5" y2="1081.7" stroke="#111" stroke-width="3"/>
<line x1="2292.5" y1="1073.7" x2="2292.5" y2="1081.7" stroke="#111" stroke-width="3"/>
<rect x="1846.3" y="923" width="14.8" height="150.7" fill="#050505" stroke="#050505" stroke-width="2"/>
<line x1="1853.7" y1="872.6" x2="1853.7" y2="874.1" stroke="#111" stroke-width="3"/>
<line x1="1850.2" y1="872.6" x2="1857.2" y2="872.6" stroke="#111" stroke-width="3"/>
<rect x="1846.3" y="874.1" width="14.8" height="23.8" fill="#050505" stroke="#050505" stroke-width="2"/>
<rect x="1866.8" y="923" width="14.8" height="150.7" fill="url(#pchkR)" stroke="#050505" stroke-width="2.5"/>
<line x1="1874.2" y1="848.4" x2="1874.2" y2="850.9" stroke="#111" stroke-width="3"/>
<line x1="1870.7" y1="848.4" x2="1877.7" y2="848.4" stroke="#111" stroke-width="3"/>
<rect x="1866.8" y="850.9" width="14.8" height="47" fill="url(#pchkR)" stroke="#050505" stroke-width="2.5"/>
<rect x="1886.1" y="923" width="14.8" height="150.7" fill="url(#phR)" stroke="#1a1a1a" stroke-width="2.5"/>
<line x1="1893.5" y1="866.1" x2="1893.5" y2="868.6" stroke="#111" stroke-width="3"/>
<line x1="1890" y1="866.1" x2="1897" y2="866.1" stroke="#111" stroke-width="3"/>
<rect x="1886.1" y="868.6" width="14.8" height="29.3" fill="url(#phR)" stroke="#1a1a1a" stroke-width="2.5"/>
<rect x="1905.8" y="923" width="14.8" height="150.7" fill="#dadada" stroke="#1a1a1a" stroke-width="2.5"/>
<line x1="1913.2" y1="924" x2="1913.2" y2="1073.7" stroke="#2a2a2a" stroke-width="3"/>
<line x1="1913.2" y1="848.9" x2="1913.2" y2="851.4" stroke="#111" stroke-width="3"/>
<line x1="1909.7" y1="848.9" x2="1916.7" y2="848.9" stroke="#111" stroke-width="3"/>
<rect x="1905.8" y="851.4" width="14.8" height="46.5" fill="#dadada" stroke="#1a1a1a" stroke-width="2.5"/>
<line x1="1913.2" y1="852.4" x2="1913.2" y2="897.9" stroke="#2a2a2a" stroke-width="3"/>
<rect x="1924.2" y="923" width="14.8" height="150.7" fill="url(#pd1)" stroke="#1a1a1a" stroke-width="2.5"/>
<line x1="1931.6" y1="856.5" x2="1931.6" y2="858.5" stroke="#111" stroke-width="3"/>
<line x1="1928.1" y1="856.5" x2="1935.1" y2="856.5" stroke="#111" stroke-width="3"/>
<rect x="1924.2" y="858.5" width="14.8" height="39.4" fill="url(#pd1)" stroke="#1a1a1a" stroke-width="2.5"/>
<rect x="1943.5" y="923" width="14.8" height="150.7" fill="url(#pd2)" stroke="#1a1a1a" stroke-width="2.5"/>
<line x1="1950.9" y1="872.6" x2="1950.9" y2="874.7" stroke="#111" stroke-width="3"/>
<line x1="1947.4" y1="872.6" x2="1954.4" y2="872.6" stroke="#111" stroke-width="3"/>
<rect x="1943.5" y="874.7" width="14.8" height="23.2" fill="url(#pd2)" stroke="#1a1a1a" stroke-width="2.5"/>
<line x1="1984" y1="1061.6" x2="1984" y2="1062.8" stroke="#111" stroke-width="3"/>
<line x1="1980.5" y1="1061.6" x2="1987.5" y2="1061.6" stroke="#111" stroke-width="3"/>
<rect x="1976.6" y="1062.8" width="14.8" height="10.9" fill="#050505" stroke="#050505" stroke-width="2"/>
<line x1="2003" y1="1060.4" x2="2003" y2="1061.6" stroke="#111" stroke-width="3"/>
<line x1="1999.5" y1="1060.4" x2="2006.5" y2="1060.4" stroke="#111" stroke-width="3"/>
<rect x="1995.6" y="1061.6" width="14.8" height="12.1" fill="url(#pchkR)" stroke="#050505" stroke-width="2.5"/>
<line x1="2022.6" y1="1058.6" x2="2022.6" y2="1059.8" stroke="#111" stroke-width="3"/>
<line x1="2019.1" y1="1058.6" x2="2026.1" y2="1058.6" stroke="#111" stroke-width="3"/>
<rect x="2015.2" y="1059.8" width="14.8" height="13.9" fill="url(#phR)" stroke="#1a1a1a" stroke-width="2.5"/>
<line x1="2042.3" y1="1064.7" x2="2042.3" y2="1065.3" stroke="#111" stroke-width="3"/>
<line x1="2038.8" y1="1064.7" x2="2045.8" y2="1064.7" stroke="#111" stroke-width="3"/>
<rect x="2034.9" y="1065.3" width="14.8" height="8.4" fill="#dadada" stroke="#1a1a1a" stroke-width="2.5"/>
<line x1="2042.3" y1="1066.3" x2="2042.3" y2="1073.7" stroke="#2a2a2a" stroke-width="3"/>
<line x1="2061.6" y1="1058.6" x2="2061.6" y2="1059.8" stroke="#111" stroke-width="3"/>
<line x1="2058.1" y1="1058.6" x2="2065.1" y2="1058.6" stroke="#111" stroke-width="3"/>
<rect x="2054.2" y="1059.8" width="14.8" height="13.9" fill="url(#pd1)" stroke="#1a1a1a" stroke-width="2.5"/>
<line x1="2081" y1="1055" x2="2081" y2="1056.8" stroke="#111" stroke-width="3"/>
<line x1="2077.5" y1="1055" x2="2084.5" y2="1055" stroke="#111" stroke-width="3"/>
<rect x="2073.6" y="1056.8" width="14.8" height="16.9" fill="url(#pd2)" stroke="#1a1a1a" stroke-width="2.5"/>
<rect x="2106.6" y="923" width="14.8" height="150.7" fill="#050505" stroke="#050505" stroke-width="2"/>
<line x1="2114" y1="800.9" x2="2114" y2="827.7" stroke="#111" stroke-width="3"/>
<line x1="2110.5" y1="800.9" x2="2117.5" y2="800.9" stroke="#111" stroke-width="3"/>
<rect x="2106.6" y="827.7" width="14.8" height="70.2" fill="#050505" stroke="#050505" stroke-width="2"/>
<rect x="2125.9" y="923" width="14.8" height="150.7" fill="url(#pchkR)" stroke="#050505" stroke-width="2.5"/>
<line x1="2133.3" y1="770.6" x2="2133.3" y2="790.8" stroke="#111" stroke-width="3"/>
<line x1="2129.8" y1="770.6" x2="2136.8" y2="770.6" stroke="#111" stroke-width="3"/>
<rect x="2125.9" y="790.8" width="14.8" height="107.1" fill="url(#pchkR)" stroke="#050505" stroke-width="2.5"/>
<rect x="2145.6" y="923" width="14.8" height="150.7" fill="url(#phR)" stroke="#1a1a1a" stroke-width="2.5"/>
<line x1="2153" y1="800.9" x2="2153" y2="824.1" stroke="#111" stroke-width="3"/>
<line x1="2149.5" y1="800.9" x2="2156.5" y2="800.9" stroke="#111" stroke-width="3"/>
<rect x="2145.6" y="824.1" width="14.8" height="73.8" fill="url(#phR)" stroke="#1a1a1a" stroke-width="2.5"/>
<rect x="2165.3" y="923" width="14.8" height="150.7" fill="#dadada" stroke="#1a1a1a" stroke-width="2.5"/>
<line x1="2172.7" y1="924" x2="2172.7" y2="1073.7" stroke="#2a2a2a" stroke-width="3"/>
<line x1="2172.7" y1="785.7" x2="2172.7" y2="810" stroke="#111" stroke-width="3"/>
<line x1="2169.2" y1="785.7" x2="2176.2" y2="785.7" stroke="#111" stroke-width="3"/>
<rect x="2165.3" y="810" width="14.8" height="87.9" fill="#dadada" stroke="#1a1a1a" stroke-width="2.5"/>
<line x1="2172.7" y1="811" x2="2172.7" y2="897.9" stroke="#2a2a2a" stroke-width="3"/>
<rect x="2184.6" y="923" width="14.8" height="150.7" fill="url(#pd1)" stroke="#1a1a1a" stroke-width="2.5"/>
<line x1="2192" y1="800.4" x2="2192" y2="822.1" stroke="#111" stroke-width="3"/>
<line x1="2188.5" y1="800.4" x2="2195.5" y2="800.4" stroke="#111" stroke-width="3"/>
<rect x="2184.6" y="822.1" width="14.8" height="75.8" fill="url(#pd1)" stroke="#1a1a1a" stroke-width="2.5"/>
<rect x="2204.2" y="923" width="14.8" height="150.7" fill="url(#pd2)" stroke="#1a1a1a" stroke-width="2.5"/>
<line x1="2211.6" y1="776.6" x2="2211.6" y2="801.9" stroke="#111" stroke-width="3"/>
<line x1="2208.1" y1="776.6" x2="2215.1" y2="776.6" stroke="#111" stroke-width="3"/>
<rect x="2204.2" y="801.9" width="14.8" height="96" fill="url(#pd2)" stroke="#1a1a1a" stroke-width="2.5"/>
<line x1="2244.4" y1="955.6" x2="2244.4" y2="983.3" stroke="#111" stroke-width="3"/>
<line x1="2240.9" y1="955.6" x2="2247.9" y2="955.6" stroke="#111" stroke-width="3"/>
<rect x="2237" y="983.3" width="14.8" height="90.4" fill="#050505" stroke="#050505" stroke-width="2"/>
<line x1="2263.7" y1="969.4" x2="2263.7" y2="991.1" stroke="#111" stroke-width="3"/>
<line x1="2260.2" y1="969.4" x2="2267.2" y2="969.4" stroke="#111" stroke-width="3"/>
<rect x="2256.3" y="991.1" width="14.8" height="82.6" fill="url(#pchkR)" stroke="#050505" stroke-width="2.5"/>
<line x1="2283" y1="959.8" x2="2283" y2="982.7" stroke="#111" stroke-width="3"/>
<line x1="2279.5" y1="959.8" x2="2286.5" y2="959.8" stroke="#111" stroke-width="3"/>
<rect x="2275.6" y="982.7" width="14.8" height="91" fill="url(#phR)" stroke="#1a1a1a" stroke-width="2.5"/>
<line x1="2302.6" y1="947.1" x2="2302.6" y2="971.8" stroke="#111" stroke-width="3"/>
<line x1="2299.1" y1="947.1" x2="2306.1" y2="947.1" stroke="#111" stroke-width="3"/>
<rect x="2295.2" y="971.8" width="14.8" height="101.9" fill="#dadada" stroke="#1a1a1a" stroke-width="2.5"/>
<line x1="2302.6" y1="972.8" x2="2302.6" y2="1073.7" stroke="#2a2a2a" stroke-width="3"/>
<line x1="2322.3" y1="942.3" x2="2322.3" y2="966.4" stroke="#111" stroke-width="3"/>
<line x1="2318.8" y1="942.3" x2="2325.8" y2="942.3" stroke="#111" stroke-width="3"/>
<rect x="2314.9" y="966.4" width="14.8" height="107.3" fill="url(#pd1)" stroke="#1a1a1a" stroke-width="2.5"/>
<line x1="2341.5" y1="936.3" x2="2341.5" y2="960.4" stroke="#111" stroke-width="3"/>
<line x1="2338" y1="936.3" x2="2345" y2="936.3" stroke="#111" stroke-width="3"/>
<rect x="2334.1" y="960.4" width="14.8" height="113.3" fill="url(#pd2)" stroke="#1a1a1a" stroke-width="2.5"/>
<text x="1903.5" y="1109" font-size="23" class="sb" text-anchor="middle" fill="#1a1a1a">CD8<tspan dy="-9" font-size="13">+</tspan><tspan dy="9">T</tspan></text>
<text x="2032.5" y="1109" font-size="23" class="sb" text-anchor="middle" fill="#1a1a1a">naive CD8<tspan dy="-9" font-size="13">+</tspan><tspan dy="9">T</tspan></text>
<text x="2162.5" y="1109" font-size="23" class="sb" text-anchor="middle" fill="#1a1a1a">CD8<tspan dy="-9" font-size="13">+</tspan><tspan dy="9">T</tspan><tspan font-size="15" font-weight="normal">AE</tspan></text>
<text x="2292.5" y="1109" font-size="23" class="sb" text-anchor="middle" fill="#1a1a1a">CD8<tspan dy="-9" font-size="13">+</tspan><tspan dy="9">T</tspan><tspan font-size="15" font-weight="normal">EM</tspan></text>
<text x="1778" y="908" font-size="27.5" class="sb" text-anchor="middle" fill="#1a1a1a" transform="rotate(-90 1778 908)">cell number(%)</text>
<rect x="1758" y="1161.5" width="38" height="15" fill="#050505" stroke="#050505" stroke-width="2"/>
<text x="1815" y="1177.5" font-size="23.5" class="s" fill="#333">Sham</text>
<rect x="1758" y="1199.5" width="38" height="15" fill="url(#pchkR)" stroke="#050505" stroke-width="2.5"/>
<text x="1815" y="1215.5" font-size="23.5" class="s" fill="#333">Control</text>
<rect x="1907" y="1161.5" width="38" height="15" fill="url(#phR)" stroke="#1a1a1a" stroke-width="2.5"/>
<text x="1964" y="1177.5" font-size="23.5" class="s" fill="#333">pAD-Amp OX</text>
<rect x="1907" y="1199.5" width="38" height="15" fill="#dadada" stroke="#1a1a1a" stroke-width="2.5"/>
<line x1="1926" y1="1200.5" x2="1926" y2="1214.5" stroke="#2a2a2a" stroke-width="3"/>
<text x="1964" y="1215.5" font-size="23.5" class="s" fill="#333">Tβ15 OX</text>
<rect x="2120" y="1161.5" width="38" height="15" fill="url(#pd1)" stroke="#1a1a1a" stroke-width="2.5"/>
<text x="2177" y="1177.5" font-size="23.5" class="s" fill="#333">pLent-U6-GFP-Puro sh</text>
<rect x="2120" y="1199.5" width="38" height="15" fill="url(#pd2)" stroke="#1a1a1a" stroke-width="2.5"/>
<text x="2177" y="1215.5" font-size="23.5" class="s" fill="#333">Tβ15 sh</text>
<line x1="1848" y1="1398.5" x2="1848" y2="1245.6" stroke="#111" stroke-width="3"/>
<line x1="1840" y1="1245.6" x2="1848" y2="1245.6" stroke="#111" stroke-width="3"/>
<text x="1835" y="1252.6" font-size="19" class="sb" text-anchor="end" fill="#1a1a1a" transform="translate(1835 1252.6) scale(1.19 1) translate(-1835 -1252.6)">100</text>
<line x1="1840" y1="1277.7" x2="1848" y2="1277.7" stroke="#111" stroke-width="3"/>
<text x="1835" y="1284.7" font-size="19" class="sb" text-anchor="end" fill="#1a1a1a" transform="translate(1835 1284.7) scale(1.19 1) translate(-1835 -1284.7)">80</text>
<line x1="1840" y1="1309.7" x2="1848" y2="1309.7" stroke="#111" stroke-width="3"/>
<text x="1835" y="1316.7" font-size="19" class="sb" text-anchor="end" fill="#1a1a1a" transform="translate(1835 1316.7) scale(1.19 1) translate(-1835 -1316.7)">60</text>
<line x1="1840" y1="1341.8" x2="1848" y2="1341.8" stroke="#111" stroke-width="3"/>
<text x="1835" y="1348.8" font-size="19" class="sb" text-anchor="end" fill="#1a1a1a" transform="translate(1835 1348.8) scale(1.19 1) translate(-1835 -1348.8)">40</text>
<line x1="1840" y1="1373.8" x2="1848" y2="1373.8" stroke="#111" stroke-width="3"/>
<text x="1835" y="1380.8" font-size="19" class="sb" text-anchor="end" fill="#1a1a1a" transform="translate(1835 1380.8) scale(1.19 1) translate(-1835 -1380.8)">20</text>
<line x1="1848" y1="1574.8" x2="1848" y2="1423" stroke="#111" stroke-width="3"/>
<line x1="1840" y1="1423" x2="1848" y2="1423" stroke="#111" stroke-width="3"/>
<text x="1835" y="1430" font-size="19" class="sb" text-anchor="end" fill="#1a1a1a" transform="translate(1835 1430) scale(1.19 1) translate(-1835 -1430)">2.0</text>
<line x1="1840" y1="1461" x2="1848" y2="1461" stroke="#111" stroke-width="3"/>
<text x="1835" y="1468" font-size="19" class="sb" text-anchor="end" fill="#1a1a1a" transform="translate(1835 1468) scale(1.19 1) translate(-1835 -1468)">1.5</text>
<line x1="1840" y1="1498.9" x2="1848" y2="1498.9" stroke="#111" stroke-width="3"/>
<text x="1835" y="1505.9" font-size="19" class="sb" text-anchor="end" fill="#1a1a1a" transform="translate(1835 1505.9) scale(1.19 1) translate(-1835 -1505.9)">1.0</text>
<line x1="1840" y1="1536.8" x2="1848" y2="1536.8" stroke="#111" stroke-width="3"/>
<text x="1835" y="1543.8" font-size="19" class="sb" text-anchor="end" fill="#1a1a1a" transform="translate(1835 1543.8) scale(1.19 1) translate(-1835 -1543.8)">0.5</text>
<line x1="1840" y1="1574.8" x2="1848" y2="1574.8" stroke="#111" stroke-width="3"/>
<text x="1835" y="1581.8" font-size="19" class="sb" text-anchor="end" fill="#1a1a1a" transform="translate(1835 1581.8) scale(1.19 1) translate(-1835 -1581.8)">0.0</text>
<line x1="1840" y1="1574.8" x2="2370" y2="1574.8" stroke="#111" stroke-width="3"/>
<line x1="1848" y1="1398.5" x2="1858" y2="1398.5" stroke="#111" stroke-width="3"/>
<line x1="1848" y1="1423" x2="1858" y2="1423" stroke="#111" stroke-width="3"/>
<line x1="1913.5" y1="1574.8" x2="1913.5" y2="1582.8" stroke="#111" stroke-width="3"/>
<line x1="2043.5" y1="1574.8" x2="2043.5" y2="1582.8" stroke="#111" stroke-width="3"/>
<line x1="2174.5" y1="1574.8" x2="2174.5" y2="1582.8" stroke="#111" stroke-width="3"/>
<line x1="2305.5" y1="1574.8" x2="2305.5" y2="1582.8" stroke="#111" stroke-width="3"/>
<rect x="1857.2" y="1423" width="15.2" height="151.8" fill="#050505" stroke="#050505" stroke-width="2"/>
<line x1="1864.8" y1="1314.5" x2="1864.8" y2="1315.8" stroke="#111" stroke-width="3"/>
<line x1="1861.3" y1="1314.5" x2="1868.3" y2="1314.5" stroke="#111" stroke-width="3"/>
<rect x="1857.2" y="1315.8" width="15.2" height="82.7" fill="#050505" stroke="#050505" stroke-width="2"/>
<rect x="1876.9" y="1423" width="15.2" height="151.8" fill="url(#pchkR)" stroke="#050505" stroke-width="2.5"/>
<line x1="1884.5" y1="1312.1" x2="1884.5" y2="1313.7" stroke="#111" stroke-width="3"/>
<line x1="1881" y1="1312.1" x2="1888" y2="1312.1" stroke="#111" stroke-width="3"/>
<rect x="1876.9" y="1313.7" width="15.2" height="84.8" fill="url(#pchkR)" stroke="#050505" stroke-width="2.5"/>
<rect x="1896.1" y="1423" width="15.2" height="151.8" fill="url(#phR)" stroke="#1a1a1a" stroke-width="2.5"/>
<line x1="1903.7" y1="1308.7" x2="1903.7" y2="1310" stroke="#111" stroke-width="3"/>
<line x1="1900.2" y1="1308.7" x2="1907.2" y2="1308.7" stroke="#111" stroke-width="3"/>
<rect x="1896.1" y="1310" width="15.2" height="88.5" fill="url(#phR)" stroke="#1a1a1a" stroke-width="2.5"/>
<rect x="1916.2" y="1423" width="15.2" height="151.8" fill="#dadada" stroke="#1a1a1a" stroke-width="2.5"/>
<line x1="1923.8" y1="1424" x2="1923.8" y2="1574.8" stroke="#2a2a2a" stroke-width="3"/>
<line x1="1923.8" y1="1310.7" x2="1923.8" y2="1312" stroke="#111" stroke-width="3"/>
<line x1="1920.3" y1="1310.7" x2="1927.3" y2="1310.7" stroke="#111" stroke-width="3"/>
<rect x="1916.2" y="1312" width="15.2" height="86.5" fill="#dadada" stroke="#1a1a1a" stroke-width="2.5"/>
<line x1="1923.8" y1="1313" x2="1923.8" y2="1398.5" stroke="#2a2a2a" stroke-width="3"/>
<rect x="1935.9" y="1423" width="15.2" height="151.8" fill="url(#pd1)" stroke="#1a1a1a" stroke-width="2.5"/>
<line x1="1943.5" y1="1308.7" x2="1943.5" y2="1310" stroke="#111" stroke-width="3"/>
<line x1="1940" y1="1308.7" x2="1947" y2="1308.7" stroke="#111" stroke-width="3"/>
<rect x="1935.9" y="1310" width="15.2" height="88.5" fill="url(#pd1)" stroke="#1a1a1a" stroke-width="2.5"/>
<rect x="1955.2" y="1423" width="15.2" height="151.8" fill="url(#pd2)" stroke="#1a1a1a" stroke-width="2.5"/>
<line x1="1962.8" y1="1308.1" x2="1962.8" y2="1309.4" stroke="#111" stroke-width="3"/>
<line x1="1959.3" y1="1308.1" x2="1966.3" y2="1308.1" stroke="#111" stroke-width="3"/>
<rect x="1955.2" y="1309.4" width="15.2" height="89.1" fill="url(#pd2)" stroke="#1a1a1a" stroke-width="2.5"/>
<line x1="1995" y1="1432.9" x2="1995" y2="1445.8" stroke="#111" stroke-width="3"/>
<line x1="1991.5" y1="1432.9" x2="1998.5" y2="1432.9" stroke="#111" stroke-width="3"/>
<rect x="1987.4" y="1445.8" width="15.2" height="129" fill="#050505" stroke="#050505" stroke-width="2"/>
<line x1="2014.8" y1="1522.4" x2="2014.8" y2="1523.9" stroke="#111" stroke-width="3"/>
<line x1="2011.3" y1="1522.4" x2="2018.3" y2="1522.4" stroke="#111" stroke-width="3"/>
<rect x="2007.2" y="1523.9" width="15.2" height="50.9" fill="url(#pchkR)" stroke="#050505" stroke-width="2.5"/>
<line x1="2034" y1="1512.6" x2="2034" y2="1514.8" stroke="#111" stroke-width="3"/>
<line x1="2030.5" y1="1512.6" x2="2037.5" y2="1512.6" stroke="#111" stroke-width="3"/>
<rect x="2026.4" y="1514.8" width="15.2" height="60" fill="url(#phR)" stroke="#1a1a1a" stroke-width="2.5"/>
<line x1="2053.8" y1="1522.4" x2="2053.8" y2="1524.7" stroke="#111" stroke-width="3"/>
<line x1="2050.3" y1="1522.4" x2="2057.3" y2="1522.4" stroke="#111" stroke-width="3"/>
<rect x="2046.2" y="1524.7" width="15.2" height="50.1" fill="#dadada" stroke="#1a1a1a" stroke-width="2.5"/>
<line x1="2053.8" y1="1525.7" x2="2053.8" y2="1574.8" stroke="#2a2a2a" stroke-width="3"/>
<line x1="2073" y1="1523.9" x2="2073" y2="1526.2" stroke="#111" stroke-width="3"/>
<line x1="2069.5" y1="1523.9" x2="2076.5" y2="1523.9" stroke="#111" stroke-width="3"/>
<rect x="2065.4" y="1526.2" width="15.2" height="48.6" fill="url(#pd1)" stroke="#1a1a1a" stroke-width="2.5"/>
<line x1="2092.7" y1="1516.4" x2="2092.7" y2="1519.4" stroke="#111" stroke-width="3"/>
<line x1="2089.2" y1="1516.4" x2="2096.2" y2="1516.4" stroke="#111" stroke-width="3"/>
<rect x="2085.1" y="1519.4" width="15.2" height="55.4" fill="url(#pd2)" stroke="#1a1a1a" stroke-width="2.5"/>
<rect x="2117.9" y="1423" width="15.2" height="151.8" fill="#050505" stroke="#050505" stroke-width="2"/>
<line x1="2125.5" y1="1286.5" x2="2125.5" y2="1296.9" stroke="#111" stroke-width="3"/>
<line x1="2122" y1="1286.5" x2="2129" y2="1286.5" stroke="#111" stroke-width="3"/>
<rect x="2117.9" y="1296.9" width="15.2" height="101.6" fill="#050505" stroke="#050505" stroke-width="2"/>
<rect x="2137.6" y="1423" width="15.2" height="151.8" fill="url(#pchkR)" stroke="#050505" stroke-width="2.5"/>
<line x1="2145.2" y1="1316.4" x2="2145.2" y2="1324.1" stroke="#111" stroke-width="3"/>
<line x1="2141.7" y1="1316.4" x2="2148.7" y2="1316.4" stroke="#111" stroke-width="3"/>
<rect x="2137.6" y="1324.1" width="15.2" height="74.4" fill="url(#pchkR)" stroke="#050505" stroke-width="2.5"/>
<rect x="2156.9" y="1423" width="15.2" height="151.8" fill="url(#phR)" stroke="#1a1a1a" stroke-width="2.5"/>
<line x1="2164.5" y1="1282.5" x2="2164.5" y2="1287.3" stroke="#111" stroke-width="3"/>
<line x1="2161" y1="1282.5" x2="2168" y2="1282.5" stroke="#111" stroke-width="3"/>
<rect x="2156.9" y="1287.3" width="15.2" height="111.2" fill="url(#phR)" stroke="#1a1a1a" stroke-width="2.5"/>
<rect x="2176.9" y="1423" width="15.2" height="151.8" fill="#dadada" stroke="#1a1a1a" stroke-width="2.5"/>
<line x1="2184.5" y1="1424" x2="2184.5" y2="1574.8" stroke="#2a2a2a" stroke-width="3"/>
<line x1="2184.5" y1="1297.4" x2="2184.5" y2="1303" stroke="#111" stroke-width="3"/>
<line x1="2181" y1="1297.4" x2="2188" y2="1297.4" stroke="#111" stroke-width="3"/>
<rect x="2176.9" y="1303" width="15.2" height="95.5" fill="#dadada" stroke="#1a1a1a" stroke-width="2.5"/>
<line x1="2184.5" y1="1304" x2="2184.5" y2="1398.5" stroke="#2a2a2a" stroke-width="3"/>
<rect x="2196.6" y="1423" width="15.2" height="151.8" fill="url(#pd1)" stroke="#1a1a1a" stroke-width="2.5"/>
<line x1="2204.2" y1="1325.4" x2="2204.2" y2="1326.9" stroke="#111" stroke-width="3"/>
<line x1="2200.7" y1="1325.4" x2="2207.7" y2="1325.4" stroke="#111" stroke-width="3"/>
<rect x="2196.6" y="1326.9" width="15.2" height="71.6" fill="url(#pd1)" stroke="#1a1a1a" stroke-width="2.5"/>
<rect x="2216.3" y="1423" width="15.2" height="151.8" fill="url(#pd2)" stroke="#1a1a1a" stroke-width="2.5"/>
<line x1="2223.9" y1="1333.7" x2="2223.9" y2="1335" stroke="#111" stroke-width="3"/>
<line x1="2220.4" y1="1333.7" x2="2227.4" y2="1333.7" stroke="#111" stroke-width="3"/>
<rect x="2216.3" y="1335" width="15.2" height="63.5" fill="url(#pd2)" stroke="#1a1a1a" stroke-width="2.5"/>
<rect x="2248.7" y="1423" width="15.2" height="151.8" fill="#050505" stroke="#050505" stroke-width="2"/>
<line x1="2256.3" y1="1369" x2="2256.3" y2="1377.8" stroke="#111" stroke-width="3"/>
<line x1="2252.8" y1="1369" x2="2259.8" y2="1369" stroke="#111" stroke-width="3"/>
<rect x="2248.7" y="1377.8" width="15.2" height="20.7" fill="#050505" stroke="#050505" stroke-width="2"/>
<rect x="2268.4" y="1423" width="15.2" height="151.8" fill="url(#pchkR)" stroke="#050505" stroke-width="2.5"/>
<line x1="2276" y1="1371.6" x2="2276" y2="1379.3" stroke="#111" stroke-width="3"/>
<line x1="2272.5" y1="1371.6" x2="2279.5" y2="1371.6" stroke="#111" stroke-width="3"/>
<rect x="2268.4" y="1379.3" width="15.2" height="19.2" fill="url(#pchkR)" stroke="#050505" stroke-width="2.5"/>
<rect x="2287.6" y="1423" width="15.2" height="151.8" fill="url(#phR)" stroke="#1a1a1a" stroke-width="2.5"/>
<line x1="2295.2" y1="1381.8" x2="2295.2" y2="1385.4" stroke="#111" stroke-width="3"/>
<line x1="2291.7" y1="1381.8" x2="2298.7" y2="1381.8" stroke="#111" stroke-width="3"/>
<rect x="2287.6" y="1385.4" width="15.2" height="13.1" fill="url(#phR)" stroke="#1a1a1a" stroke-width="2.5"/>
<rect x="2307.4" y="1423" width="15.2" height="151.8" fill="#dadada" stroke="#1a1a1a" stroke-width="2.5"/>
<line x1="2315" y1="1424" x2="2315" y2="1574.8" stroke="#2a2a2a" stroke-width="3"/>
<line x1="2315" y1="1383.1" x2="2315" y2="1387.3" stroke="#111" stroke-width="3"/>
<line x1="2311.5" y1="1383.1" x2="2318.5" y2="1383.1" stroke="#111" stroke-width="3"/>
<rect x="2307.4" y="1387.3" width="15.2" height="11.2" fill="#dadada" stroke="#1a1a1a" stroke-width="2.5"/>
<line x1="2315" y1="1388.3" x2="2315" y2="1398.5" stroke="#2a2a2a" stroke-width="3"/>
<rect x="2327" y="1423" width="15.2" height="151.8" fill="url(#pd1)" stroke="#1a1a1a" stroke-width="2.5"/>
<line x1="2334.6" y1="1378.3" x2="2334.6" y2="1379.9" stroke="#111" stroke-width="3"/>
<line x1="2331.1" y1="1378.3" x2="2338.1" y2="1378.3" stroke="#111" stroke-width="3"/>
<rect x="2327" y="1379.9" width="15.2" height="18.6" fill="url(#pd1)" stroke="#1a1a1a" stroke-width="2.5"/>
<rect x="2347.1" y="1423" width="15.2" height="151.8" fill="url(#pd2)" stroke="#1a1a1a" stroke-width="2.5"/>
<line x1="2354.7" y1="1376.7" x2="2354.7" y2="1377.8" stroke="#111" stroke-width="3"/>
<line x1="2351.2" y1="1376.7" x2="2358.2" y2="1376.7" stroke="#111" stroke-width="3"/>
<rect x="2347.1" y="1377.8" width="15.2" height="20.7" fill="url(#pd2)" stroke="#1a1a1a" stroke-width="2.5"/>
<text x="1913.5" y="1609" font-size="23" class="sb" text-anchor="middle" fill="#1a1a1a">CD8<tspan dy="-9" font-size="13">+</tspan><tspan dy="9">T</tspan></text>
<text x="2043.5" y="1609" font-size="23" class="sb" text-anchor="middle" fill="#1a1a1a">naive CD8<tspan dy="-9" font-size="13">+</tspan><tspan dy="9">T</tspan></text>
<text x="2174.5" y="1609" font-size="23" class="sb" text-anchor="middle" fill="#1a1a1a">CD8<tspan dy="-9" font-size="13">+</tspan><tspan dy="9">T</tspan><tspan font-size="15" font-weight="normal">AE</tspan></text>
<text x="2305.5" y="1609" font-size="23" class="sb" text-anchor="middle" fill="#1a1a1a">CD8<tspan dy="-9" font-size="13">+</tspan><tspan dy="9">T</tspan><tspan font-size="15" font-weight="normal">EM</tspan></text>
<text x="1780" y="1410" font-size="27.5" class="sb" text-anchor="middle" fill="#1a1a1a" transform="rotate(-90 1780 1410)">cell number(%)</text>
<text x="48" y="751" font-size="37.5" class="s" transform="translate(48 751) scale(0.88 1) translate(-48 -751)">D</text>
<text x="503" y="756" font-size="37" class="r" text-anchor="middle">Day 7</text>
<line x1="212" y1="767" x2="771" y2="767" stroke="#111" stroke-width="2.5"/>
<text x="933" y="751" font-size="37.5" class="s" transform="translate(933 751) scale(0.88 1) translate(-933 -751)">E</text>
<text x="1337.5" y="753" font-size="37" class="r" text-anchor="middle">Day 14</text>
<line x1="1060" y1="763" x2="1618.5" y2="763" stroke="#111" stroke-width="2.5"/>
<g filter="url(#fD1)"><rect x="155.8" y="802.7" width="315.9" height="316.9" fill="#000" fill-opacity="0.001"/><ellipse cx="265.6" cy="939.4" rx="118" ry="99.4" fill-opacity="0.01"/><ellipse cx="271.8" cy="934.5" rx="77" ry="64.6" fill-opacity="0.02"/><ellipse cx="340.1" cy="930.7" rx="32.3" ry="27.3" fill-opacity="0.06" transform="rotate(-30 340.1 930.7)"/><ellipse cx="256.9" cy="992.9" rx="23.6" ry="29.8" fill-opacity="0.1"/><ellipse cx="254.4" cy="959.3" rx="32.3" ry="16.1" fill-opacity="0.22" transform="rotate(-15 254.4 959.3)"/><ellipse cx="273.7" cy="940.7" rx="50.9" ry="13" fill-opacity="0.28" transform="rotate(-29.4 273.7 940.7)"/><ellipse cx="284.2" cy="941.3" rx="28.6" ry="7.2" fill-opacity="0.45" transform="rotate(-37 284.2 941.3)"/><ellipse cx="284.2" cy="941.3" rx="14.9" ry="3.7" fill-opacity="0.4" transform="rotate(-37 284.2 941.3)"/></g>
<path d="M233 1120.6v7M251 1120.6v4M261.5 1120.6v4M269 1120.6v4M274.8 1120.6v4M279.5 1120.6v4M283.5 1120.6v4M287 1120.6v4M290 1120.6v4M292.8 1120.6v7M310.5 1120.6v4M320.8 1120.6v4M328.2 1120.6v4M333.9 1120.6v4M338.5 1120.6v4M342.5 1120.6v4M345.9 1120.6v4M348.9 1120.6v4M351.6 1120.6v7M370 1120.6v4M380.7 1120.6v4M388.3 1120.6v4M394.2 1120.6v4M399.1 1120.6v4M403.2 1120.6v4M406.7 1120.6v4M409.8 1120.6v4M412.6 1120.6v7M430.4 1120.6v4M440.8 1120.6v4M448.2 1120.6v4M453.9 1120.6v4M458.6 1120.6v4M462.6 1120.6v4M466 1120.6v4M469 1120.6v4M471.7 1120.6v7M221.1 1120.6v4M209.1 1120.6v4M197.1 1120.6v4M185.2 1120.6v4M173.2 1120.6v4M161.3 1120.6v4M154.8 1061.6h-7M154.8 1046.1h-4M154.8 1037h-4M154.8 1030.5h-4M154.8 1025.5h-4M154.8 1021.4h-4M154.8 1017.9h-4M154.8 1014.9h-4M154.8 1012.3h-4M154.8 1009.9h-7M154.8 994h-4M154.8 984.7h-4M154.8 978.1h-4M154.8 972.9h-4M154.8 968.7h-4M154.8 965.2h-4M154.8 962.1h-4M154.8 959.4h-4M154.8 957h-7M154.8 941.7h-4M154.8 932.8h-4M154.8 926.5h-4M154.8 921.6h-4M154.8 917.5h-4M154.8 914.2h-4M154.8 911.2h-4M154.8 908.6h-4M154.8 906.3h-7M154.8 889.5h-4M154.8 879.7h-4M154.8 872.7h-4M154.8 867.3h-4M154.8 862.9h-4M154.8 859.1h-4M154.8 855.9h-4M154.8 853h-4M154.8 850.5h-7M154.8 833.9h-4M154.8 824.2h-4M154.8 817.3h-4M154.8 811.9h-4M154.8 807.6h-4M154.8 803.9h-4M154.8 795.3h-7M154.8 1071.9h-4M154.8 1082.3h-4M154.8 1092.6h-4M154.8 1102.9h-4M154.8 1113.3h-4" stroke="#333" stroke-width="1.6" fill="none"/>
<rect x="154.8" y="801.7" width="317.9" height="318.9" fill="none" stroke="#3c3c3c" stroke-width="2.2"/>
<text x="177.1" y="1149.6" font-size="16" class="s" text-anchor="middle" fill="#3a3a3a" transform="translate(177.1 1149.6) scale(0.9 1) translate(-177.1 -1149.6)">0</text>
<text x="232" y="1149.6" font-size="16" class="s" text-anchor="middle" fill="#3a3a3a" transform="translate(232 1149.6) scale(0.9 1) translate(-232 -1149.6)">10<tspan dy="-6" font-size="10">2</tspan></text>
<text x="292.5" y="1149.6" font-size="16" class="s" text-anchor="middle" fill="#3a3a3a" transform="translate(292.5 1149.6) scale(0.9 1) translate(-292.5 -1149.6)">10<tspan dy="-6" font-size="10">3</tspan></text>
<text x="353.5" y="1149.6" font-size="16" class="s" text-anchor="middle" fill="#3a3a3a" transform="translate(353.5 1149.6) scale(0.9 1) translate(-353.5 -1149.6)">10<tspan dy="-6" font-size="10">4</tspan></text>
<text x="414.5" y="1149.6" font-size="16" class="s" text-anchor="middle" fill="#3a3a3a" transform="translate(414.5 1149.6) scale(0.9 1) translate(-414.5 -1149.6)">10<tspan dy="-6" font-size="10">5</tspan></text>
<text x="469.5" y="1149.6" font-size="16" class="s" text-anchor="middle" fill="#3a3a3a" transform="translate(469.5 1149.6) scale(0.9 1) translate(-469.5 -1149.6)">1ı</text>
<text x="133.8" y="802.7" font-size="16" class="s" text-anchor="middle" fill="#3a3a3a" transform="rotate(-90 133.8 802.7)" dy="0.35em">1C</text>
<text x="133.8" y="850.5" font-size="16" class="s" text-anchor="middle" fill="#3a3a3a" transform="rotate(-90 133.8 850.5)" dy="0.35em">10<tspan dy="-6" font-size="10">5</tspan></text>
<text x="133.8" y="906.3" font-size="16" class="s" text-anchor="middle" fill="#3a3a3a" transform="rotate(-90 133.8 906.3)" dy="0.35em">10<tspan dy="-6" font-size="10">4</tspan></text>
<text x="133.8" y="957" font-size="16" class="s" text-anchor="middle" fill="#3a3a3a" transform="rotate(-90 133.8 957)" dy="0.35em">10<tspan dy="-6" font-size="10">3</tspan></text>
<text x="133.8" y="1009.9" font-size="16" class="s" text-anchor="middle" fill="#3a3a3a" transform="rotate(-90 133.8 1009.9)" dy="0.35em">10<tspan dy="-6" font-size="10">2</tspan></text>
<text x="133.8" y="1061.6" font-size="16" class="s" text-anchor="middle" fill="#3a3a3a" transform="rotate(-90 133.8 1061.6)" dy="0.35em">10<tspan dy="-6" font-size="10">1</tspan></text>
<text x="133.8" y="1099.6" font-size="16" class="s" text-anchor="middle" fill="#3a3a3a" transform="rotate(-90 133.8 1099.6)" dy="0.35em">0</text>
<text x="313.8" y="1170.1" font-size="17" class="s" text-anchor="middle" fill="#3a3a3a" transform="translate(313.8 1170.1) scale(0.92 1) translate(-313.8 -1170.1)">CD4 FITC-A</text>
<text x="110.8" y="962.1" font-size="15" class="s" text-anchor="middle" fill="#3a3a3a" transform="rotate(-90 110.8 962.1) translate(110.8 962.1) scale(1.2 1) translate(-110.8 -962.1)" dy="0.35em">CD8 Violet660A</text>
<rect x="156.1" y="835.8" width="133.8" height="135.2" fill="none" stroke="#a8323e" stroke-width="2"/>
<rect x="282.6" y="974.5" width="146.2" height="141.9" fill="none" stroke="#a8a848" stroke-width="2"/>
<text x="157.7" y="826.6" font-size="16.5" class="s" fill="#a8323e">CD8+(59.44%)</text>
<text x="288.6" y="1107.8" font-size="16.5" class="s" fill="#a8a848">CD4+(0.32%)</text>
<g filter="url(#fD2)"><rect x="531" y="804.2" width="315.9" height="315.4" fill="#000" fill-opacity="0.001"/><ellipse cx="670.8" cy="1019.3" rx="79.5" ry="62.9" fill-opacity="0.1"/><ellipse cx="674.1" cy="1014.3" rx="49.7" ry="39.8" fill-opacity="0.13"/><ellipse cx="679.1" cy="1007.7" rx="21.5" ry="18.2" fill-opacity="0.18"/><ellipse cx="737" cy="1002.7" rx="24.8" ry="33.1" fill-opacity="0.12"/><ellipse cx="566.4" cy="1007.7" rx="43.1" ry="33.1" fill-opacity="0.035"/><ellipse cx="670.8" cy="928.2" rx="58" ry="33.1" fill-opacity="0.008"/></g>
<path d="M600.3 1120.6v7M623.3 1120.6v4M636.8 1120.6v4M646.4 1120.6v4M653.8 1120.6v4M659.9 1120.6v4M665 1120.6v4M669.4 1120.6v4M673.4 1120.6v4M676.9 1120.6v7M699.9 1120.6v4M713.4 1120.6v4M723 1120.6v4M730.4 1120.6v4M736.5 1120.6v4M741.6 1120.6v4M746.1 1120.6v4M750 1120.6v4M753.5 1120.6v7M776.8 1120.6v4M790.5 1120.6v4M800.2 1120.6v4M807.7 1120.6v4M813.8 1120.6v4M819 1120.6v4M823.5 1120.6v4M827.5 1120.6v4M831.1 1120.6v7M584.9 1120.6v4M569.6 1120.6v4M554.3 1120.6v4M539 1120.6v4M530 1073.9h-7M530 1050.2h-4M530 1036.4h-4M530 1026.6h-4M530 1018.9h-4M530 1012.7h-4M530 1007.4h-4M530 1002.9h-4M530 998.8h-4M530 995.2h-7M530 971.2h-4M530 957.2h-4M530 947.3h-4M530 939.5h-4M530 933.2h-4M530 927.9h-4M530 923.3h-4M530 919.2h-4M530 915.6h-7M530 892.8h-4M530 879.5h-4M530 870.1h-4M530 862.8h-4M530 856.8h-4M530 851.7h-4M530 847.3h-4M530 843.5h-4M530 840h-7M530 817.3h-4M530 804h-4M530 1089.7h-4M530 1105.4h-4" stroke="#333" stroke-width="1.6" fill="none"/>
<rect x="530" y="803.2" width="317.9" height="317.4" fill="none" stroke="#3c3c3c" stroke-width="2.2"/>
<text x="558" y="1149.6" font-size="16" class="s" text-anchor="middle" fill="#3a3a3a" transform="translate(558 1149.6) scale(0.9 1) translate(-558 -1149.6)">0</text>
<text x="603.1" y="1149.6" font-size="16" class="s" text-anchor="middle" fill="#3a3a3a" transform="translate(603.1 1149.6) scale(0.9 1) translate(-603.1 -1149.6)">10<tspan dy="-6" font-size="10">3</tspan></text>
<text x="679.7" y="1149.6" font-size="16" class="s" text-anchor="middle" fill="#3a3a3a" transform="translate(679.7 1149.6) scale(0.9 1) translate(-679.7 -1149.6)">10<tspan dy="-6" font-size="10">4</tspan></text>
<text x="756.3" y="1149.6" font-size="16" class="s" text-anchor="middle" fill="#3a3a3a" transform="translate(756.3 1149.6) scale(0.9 1) translate(-756.3 -1149.6)">10<tspan dy="-6" font-size="10">5</tspan></text>
<text x="833.9" y="1149.6" font-size="16" class="s" text-anchor="middle" fill="#3a3a3a" transform="translate(833.9 1149.6) scale(0.9 1) translate(-833.9 -1149.6)">10<tspan dy="-6" font-size="10">6</tspan></text>
<text x="508.3" y="840" font-size="16" class="s" text-anchor="middle" fill="#3a3a3a" transform="rotate(-90 508.3 840)" dy="0.35em">10<tspan dy="-6" font-size="10">5</tspan></text>
<text x="508.3" y="915.6" font-size="16" class="s" text-anchor="middle" fill="#3a3a3a" transform="rotate(-90 508.3 915.6)" dy="0.35em">10<tspan dy="-6" font-size="10">4</tspan></text>
<text x="508.3" y="995.2" font-size="16" class="s" text-anchor="middle" fill="#3a3a3a" transform="rotate(-90 508.3 995.2)" dy="0.35em">10<tspan dy="-6" font-size="10">3</tspan></text>
<text x="508.3" y="1073.9" font-size="16" class="s" text-anchor="middle" fill="#3a3a3a" transform="rotate(-90 508.3 1073.9)" dy="0.35em">10<tspan dy="-6" font-size="10">2</tspan></text>
<text x="691" y="1170.1" font-size="17" class="s" text-anchor="middle" fill="#3a3a3a" transform="translate(691 1170.1) scale(0.92 1) translate(-691 -1170.1)">CD44 PE-A</text>
<text x="487.6" y="961.9" font-size="16" class="s" text-anchor="middle" fill="#3a3a3a" transform="rotate(-90 487.6 961.9)" dy="0.35em">CD62L PC5.5-A</text>
<rect x="543.7" y="841.3" width="183.4" height="116.8" fill="none" stroke="#c25ec8" stroke-width="2"/>
<rect x="715.3" y="958.1" width="106.8" height="152" fill="none" stroke="#d2d25a" stroke-width="2"/>
<rect x="605" y="958.1" width="110.3" height="152" fill="none" stroke="#a8323e" stroke-width="2"/>
<text x="543.4" y="832.7" font-size="16.5" class="s" fill="#c25ec8">CD8+ naive T(1.47%)</text>
<text x="706.1" y="949.8" font-size="16.5" class="s" fill="#d2d25a">CD8+Tem(19.54%)</text>
<text x="579.6" y="1108.9" font-size="16.5" class="s" fill="#a8323e">CD8+Tae(65.66%)</text>
<g filter="url(#fD1b)"><rect x="155.8" y="1197.3" width="315.9" height="316.9" fill="#000" fill-opacity="0.001"/><ellipse cx="251.4" cy="1318.2" rx="94.2" ry="83.3" fill-opacity="0.01"/><ellipse cx="240.6" cy="1303.7" rx="50.7" ry="47.1" fill-opacity="0.025"/><ellipse cx="258.7" cy="1387" rx="29" ry="29" fill-opacity="0.07"/><ellipse cx="258.7" cy="1354.4" rx="27.2" ry="14.5" fill-opacity="0.22" transform="rotate(-15 258.7 1354.4)"/><ellipse cx="282.2" cy="1334.5" rx="47.1" ry="11.6" fill-opacity="0.28" transform="rotate(-35.5 282.2 1334.5)"/><ellipse cx="280.4" cy="1336.3" rx="23.6" ry="6.5" fill-opacity="0.45" transform="rotate(-38 280.4 1336.3)"/><ellipse cx="278.6" cy="1337" rx="12.7" ry="3.6" fill-opacity="0.4" transform="rotate(-38 278.6 1337)"/></g>
<path d="M233 1515.2v7M251 1515.2v4M261.5 1515.2v4M269 1515.2v4M274.8 1515.2v4M279.5 1515.2v4M283.5 1515.2v4M287 1515.2v4M290 1515.2v4M292.8 1515.2v7M310.5 1515.2v4M320.8 1515.2v4M328.2 1515.2v4M333.9 1515.2v4M338.5 1515.2v4M342.5 1515.2v4M345.9 1515.2v4M348.9 1515.2v4M351.6 1515.2v7M370 1515.2v4M380.7 1515.2v4M388.3 1515.2v4M394.2 1515.2v4M399.1 1515.2v4M403.2 1515.2v4M406.7 1515.2v4M409.8 1515.2v4M412.6 1515.2v7M430.4 1515.2v4M440.8 1515.2v4M448.2 1515.2v4M453.9 1515.2v4M458.6 1515.2v4M462.6 1515.2v4M466 1515.2v4M469 1515.2v4M471.7 1515.2v7M221.1 1515.2v4M209.1 1515.2v4M197.1 1515.2v4M185.2 1515.2v4M173.2 1515.2v4M161.3 1515.2v4M154.8 1456.2h-7M154.8 1440.7h-4M154.8 1431.6h-4M154.8 1425.1h-4M154.8 1420.1h-4M154.8 1416h-4M154.8 1412.5h-4M154.8 1409.5h-4M154.8 1406.9h-4M154.8 1404.5h-7M154.8 1388.6h-4M154.8 1379.3h-4M154.8 1372.7h-4M154.8 1367.5h-4M154.8 1363.3h-4M154.8 1359.8h-4M154.8 1356.7h-4M154.8 1354h-4M154.8 1351.6h-7M154.8 1336.3h-4M154.8 1327.4h-4M154.8 1321.1h-4M154.8 1316.2h-4M154.8 1312.1h-4M154.8 1308.8h-4M154.8 1305.8h-4M154.8 1303.2h-4M154.8 1300.9h-7M154.8 1284.1h-4M154.8 1274.3h-4M154.8 1267.3h-4M154.8 1261.9h-4M154.8 1257.5h-4M154.8 1253.7h-4M154.8 1250.5h-4M154.8 1247.6h-4M154.8 1245.1h-7M154.8 1228.5h-4M154.8 1218.8h-4M154.8 1211.9h-4M154.8 1206.5h-4M154.8 1202.2h-4M154.8 1198.5h-4M154.8 1189.9h-7M154.8 1466.5h-4M154.8 1476.9h-4M154.8 1487.2h-4M154.8 1497.5h-4M154.8 1507.9h-4" stroke="#333" stroke-width="1.6" fill="none"/>
<rect x="154.8" y="1196.3" width="317.9" height="318.9" fill="none" stroke="#3c3c3c" stroke-width="2.2"/>
<text x="177.1" y="1544.2" font-size="16" class="s" text-anchor="middle" fill="#3a3a3a" transform="translate(177.1 1544.2) scale(0.9 1) translate(-177.1 -1544.2)">0</text>
<text x="232" y="1544.2" font-size="16" class="s" text-anchor="middle" fill="#3a3a3a" transform="translate(232 1544.2) scale(0.9 1) translate(-232 -1544.2)">10<tspan dy="-6" font-size="10">2</tspan></text>
<text x="292.5" y="1544.2" font-size="16" class="s" text-anchor="middle" fill="#3a3a3a" transform="translate(292.5 1544.2) scale(0.9 1) translate(-292.5 -1544.2)">10<tspan dy="-6" font-size="10">3</tspan></text>
<text x="353.5" y="1544.2" font-size="16" class="s" text-anchor="middle" fill="#3a3a3a" transform="translate(353.5 1544.2) scale(0.9 1) translate(-353.5 -1544.2)">10<tspan dy="-6" font-size="10">4</tspan></text>
<text x="414.5" y="1544.2" font-size="16" class="s" text-anchor="middle" fill="#3a3a3a" transform="translate(414.5 1544.2) scale(0.9 1) translate(-414.5 -1544.2)">10<tspan dy="-6" font-size="10">5</tspan></text>
<text x="469.5" y="1544.2" font-size="16" class="s" text-anchor="middle" fill="#3a3a3a" transform="translate(469.5 1544.2) scale(0.9 1) translate(-469.5 -1544.2)">1ı</text>
<text x="133.8" y="1197.3" font-size="16" class="s" text-anchor="middle" fill="#3a3a3a" transform="rotate(-90 133.8 1197.3)" dy="0.35em">1C</text>
<text x="133.8" y="1245.1" font-size="16" class="s" text-anchor="middle" fill="#3a3a3a" transform="rotate(-90 133.8 1245.1)" dy="0.35em">10<tspan dy="-6" font-size="10">5</tspan></text>
<text x="133.8" y="1300.9" font-size="16" class="s" text-anchor="middle" fill="#3a3a3a" transform="rotate(-90 133.8 1300.9)" dy="0.35em">10<tspan dy="-6" font-size="10">4</tspan></text>
<text x="133.8" y="1351.6" font-size="16" class="s" text-anchor="middle" fill="#3a3a3a" transform="rotate(-90 133.8 1351.6)" dy="0.35em">10<tspan dy="-6" font-size="10">3</tspan></text>
<text x="133.8" y="1404.5" font-size="16" class="s" text-anchor="middle" fill="#3a3a3a" transform="rotate(-90 133.8 1404.5)" dy="0.35em">10<tspan dy="-6" font-size="10">2</tspan></text>
<text x="133.8" y="1456.2" font-size="16" class="s" text-anchor="middle" fill="#3a3a3a" transform="rotate(-90 133.8 1456.2)" dy="0.35em">10<tspan dy="-6" font-size="10">1</tspan></text>
<text x="133.8" y="1494.2" font-size="16" class="s" text-anchor="middle" fill="#3a3a3a" transform="rotate(-90 133.8 1494.2)" dy="0.35em">0</text>
<text x="313.8" y="1564.7" font-size="17" class="s" text-anchor="middle" fill="#3a3a3a" transform="translate(313.8 1564.7) scale(0.92 1) translate(-313.8 -1564.7)">CD4 FITC-A</text>
<text x="110.8" y="1356.8" font-size="15" class="s" text-anchor="middle" fill="#3a3a3a" transform="rotate(-90 110.8 1356.8) translate(110.8 1356.8) scale(1.2 1) translate(-110.8 -1356.8)" dy="0.35em">CD8 Violet660A</text>
<rect x="156.1" y="1230.4" width="133.8" height="135.2" fill="none" stroke="#a8323e" stroke-width="2"/>
<rect x="282.6" y="1369.1" width="146.2" height="141.9" fill="none" stroke="#a8a848" stroke-width="2"/>
<text x="157.7" y="1221.2" font-size="16.5" class="s" fill="#a8323e">CD8+(54.88%)</text>
<text x="288.6" y="1502.4" font-size="16.5" class="s" fill="#a8a848">CD4+(0.26%)</text>
<g filter="url(#fD2b)"><rect x="531" y="1198.8" width="315.9" height="315.4" fill="#000" fill-opacity="0.001"/><ellipse cx="675.4" cy="1416" rx="72.5" ry="65.2" fill-opacity="0.1"/><ellipse cx="675.4" cy="1412.4" rx="39.9" ry="36.2" fill-opacity="0.13"/><ellipse cx="679" cy="1412.4" rx="18.1" ry="16.3" fill-opacity="0.18"/><ellipse cx="744.2" cy="1390.7" rx="25.4" ry="29" fill-opacity="0.12"/><ellipse cx="566.7" cy="1397.9" rx="39.9" ry="47.1" fill-opacity="0.03"/><ellipse cx="657.2" cy="1332.7" rx="47.1" ry="29" fill-opacity="0.012"/></g>
<path d="M600.3 1515.2v7M623.3 1515.2v4M636.8 1515.2v4M646.4 1515.2v4M653.8 1515.2v4M659.9 1515.2v4M665 1515.2v4M669.4 1515.2v4M673.4 1515.2v4M676.9 1515.2v7M699.9 1515.2v4M713.4 1515.2v4M723 1515.2v4M730.4 1515.2v4M736.5 1515.2v4M741.6 1515.2v4M746.1 1515.2v4M750 1515.2v4M753.5 1515.2v7M776.8 1515.2v4M790.5 1515.2v4M800.2 1515.2v4M807.7 1515.2v4M813.8 1515.2v4M819 1515.2v4M823.5 1515.2v4M827.5 1515.2v4M831.1 1515.2v7M584.9 1515.2v4M569.6 1515.2v4M554.3 1515.2v4M539 1515.2v4M530 1468.5h-7M530 1444.8h-4M530 1431h-4M530 1421.2h-4M530 1413.5h-4M530 1407.3h-4M530 1402h-4M530 1397.5h-4M530 1393.4h-4M530 1389.8h-7M530 1365.8h-4M530 1351.8h-4M530 1341.9h-4M530 1334.1h-4M530 1327.8h-4M530 1322.5h-4M530 1317.9h-4M530 1313.8h-4M530 1310.2h-7M530 1287.4h-4M530 1274.1h-4M530 1264.7h-4M530 1257.4h-4M530 1251.4h-4M530 1246.3h-4M530 1241.9h-4M530 1238.1h-4M530 1234.6h-7M530 1211.9h-4M530 1198.6h-4M530 1484.3h-4M530 1500h-4" stroke="#333" stroke-width="1.6" fill="none"/>
<rect x="530" y="1197.8" width="317.9" height="317.4" fill="none" stroke="#3c3c3c" stroke-width="2.2"/>
<text x="558" y="1544.2" font-size="16" class="s" text-anchor="middle" fill="#3a3a3a" transform="translate(558 1544.2) scale(0.9 1) translate(-558 -1544.2)">0</text>
<text x="603.1" y="1544.2" font-size="16" class="s" text-anchor="middle" fill="#3a3a3a" transform="translate(603.1 1544.2) scale(0.9 1) translate(-603.1 -1544.2)">10<tspan dy="-6" font-size="10">3</tspan></text>
<text x="679.7" y="1544.2" font-size="16" class="s" text-anchor="middle" fill="#3a3a3a" transform="translate(679.7 1544.2) scale(0.9 1) translate(-679.7 -1544.2)">10<tspan dy="-6" font-size="10">4</tspan></text>
<text x="756.3" y="1544.2" font-size="16" class="s" text-anchor="middle" fill="#3a3a3a" transform="translate(756.3 1544.2) scale(0.9 1) translate(-756.3 -1544.2)">10<tspan dy="-6" font-size="10">5</tspan></text>
<text x="833.9" y="1544.2" font-size="16" class="s" text-anchor="middle" fill="#3a3a3a" transform="translate(833.9 1544.2) scale(0.9 1) translate(-833.9 -1544.2)">10<tspan dy="-6" font-size="10">6</tspan></text>
<text x="508.3" y="1234.6" font-size="16" class="s" text-anchor="middle" fill="#3a3a3a" transform="rotate(-90 508.3 1234.6)" dy="0.35em">10<tspan dy="-6" font-size="10">5</tspan></text>
<text x="508.3" y="1310.2" font-size="16" class="s" text-anchor="middle" fill="#3a3a3a" transform="rotate(-90 508.3 1310.2)" dy="0.35em">10<tspan dy="-6" font-size="10">4</tspan></text>
<text x="508.3" y="1389.8" font-size="16" class="s" text-anchor="middle" fill="#3a3a3a" transform="rotate(-90 508.3 1389.8)" dy="0.35em">10<tspan dy="-6" font-size="10">3</tspan></text>
<text x="508.3" y="1468.5" font-size="16" class="s" text-anchor="middle" fill="#3a3a3a" transform="rotate(-90 508.3 1468.5)" dy="0.35em">10<tspan dy="-6" font-size="10">2</tspan></text>
<text x="691" y="1564.7" font-size="17" class="s" text-anchor="middle" fill="#3a3a3a" transform="translate(691 1564.7) scale(0.92 1) translate(-691 -1564.7)">CD44 PE-A</text>
<text x="487.6" y="1356.5" font-size="16" class="s" text-anchor="middle" fill="#3a3a3a" transform="rotate(-90 487.6 1356.5)" dy="0.35em">CD62L PC5.5-A</text>
<rect x="543.7" y="1235.9" width="183.4" height="116.8" fill="none" stroke="#c25ec8" stroke-width="2"/>
<rect x="715.3" y="1352.7" width="106.8" height="152" fill="none" stroke="#d2d25a" stroke-width="2"/>
<rect x="605" y="1352.7" width="110.3" height="152" fill="none" stroke="#a8323e" stroke-width="2"/>
<text x="543.4" y="1227.3" font-size="16.5" class="s" fill="#c25ec8">CD8+ naive T(2.87%)</text>
<text x="706.1" y="1344.4" font-size="16.5" class="s" fill="#d2d25a">CD8+Tem(21.55%)</text>
<text x="579.6" y="1503.5" font-size="16.5" class="s" fill="#a8323e">CD8+Tae(67.40%)</text>
<g filter="url(#fE1)"><rect x="983" y="803.5" width="316.7" height="316.5" fill="#000" fill-opacity="0.001"/><ellipse cx="1059.1" cy="887.5" rx="84.1" ry="63.9" fill-opacity="0.05"/><ellipse cx="1235.7" cy="943" rx="67.3" ry="42.1" fill-opacity="0.004"/><ellipse cx="1025.5" cy="1052.3" rx="58.9" ry="75.7" fill-opacity="0.05"/><ellipse cx="1084.3" cy="899.2" rx="50.5" ry="38.7" fill-opacity="0.09"/><ellipse cx="1118" cy="943" rx="26.9" ry="25.2" fill-opacity="0.12"/><polygon points="982.6,941.3 1069.2,934.6 1109.6,916.1 1119.7,969.9 982.6,969.9" fill-opacity="0.3"/><ellipse cx="1151.6" cy="939.6" rx="35.3" ry="32" fill-opacity="0.3"/><polygon points="982.6,969.9 1112.9,969.9 1109.6,1052.3 1102.8,1119.6 1075.9,1119.6 1025.5,1052.3 982.6,1018.7" fill-opacity="0.14"/><polygon points="1045.6,969.9 1112.9,969.9 1109.6,1052.3 1102.8,1111.2 1082.7,1102.8 1059.1,1035.5" fill-opacity="0.22"/><polygon points="1069.2,958.1 1136.5,921.1 1112.9,974.9 1075.9,974.9" fill-opacity="0.32"/><ellipse cx="1097.8" cy="953.1" rx="26.9" ry="14.3" fill-opacity="0.45" transform="rotate(-30 1097.8 953.1)"/><ellipse cx="1106.2" cy="949.7" rx="11.8" ry="7.6" fill-opacity="0.8" transform="rotate(-30 1106.2 949.7)"/><ellipse cx="1092.7" cy="980" rx="13.5" ry="8.4" fill-opacity="0.2"/></g>
<path d="M1060.4 1121v7M1078.4 1121v4M1089 1121v4M1096.5 1121v4M1102.3 1121v4M1107 1121v4M1111 1121v4M1114.5 1121v4M1117.6 1121v4M1120.3 1121v7M1138.1 1121v4M1148.4 1121v4M1155.8 1121v4M1161.5 1121v4M1166.2 1121v4M1170.1 1121v4M1173.6 1121v4M1176.6 1121v4M1179.3 1121v7M1197.7 1121v4M1208.5 1121v4M1216.1 1121v4M1222 1121v4M1226.9 1121v4M1231 1121v4M1234.5 1121v4M1237.7 1121v4M1240.5 1121v7M1258.3 1121v4M1268.7 1121v4M1276.2 1121v4M1281.9 1121v4M1286.6 1121v4M1290.6 1121v4M1294 1121v4M1297 1121v4M1299.7 1121v7M1048.4 1121v4M1036.4 1121v4M1024.5 1121v4M1012.5 1121v4M1000.5 1121v4M988.5 1121v4M982 1062.1h-7M982 1046.5h-4M982 1037.5h-4M982 1031h-4M982 1026h-4M982 1021.9h-4M982 1018.5h-4M982 1015.5h-4M982 1012.8h-4M982 1010.5h-7M982 994.6h-4M982 985.3h-4M982 978.6h-4M982 973.5h-4M982 969.3h-4M982 965.8h-4M982 962.7h-4M982 960h-4M982 957.6h-7M982 942.4h-4M982 933.4h-4M982 927.1h-4M982 922.2h-4M982 918.2h-4M982 914.8h-4M982 911.9h-4M982 909.3h-4M982 907h-7M982 890.2h-4M982 880.4h-4M982 873.4h-4M982 868h-4M982 863.6h-4M982 859.9h-4M982 856.6h-4M982 853.8h-4M982 851.2h-7M982 834.6h-4M982 824.9h-4M982 818.1h-4M982 812.7h-4M982 808.4h-4M982 804.7h-4M982 796.1h-7M982 1072.4h-4M982 1082.7h-4M982 1093h-4M982 1103.4h-4M982 1113.7h-4" stroke="#333" stroke-width="1.6" fill="none"/>
<rect x="982" y="802.5" width="318.7" height="318.5" fill="none" stroke="#3c3c3c" stroke-width="2.2"/>
<text x="1004.3" y="1150" font-size="16" class="s" text-anchor="middle" fill="#3a3a3a" transform="translate(1004.3 1150) scale(0.9 1) translate(-1004.3 -1150)">0</text>
<text x="1059.4" y="1150" font-size="16" class="s" text-anchor="middle" fill="#3a3a3a" transform="translate(1059.4 1150) scale(0.9 1) translate(-1059.4 -1150)">10<tspan dy="-6" font-size="10">2</tspan></text>
<text x="1120" y="1150" font-size="16" class="s" text-anchor="middle" fill="#3a3a3a" transform="translate(1120 1150) scale(0.9 1) translate(-1120 -1150)">10<tspan dy="-6" font-size="10">3</tspan></text>
<text x="1181.2" y="1150" font-size="16" class="s" text-anchor="middle" fill="#3a3a3a" transform="translate(1181.2 1150) scale(0.9 1) translate(-1181.2 -1150)">10<tspan dy="-6" font-size="10">4</tspan></text>
<text x="1242.4" y="1150" font-size="16" class="s" text-anchor="middle" fill="#3a3a3a" transform="translate(1242.4 1150) scale(0.9 1) translate(-1242.4 -1150)">10<tspan dy="-6" font-size="10">5</tspan></text>
<text x="1297.5" y="1150" font-size="16" class="s" text-anchor="middle" fill="#3a3a3a" transform="translate(1297.5 1150) scale(0.9 1) translate(-1297.5 -1150)">1ı</text>
<text x="961" y="803.5" font-size="16" class="s" text-anchor="middle" fill="#3a3a3a" transform="rotate(-90 961 803.5)" dy="0.35em">1C</text>
<text x="961" y="851.2" font-size="16" class="s" text-anchor="middle" fill="#3a3a3a" transform="rotate(-90 961 851.2)" dy="0.35em">10<tspan dy="-6" font-size="10">5</tspan></text>
<text x="961" y="907" font-size="16" class="s" text-anchor="middle" fill="#3a3a3a" transform="rotate(-90 961 907)" dy="0.35em">10<tspan dy="-6" font-size="10">4</tspan></text>
<text x="961" y="957.6" font-size="16" class="s" text-anchor="middle" fill="#3a3a3a" transform="rotate(-90 961 957.6)" dy="0.35em">10<tspan dy="-6" font-size="10">3</tspan></text>
<text x="961" y="1010.5" font-size="16" class="s" text-anchor="middle" fill="#3a3a3a" transform="rotate(-90 961 1010.5)" dy="0.35em">10<tspan dy="-6" font-size="10">2</tspan></text>
<text x="961" y="1062.1" font-size="16" class="s" text-anchor="middle" fill="#3a3a3a" transform="rotate(-90 961 1062.1)" dy="0.35em">10<tspan dy="-6" font-size="10">1</tspan></text>
<text x="961" y="1100" font-size="16" class="s" text-anchor="middle" fill="#3a3a3a" transform="rotate(-90 961 1100)" dy="0.35em">0</text>
<text x="1141.3" y="1170.5" font-size="17" class="s" text-anchor="middle" fill="#3a3a3a" transform="translate(1141.3 1170.5) scale(0.92 1) translate(-1141.3 -1170.5)">CD4 FITC-A</text>
<text x="938" y="962.8" font-size="15" class="s" text-anchor="middle" fill="#3a3a3a" transform="rotate(-90 938 962.8) translate(938 962.8) scale(1.2 1) translate(-938 -962.8)" dy="0.35em">CD8 Violet660A</text>
<rect x="983.3" y="836.6" width="134.2" height="135" fill="none" stroke="#a8323e" stroke-width="2"/>
<rect x="1110.1" y="975.1" width="146.6" height="141.7" fill="none" stroke="#a8a848" stroke-width="2"/>
<text x="984.9" y="827.3" font-size="16.5" class="s" fill="#a8323e">CD8+(59.06%)</text>
<text x="1116.2" y="1108.3" font-size="16.5" class="s" fill="#a8a848">CD4+(0.88%)</text>
<g filter="url(#fE2)"><rect x="1359.5" y="803.5" width="315.5" height="316.5" fill="#000" fill-opacity="0.001"/><ellipse cx="1523.2" cy="951.4" rx="87.5" ry="67.3" fill-opacity="0.02"/><ellipse cx="1514.8" cy="951.4" rx="63.9" ry="18.5" fill-opacity="0.055"/><polygon points="1358.4,959.8 1434.1,956.4 1434.1,1102.8 1358.4,1111.2" fill-opacity="0.09"/><ellipse cx="1506.4" cy="1102.8" rx="100.9" ry="18.5" fill-opacity="0.1"/><polygon points="1434.1,956.4 1543.4,954.8 1582.1,953.1 1603.9,961.5 1609,1018.7 1598.9,1069.1 1573.7,1089.3 1543.4,1084.3 1434.1,1084.3" fill-opacity="0.27"/><ellipse cx="1577" cy="993.4" rx="26.9" ry="40.4" fill-opacity="0.32"/><ellipse cx="1506.4" cy="1017" rx="50.5" ry="53.8" fill-opacity="0.22" transform="rotate(-20 1506.4 1017)"/><ellipse cx="1511.4" cy="1008.6" rx="32" ry="37" fill-opacity="0.38" transform="rotate(-20 1511.4 1008.6)"/><ellipse cx="1513.1" cy="1005.2" rx="13.5" ry="15.1" fill-opacity="0.75" transform="rotate(-20 1513.1 1005.2)"/></g>
<path d="M1428.7 1121v7M1451.7 1121v4M1465.2 1121v4M1474.7 1121v4M1482.2 1121v4M1488.2 1121v4M1493.3 1121v4M1497.8 1121v4M1501.7 1121v4M1505.2 1121v7M1528.2 1121v4M1541.7 1121v4M1551.3 1121v4M1558.7 1121v4M1564.7 1121v4M1569.8 1121v4M1574.3 1121v4M1578.2 1121v4M1581.7 1121v7M1605 1121v4M1618.7 1121v4M1628.3 1121v4M1635.9 1121v4M1642 1121v4M1647.2 1121v4M1651.7 1121v4M1655.6 1121v4M1659.2 1121v7M1413.4 1121v4M1398.1 1121v4M1382.8 1121v4M1367.5 1121v4M1358.5 1074.2h-7M1358.5 1050.4h-4M1358.5 1036.5h-4M1358.5 1026.6h-4M1358.5 1019h-4M1358.5 1012.7h-4M1358.5 1007.4h-4M1358.5 1002.8h-4M1358.5 998.8h-4M1358.5 995.2h-7M1358.5 971.1h-4M1358.5 957h-4M1358.5 947.1h-4M1358.5 939.3h-4M1358.5 933h-4M1358.5 927.6h-4M1358.5 923h-4M1358.5 918.9h-4M1358.5 915.2h-7M1358.5 892.4h-4M1358.5 879.1h-4M1358.5 869.6h-4M1358.5 862.3h-4M1358.5 856.3h-4M1358.5 851.2h-4M1358.5 846.8h-4M1358.5 842.9h-4M1358.5 839.4h-7M1358.5 816.6h-4M1358.5 803.3h-4M1358.5 1090h-4M1358.5 1105.8h-4" stroke="#333" stroke-width="1.6" fill="none"/>
<rect x="1358.5" y="802.5" width="317.5" height="318.5" fill="none" stroke="#3c3c3c" stroke-width="2.2"/>
<text x="1386.4" y="1150" font-size="16" class="s" text-anchor="middle" fill="#3a3a3a" transform="translate(1386.4 1150) scale(0.9 1) translate(-1386.4 -1150)">0</text>
<text x="1431.5" y="1150" font-size="16" class="s" text-anchor="middle" fill="#3a3a3a" transform="translate(1431.5 1150) scale(0.9 1) translate(-1431.5 -1150)">10<tspan dy="-6" font-size="10">3</tspan></text>
<text x="1508" y="1150" font-size="16" class="s" text-anchor="middle" fill="#3a3a3a" transform="translate(1508 1150) scale(0.9 1) translate(-1508 -1150)">10<tspan dy="-6" font-size="10">4</tspan></text>
<text x="1584.6" y="1150" font-size="16" class="s" text-anchor="middle" fill="#3a3a3a" transform="translate(1584.6 1150) scale(0.9 1) translate(-1584.6 -1150)">10<tspan dy="-6" font-size="10">5</tspan></text>
<text x="1662" y="1150" font-size="16" class="s" text-anchor="middle" fill="#3a3a3a" transform="translate(1662 1150) scale(0.9 1) translate(-1662 -1150)">10<tspan dy="-6" font-size="10">6</tspan></text>
<text x="1336.8" y="839.4" font-size="16" class="s" text-anchor="middle" fill="#3a3a3a" transform="rotate(-90 1336.8 839.4)" dy="0.35em">10<tspan dy="-6" font-size="10">5</tspan></text>
<text x="1336.8" y="915.2" font-size="16" class="s" text-anchor="middle" fill="#3a3a3a" transform="rotate(-90 1336.8 915.2)" dy="0.35em">10<tspan dy="-6" font-size="10">4</tspan></text>
<text x="1336.8" y="995.2" font-size="16" class="s" text-anchor="middle" fill="#3a3a3a" transform="rotate(-90 1336.8 995.2)" dy="0.35em">10<tspan dy="-6" font-size="10">3</tspan></text>
<text x="1336.8" y="1074.2" font-size="16" class="s" text-anchor="middle" fill="#3a3a3a" transform="rotate(-90 1336.8 1074.2)" dy="0.35em">10<tspan dy="-6" font-size="10">2</tspan></text>
<text x="1519.2" y="1170.5" font-size="17" class="s" text-anchor="middle" fill="#3a3a3a" transform="translate(1519.2 1170.5) scale(0.92 1) translate(-1519.2 -1170.5)">CD44 PE-A</text>
<text x="1316.1" y="961.8" font-size="16" class="s" text-anchor="middle" fill="#3a3a3a" transform="rotate(-90 1316.1 961.8)" dy="0.35em">CD62L PC5.5-A</text>
<rect x="1372.2" y="840.7" width="183.2" height="117.2" fill="none" stroke="#c25ec8" stroke-width="2"/>
<rect x="1543.6" y="957.9" width="106.7" height="152.6" fill="none" stroke="#d2d25a" stroke-width="2"/>
<rect x="1433.4" y="957.9" width="110.2" height="152.6" fill="none" stroke="#a8323e" stroke-width="2"/>
<text x="1371.8" y="832.1" font-size="16.5" class="s" fill="#c25ec8">CD8+ naive T(0.68%)</text>
<text x="1534.4" y="949.6" font-size="16.5" class="s" fill="#d2d25a">CD8+Tem(13.94%)</text>
<text x="1408" y="1109.2" font-size="16.5" class="s" fill="#a8323e">CD8+Tae(63.30%)</text>
<g filter="url(#fE1b)"><rect x="983" y="1198.1" width="316.7" height="316.5" fill="#000" fill-opacity="0.001"/><ellipse cx="1084.3" cy="1304.3" rx="75.7" ry="55.5" fill-opacity="0.035"/><ellipse cx="1235.7" cy="1338" rx="58.9" ry="33.6" fill-opacity="0.004"/><ellipse cx="1033.9" cy="1438.9" rx="55.5" ry="75.7" fill-opacity="0.04"/><polygon points="982.6,1343 1069.2,1336.3 1109.6,1311.1 1119.7,1366.6 982.6,1366.6" fill-opacity="0.2"/><polygon points="1017.1,1343 1069.2,1336.3 1109.6,1311.1 1119.7,1366.6 1017.1,1366.6" fill-opacity="0.12"/><ellipse cx="1151.6" cy="1339.7" rx="32" ry="30.3" fill-opacity="0.22"/><polygon points="982.6,1366.6 1112.9,1366.6 1109.6,1447.3 1102.8,1514.6 1075.9,1514.6 1025.5,1447.3 982.6,1413.7" fill-opacity="0.1"/><polygon points="1050.7,1366.6 1112.9,1366.6 1109.6,1438.9 1102.8,1481 1082.7,1464.1 1067.5,1413.7" fill-opacity="0.2"/><polygon points="1069.2,1354.8 1136.5,1317.8 1112.9,1371.6 1075.9,1371.6" fill-opacity="0.32"/><ellipse cx="1101.2" cy="1348.1" rx="21.9" ry="11.8" fill-opacity="0.45" transform="rotate(-30 1101.2 1348.1)"/><ellipse cx="1106.2" cy="1345.5" rx="9.3" ry="6.7" fill-opacity="0.8" transform="rotate(-30 1106.2 1345.5)"/><ellipse cx="1121.3" cy="1341.3" rx="25.2" ry="23.5" fill-opacity="0.22"/><ellipse cx="1092.7" cy="1375" rx="13.5" ry="8.4" fill-opacity="0.2"/></g>
<path d="M1060.4 1515.6v7M1078.4 1515.6v4M1089 1515.6v4M1096.5 1515.6v4M1102.3 1515.6v4M1107 1515.6v4M1111 1515.6v4M1114.5 1515.6v4M1117.6 1515.6v4M1120.3 1515.6v7M1138.1 1515.6v4M1148.4 1515.6v4M1155.8 1515.6v4M1161.5 1515.6v4M1166.2 1515.6v4M1170.1 1515.6v4M1173.6 1515.6v4M1176.6 1515.6v4M1179.3 1515.6v7M1197.7 1515.6v4M1208.5 1515.6v4M1216.1 1515.6v4M1222 1515.6v4M1226.9 1515.6v4M1231 1515.6v4M1234.5 1515.6v4M1237.7 1515.6v4M1240.5 1515.6v7M1258.3 1515.6v4M1268.7 1515.6v4M1276.2 1515.6v4M1281.9 1515.6v4M1286.6 1515.6v4M1290.6 1515.6v4M1294 1515.6v4M1297 1515.6v4M1299.7 1515.6v7M1048.4 1515.6v4M1036.4 1515.6v4M1024.5 1515.6v4M1012.5 1515.6v4M1000.5 1515.6v4M988.5 1515.6v4M982 1456.7h-7M982 1441.1h-4M982 1432.1h-4M982 1425.6h-4M982 1420.6h-4M982 1416.5h-4M982 1413.1h-4M982 1410.1h-4M982 1407.4h-4M982 1405.1h-7M982 1389.2h-4M982 1379.9h-4M982 1373.2h-4M982 1368.1h-4M982 1363.9h-4M982 1360.4h-4M982 1357.3h-4M982 1354.6h-4M982 1352.2h-7M982 1337h-4M982 1328h-4M982 1321.7h-4M982 1316.8h-4M982 1312.8h-4M982 1309.4h-4M982 1306.5h-4M982 1303.9h-4M982 1301.6h-7M982 1284.8h-4M982 1275h-4M982 1268h-4M982 1262.6h-4M982 1258.2h-4M982 1254.5h-4M982 1251.2h-4M982 1248.4h-4M982 1245.8h-7M982 1229.2h-4M982 1219.5h-4M982 1212.7h-4M982 1207.3h-4M982 1203h-4M982 1199.3h-4M982 1190.7h-7M982 1467h-4M982 1477.3h-4M982 1487.6h-4M982 1498h-4M982 1508.3h-4" stroke="#333" stroke-width="1.6" fill="none"/>
<rect x="982" y="1197.1" width="318.7" height="318.5" fill="none" stroke="#3c3c3c" stroke-width="2.2"/>
<text x="1004.3" y="1544.6" font-size="16" class="s" text-anchor="middle" fill="#3a3a3a" transform="translate(1004.3 1544.6) scale(0.9 1) translate(-1004.3 -1544.6)">0</text>
<text x="1059.4" y="1544.6" font-size="16" class="s" text-anchor="middle" fill="#3a3a3a" transform="translate(1059.4 1544.6) scale(0.9 1) translate(-1059.4 -1544.6)">10<tspan dy="-6" font-size="10">2</tspan></text>
<text x="1120" y="1544.6" font-size="16" class="s" text-anchor="middle" fill="#3a3a3a" transform="translate(1120 1544.6) scale(0.9 1) translate(-1120 -1544.6)">10<tspan dy="-6" font-size="10">3</tspan></text>
<text x="1181.2" y="1544.6" font-size="16" class="s" text-anchor="middle" fill="#3a3a3a" transform="translate(1181.2 1544.6) scale(0.9 1) translate(-1181.2 -1544.6)">10<tspan dy="-6" font-size="10">4</tspan></text>
<text x="1242.4" y="1544.6" font-size="16" class="s" text-anchor="middle" fill="#3a3a3a" transform="translate(1242.4 1544.6) scale(0.9 1) translate(-1242.4 -1544.6)">10<tspan dy="-6" font-size="10">5</tspan></text>
<text x="1297.5" y="1544.6" font-size="16" class="s" text-anchor="middle" fill="#3a3a3a" transform="translate(1297.5 1544.6) scale(0.9 1) translate(-1297.5 -1544.6)">1ı</text>
<text x="961" y="1198.1" font-size="16" class="s" text-anchor="middle" fill="#3a3a3a" transform="rotate(-90 961 1198.1)" dy="0.35em">1C</text>
<text x="961" y="1245.8" font-size="16" class="s" text-anchor="middle" fill="#3a3a3a" transform="rotate(-90 961 1245.8)" dy="0.35em">10<tspan dy="-6" font-size="10">5</tspan></text>
<text x="961" y="1301.6" font-size="16" class="s" text-anchor="middle" fill="#3a3a3a" transform="rotate(-90 961 1301.6)" dy="0.35em">10<tspan dy="-6" font-size="10">4</tspan></text>
<text x="961" y="1352.2" font-size="16" class="s" text-anchor="middle" fill="#3a3a3a" transform="rotate(-90 961 1352.2)" dy="0.35em">10<tspan dy="-6" font-size="10">3</tspan></text>
<text x="961" y="1405.1" font-size="16" class="s" text-anchor="middle" fill="#3a3a3a" transform="rotate(-90 961 1405.1)" dy="0.35em">10<tspan dy="-6" font-size="10">2</tspan></text>
<text x="961" y="1456.7" font-size="16" class="s" text-anchor="middle" fill="#3a3a3a" transform="rotate(-90 961 1456.7)" dy="0.35em">10<tspan dy="-6" font-size="10">1</tspan></text>
<text x="961" y="1494.6" font-size="16" class="s" text-anchor="middle" fill="#3a3a3a" transform="rotate(-90 961 1494.6)" dy="0.35em">0</text>
<text x="1141.3" y="1565.1" font-size="17" class="s" text-anchor="middle" fill="#3a3a3a" transform="translate(1141.3 1565.1) scale(0.92 1) translate(-1141.3 -1565.1)">CD4 FITC-A</text>
<text x="938" y="1357.3" font-size="15" class="s" text-anchor="middle" fill="#3a3a3a" transform="rotate(-90 938 1357.3) translate(938 1357.3) scale(1.2 1) translate(-938 -1357.3)" dy="0.35em">CD8 Violet660A</text>
<rect x="983.3" y="1231.2" width="134.2" height="135" fill="none" stroke="#a8323e" stroke-width="2"/>
<rect x="1110.1" y="1369.7" width="146.6" height="141.7" fill="none" stroke="#a8a848" stroke-width="2"/>
<text x="984.9" y="1221.9" font-size="16.5" class="s" fill="#a8323e">CD8+(61.13%)</text>
<text x="1116.2" y="1502.9" font-size="16.5" class="s" fill="#a8a848">CD4+(0.90%)</text>
<g filter="url(#fE2b)"><rect x="1359.5" y="1198.1" width="315.5" height="316.5" fill="#000" fill-opacity="0.001"/><ellipse cx="1498" cy="1354.8" rx="72.3" ry="55.5" fill-opacity="0.035"/><ellipse cx="1498" cy="1349.8" rx="58.9" ry="15.1" fill-opacity="0.06"/><polygon points="1358.4,1356.5 1434.1,1354.8 1434.1,1497.8 1358.4,1506.2" fill-opacity="0.14"/><ellipse cx="1514.8" cy="1427.1" rx="87.5" ry="77.4" fill-opacity="0.16"/><polygon points="1434.1,1354.8 1543.4,1353.1 1573.7,1363.2 1590.5,1396.9 1587.1,1447.3 1565.3,1481 1434.1,1481" fill-opacity="0.14"/><ellipse cx="1498" cy="1412" rx="47.1" ry="33.6" fill-opacity="0.28" transform="rotate(-10 1498 1412)"/><ellipse cx="1498" cy="1410.3" rx="18.5" ry="13.5" fill-opacity="0.45" transform="rotate(-10 1498 1410.3)"/><ellipse cx="1560.2" cy="1395.2" rx="26.9" ry="32" fill-opacity="0.3"/><ellipse cx="1561.1" cy="1393.5" rx="10.1" ry="11.8" fill-opacity="0.55"/></g>
<path d="M1428.7 1515.6v7M1451.7 1515.6v4M1465.2 1515.6v4M1474.7 1515.6v4M1482.2 1515.6v4M1488.2 1515.6v4M1493.3 1515.6v4M1497.8 1515.6v4M1501.7 1515.6v4M1505.2 1515.6v7M1528.2 1515.6v4M1541.7 1515.6v4M1551.3 1515.6v4M1558.7 1515.6v4M1564.7 1515.6v4M1569.8 1515.6v4M1574.3 1515.6v4M1578.2 1515.6v4M1581.7 1515.6v7M1605 1515.6v4M1618.7 1515.6v4M1628.3 1515.6v4M1635.9 1515.6v4M1642 1515.6v4M1647.2 1515.6v4M1651.7 1515.6v4M1655.6 1515.6v4M1659.2 1515.6v7M1413.4 1515.6v4M1398.1 1515.6v4M1382.8 1515.6v4M1367.5 1515.6v4M1358.5 1468.8h-7M1358.5 1445h-4M1358.5 1431.1h-4M1358.5 1421.2h-4M1358.5 1413.6h-4M1358.5 1407.3h-4M1358.5 1402h-4M1358.5 1397.4h-4M1358.5 1393.4h-4M1358.5 1389.8h-7M1358.5 1365.7h-4M1358.5 1351.6h-4M1358.5 1341.7h-4M1358.5 1333.9h-4M1358.5 1327.6h-4M1358.5 1322.2h-4M1358.5 1317.6h-4M1358.5 1313.5h-4M1358.5 1309.8h-7M1358.5 1287h-4M1358.5 1273.7h-4M1358.5 1264.2h-4M1358.5 1256.9h-4M1358.5 1250.9h-4M1358.5 1245.8h-4M1358.5 1241.4h-4M1358.5 1237.5h-4M1358.5 1234h-7M1358.5 1211.2h-4M1358.5 1197.9h-4M1358.5 1484.6h-4M1358.5 1500.4h-4" stroke="#333" stroke-width="1.6" fill="none"/>
<rect x="1358.5" y="1197.1" width="317.5" height="318.5" fill="none" stroke="#3c3c3c" stroke-width="2.2"/>
<text x="1386.4" y="1544.6" font-size="16" class="s" text-anchor="middle" fill="#3a3a3a" transform="translate(1386.4 1544.6) scale(0.9 1) translate(-1386.4 -1544.6)">0</text>
<text x="1431.5" y="1544.6" font-size="16" class="s" text-anchor="middle" fill="#3a3a3a" transform="translate(1431.5 1544.6) scale(0.9 1) translate(-1431.5 -1544.6)">10<tspan dy="-6" font-size="10">3</tspan></text>
<text x="1508" y="1544.6" font-size="16" class="s" text-anchor="middle" fill="#3a3a3a" transform="translate(1508 1544.6) scale(0.9 1) translate(-1508 -1544.6)">10<tspan dy="-6" font-size="10">4</tspan></text>
<text x="1584.6" y="1544.6" font-size="16" class="s" text-anchor="middle" fill="#3a3a3a" transform="translate(1584.6 1544.6) scale(0.9 1) translate(-1584.6 -1544.6)">10<tspan dy="-6" font-size="10">5</tspan></text>
<text x="1662" y="1544.6" font-size="16" class="s" text-anchor="middle" fill="#3a3a3a" transform="translate(1662 1544.6) scale(0.9 1) translate(-1662 -1544.6)">10<tspan dy="-6" font-size="10">6</tspan></text>
<text x="1336.8" y="1234" font-size="16" class="s" text-anchor="middle" fill="#3a3a3a" transform="rotate(-90 1336.8 1234)" dy="0.35em">10<tspan dy="-6" font-size="10">5</tspan></text>
<text x="1336.8" y="1309.8" font-size="16" class="s" text-anchor="middle" fill="#3a3a3a" transform="rotate(-90 1336.8 1309.8)" dy="0.35em">10<tspan dy="-6" font-size="10">4</tspan></text>
<text x="1336.8" y="1389.8" font-size="16" class="s" text-anchor="middle" fill="#3a3a3a" transform="rotate(-90 1336.8 1389.8)" dy="0.35em">10<tspan dy="-6" font-size="10">3</tspan></text>
<text x="1336.8" y="1468.8" font-size="16" class="s" text-anchor="middle" fill="#3a3a3a" transform="rotate(-90 1336.8 1468.8)" dy="0.35em">10<tspan dy="-6" font-size="10">2</tspan></text>
<text x="1519.2" y="1565.1" font-size="17" class="s" text-anchor="middle" fill="#3a3a3a" transform="translate(1519.2 1565.1) scale(0.92 1) translate(-1519.2 -1565.1)">CD44 PE-A</text>
<text x="1316.1" y="1356.3" font-size="16" class="s" text-anchor="middle" fill="#3a3a3a" transform="rotate(-90 1316.1 1356.3)" dy="0.35em">CD62L PC5.5-A</text>
<rect x="1372.2" y="1235.3" width="183.2" height="117.2" fill="none" stroke="#c25ec8" stroke-width="2"/>
<rect x="1543.6" y="1352.5" width="106.7" height="152.6" fill="none" stroke="#d2d25a" stroke-width="2"/>
<rect x="1433.4" y="1352.5" width="110.2" height="152.6" fill="none" stroke="#a8323e" stroke-width="2"/>
<text x="1371.8" y="1226.7" font-size="16.5" class="s" fill="#c25ec8">CD8+ naive T(0.69%)</text>
<text x="1534.4" y="1344.2" font-size="16.5" class="s" fill="#d2d25a">CD8+Tem(17.67%)</text>
<text x="1408" y="1503.8" font-size="16.5" class="s" fill="#a8323e">CD8+Tae(44.27%)</text>
<path d="M216.4 851.4V788.7H564.2V864.7" stroke="#f9b24e" stroke-width="2.6" fill="none"/>
<path d="M564.2 888.7l-12.8 -25.8h25.6z" fill="#f9b24e"/>
<line x1="394" y1="1026" x2="597" y2="1026" stroke="#f2795a" stroke-width="2.6"/>
<path d="M621 1026l-25.5 -12.4v24.8z" fill="#f2795a"/>
<path d="M1045.4 850V786.2H1393.4V864.7" stroke="#f9b24e" stroke-width="2.6" fill="none"/>
<path d="M1393.4 888.7l-12.8 -25.8h25.6z" fill="#f9b24e"/>
<line x1="1223.4" y1="1027" x2="1426.7" y2="1027" stroke="#f2795a" stroke-width="2.6"/>
<path d="M1450.7 1027l-25.5 -12.4v24.8z" fill="#f2795a"/>
<path d="M216.4 1246V1179.8H564.2V1259.3" stroke="#f9b24e" stroke-width="2.6" fill="none"/>
<path d="M564.2 1283.3l-12.8 -25.8h25.6z" fill="#f9b24e"/>
<line x1="394" y1="1420.6" x2="597" y2="1420.6" stroke="#f2795a" stroke-width="2.6"/>
<path d="M621 1420.6l-25.5 -12.4v24.8z" fill="#f2795a"/>
<path d="M1045.4 1244.6V1177.3H1393.4V1259.3" stroke="#f9b24e" stroke-width="2.6" fill="none"/>
<path d="M1393.4 1283.3l-12.8 -25.8h25.6z" fill="#f9b24e"/>
<line x1="1223.4" y1="1421.6" x2="1426.7" y2="1421.6" stroke="#f2795a" stroke-width="2.6"/>
<path d="M1450.7 1421.6l-25.5 -12.4v24.8z" fill="#f2795a"/>
<text x="81.5" y="961" font-size="36" class="r" text-anchor="middle" transform="rotate(-90 81.5 961)" dy="0.35em">Tβ15 OX</text>
<text x="81.5" y="1356" font-size="36" class="r" text-anchor="middle" transform="rotate(-90 81.5 1356) translate(81.5 1356) scale(1.08 1) translate(-81.5 -1356)" dy="0.35em">Tβ15 sh</text>
<text x="32" y="1143" font-size="38" class="r" text-anchor="middle" transform="rotate(-90 32 1143)" dy="0.35em">Spleen</text>
<line x1="52" y1="935" x2="52" y2="1373" stroke="#111" stroke-width="2.5"/>
<text x="906.6" y="961" font-size="36" class="r" text-anchor="middle" transform="rotate(-90 906.6 961)" dy="0.35em">Tβ15 OX</text>
<text x="906.6" y="1356" font-size="36" class="r" text-anchor="middle" transform="rotate(-90 906.6 1356) translate(906.6 1356) scale(1.08 1) translate(-906.6 -1356)" dy="0.35em">Tβ15 sh</text>
<text x="46" y="1666" font-size="37.5" class="s" transform="translate(46 1666) scale(0.88 1) translate(-46 -1666)">F</text>
<text x="705" y="1689" font-size="37" class="r" text-anchor="middle">Day 7</text>
<line x1="410" y1="1694" x2="1004.6" y2="1694" stroke="#111" stroke-width="2.5"/>
<g filter="url(#fF1)"><rect x="185.2" y="1722.7" width="315.4" height="315.8" fill="#000" fill-opacity="0.001"/><ellipse cx="306" cy="1876" rx="134.6" ry="124.2" fill-opacity="0.004"/><ellipse cx="316.3" cy="1844.9" rx="62.1" ry="51.8" fill-opacity="0.018" transform="rotate(-30 316.3 1844.9)"/><ellipse cx="250.1" cy="1938.1" rx="41.4" ry="78.7" fill-opacity="0.045"/><ellipse cx="254.2" cy="1915.3" rx="39.3" ry="35.2" fill-opacity="0.2"/><ellipse cx="254.2" cy="1896.7" rx="26.9" ry="12.4" fill-opacity="0.15" transform="rotate(-10 254.2 1896.7)"/><ellipse cx="303.9" cy="1865.6" rx="82.8" ry="14.9" fill-opacity="0.3" transform="rotate(-25 303.9 1865.6)"/><ellipse cx="299.8" cy="1878.1" rx="35.2" ry="9.3" fill-opacity="0.5" transform="rotate(-25 299.8 1878.1)"/><ellipse cx="295.6" cy="1880.1" rx="18.6" ry="5.8" fill-opacity="0.8" transform="rotate(-25 295.6 1880.1)"/></g>
<path d="M244.8 2039.5v7M269.2 2039.5v4M283.4 2039.5v4M293.6 2039.5v4M301.4 2039.5v4M307.8 2039.5v4M313.2 2039.5v4M317.9 2039.5v4M322.1 2039.5v4M325.8 2039.5v7M349.4 2039.5v4M363.2 2039.5v4M373 2039.5v4M380.6 2039.5v4M386.8 2039.5v4M392 2039.5v4M396.6 2039.5v4M400.6 2039.5v4M404.2 2039.5v7M428.2 2039.5v4M442.3 2039.5v4M452.3 2039.5v4M460.1 2039.5v4M466.4 2039.5v4M471.8 2039.5v4M476.4 2039.5v4M480.5 2039.5v4M484.1 2039.5v7M228.6 2039.5v4M212.4 2039.5v4M196.3 2039.5v4M184.2 1987.7h-7M184.2 1973.3h-4M184.2 1965h-4M184.2 1959h-4M184.2 1954.4h-4M184.2 1950.6h-4M184.2 1947.4h-4M184.2 1944.6h-4M184.2 1942.2h-4M184.2 1940h-7M184.2 1925.1h-4M184.2 1916.4h-4M184.2 1910.2h-4M184.2 1905.4h-4M184.2 1901.5h-4M184.2 1898.1h-4M184.2 1895.3h-4M184.2 1892.7h-4M184.2 1890.5h-7M184.2 1875.5h-4M184.2 1866.8h-4M184.2 1860.6h-4M184.2 1855.8h-4M184.2 1851.9h-4M184.2 1848.6h-4M184.2 1845.7h-4M184.2 1843.1h-4M184.2 1840.9h-7M184.2 1826.5h-4M184.2 1818.1h-4M184.2 1812.2h-4M184.2 1807.6h-4M184.2 1803.8h-4M184.2 1800.6h-4M184.2 1797.8h-4M184.2 1795.4h-4M184.2 1793.2h-7M184.2 1778.3h-4M184.2 1769.6h-4M184.2 1763.4h-4M184.2 1758.6h-4M184.2 1754.6h-4M184.2 1751.3h-4M184.2 1748.4h-4M184.2 1745.9h-4M184.2 1743.6h-7M184.2 1728.7h-4M184.2 1997.2h-4M184.2 2006.8h-4M184.2 2016.3h-4M184.2 2025.8h-4M184.2 2035.4h-4" stroke="#333" stroke-width="1.6" fill="none"/>
<rect x="184.2" y="1721.7" width="317.4" height="317.8" fill="none" stroke="#3c3c3c" stroke-width="2.2"/>
<text x="247.7" y="2068.5" font-size="15" class="s" text-anchor="middle" fill="#3a3a3a" transform="translate(247.7 2068.5) scale(0.9 1) translate(-247.7 -2068.5)">10<tspan dy="-6" font-size="10">3</tspan></text>
<text x="328.6" y="2068.5" font-size="15" class="s" text-anchor="middle" fill="#3a3a3a" transform="translate(328.6 2068.5) scale(0.9 1) translate(-328.6 -2068.5)">10<tspan dy="-6" font-size="10">4</tspan></text>
<text x="407" y="2068.5" font-size="15" class="s" text-anchor="middle" fill="#3a3a3a" transform="translate(407 2068.5) scale(0.9 1) translate(-407 -2068.5)">10<tspan dy="-6" font-size="10">5</tspan></text>
<text x="487" y="2068.5" font-size="15" class="s" text-anchor="middle" fill="#3a3a3a" transform="translate(487 2068.5) scale(0.9 1) translate(-487 -2068.5)">10<tspan dy="-6" font-size="10">6</tspan></text>
<text x="164.2" y="1743.6" font-size="15" class="s" text-anchor="middle" fill="#3a3a3a" transform="rotate(-90 164.2 1743.6)" dy="0.35em">10<tspan dy="-6" font-size="10">6</tspan></text>
<text x="164.2" y="1793.2" font-size="15" class="s" text-anchor="middle" fill="#3a3a3a" transform="rotate(-90 164.2 1793.2)" dy="0.35em">10<tspan dy="-6" font-size="10">5</tspan></text>
<text x="164.2" y="1840.9" font-size="15" class="s" text-anchor="middle" fill="#3a3a3a" transform="rotate(-90 164.2 1840.9)" dy="0.35em">10<tspan dy="-6" font-size="10">4</tspan></text>
<text x="164.2" y="1890.5" font-size="15" class="s" text-anchor="middle" fill="#3a3a3a" transform="rotate(-90 164.2 1890.5)" dy="0.35em">10<tspan dy="-6" font-size="10">3</tspan></text>
<text x="164.2" y="1940" font-size="15" class="s" text-anchor="middle" fill="#3a3a3a" transform="rotate(-90 164.2 1940)" dy="0.35em">10<tspan dy="-6" font-size="10">2</tspan></text>
<text x="164.2" y="1987.7" font-size="15" class="s" text-anchor="middle" fill="#3a3a3a" transform="rotate(-90 164.2 1987.7)" dy="0.35em">10<tspan dy="-6" font-size="10">1</tspan></text>
<text x="164.2" y="2018.8" font-size="15" class="s" text-anchor="middle" fill="#3a3a3a" transform="rotate(-90 164.2 2018.8)" dy="0.35em">0</text>
<text x="343.9" y="2087" font-size="17" class="s" text-anchor="middle" fill="#3a3a3a" transform="translate(343.9 2087) scale(0.92 1) translate(-343.9 -2087)">CD4 FITC-A</text>
<text x="141.2" y="1880.6" font-size="16" class="s" text-anchor="middle" fill="#3a3a3a" transform="rotate(-90 141.2 1880.6)" dy="0.35em">CD8 Violet660-A</text>
<rect x="185.5" y="1742" width="84.7" height="161.1" fill="none" stroke="#4e8a5e" stroke-width="2"/>
<rect x="269.3" y="1899.4" width="186.9" height="136" fill="none" stroke="#c456d8" stroke-width="2"/>
<text x="186.4" y="1738.2" font-size="16.5" class="s" fill="#4e8a5e">CD8+(8.82%)</text>
<text x="454" y="2030.9" font-size="16.5" class="s" text-anchor="end" fill="#c456d8">CD4+(7.39%)</text>
<g filter="url(#fF2)"><rect x="567.3" y="1722.7" width="313.7" height="315.8" fill="#000" fill-opacity="0.001"/><ellipse cx="727.7" cy="1923.6" rx="47.6" ry="82.8" fill-opacity="0.09"/><ellipse cx="731.9" cy="1907" rx="31.1" ry="47.6" fill-opacity="0.12"/><ellipse cx="769.2" cy="1896.7" rx="16.6" ry="33.1" fill-opacity="0.05"/><ellipse cx="634.6" cy="1917.4" rx="33.1" ry="45.5" fill-opacity="0.006"/></g>
<path d="M685 2039.5v7M711.5 2039.5v4M727 2039.5v4M738 2039.5v4M746.6 2039.5v4M753.5 2039.5v4M759.4 2039.5v4M764.5 2039.5v4M769.1 2039.5v4M773.1 2039.5v7M799.8 2039.5v4M815.4 2039.5v4M826.5 2039.5v4M835.1 2039.5v4M842.1 2039.5v4M848.1 2039.5v4M853.2 2039.5v4M857.7 2039.5v4M861.8 2039.5v7M667.4 2039.5v4M649.8 2039.5v4M632.2 2039.5v4M614.5 2039.5v4M596.9 2039.5v4M579.3 2039.5v4M566.3 1975.9h-7M566.3 1952h-4M566.3 1938h-4M566.3 1928.1h-4M566.3 1920.4h-4M566.3 1914.1h-4M566.3 1908.8h-4M566.3 1904.2h-4M566.3 1900.1h-4M566.3 1896.5h-7M566.3 1872.2h-4M566.3 1858h-4M566.3 1847.9h-4M566.3 1840.1h-4M566.3 1833.7h-4M566.3 1828.3h-4M566.3 1823.6h-4M566.3 1819.5h-4M566.3 1815.8h-7M566.3 1792.2h-4M566.3 1778.5h-4M566.3 1768.7h-4M566.3 1761.1h-4M566.3 1754.9h-4M566.3 1749.7h-4M566.3 1745.2h-4M566.3 1741.2h-4M566.3 1737.6h-7M566.3 1991.8h-4M566.3 2007.7h-4M566.3 2023.6h-4" stroke="#333" stroke-width="1.6" fill="none"/>
<rect x="566.3" y="1721.7" width="315.7" height="317.8" fill="none" stroke="#3c3c3c" stroke-width="2.2"/>
<text x="598.5" y="2067.5" font-size="15" class="s" text-anchor="middle" fill="#3a3a3a" transform="translate(598.5 2067.5) scale(0.9 1) translate(-598.5 -2067.5)">0</text>
<text x="687.8" y="2067.5" font-size="15" class="s" text-anchor="middle" fill="#3a3a3a" transform="translate(687.8 2067.5) scale(0.9 1) translate(-687.8 -2067.5)">10<tspan dy="-6" font-size="10">4</tspan></text>
<text x="775.9" y="2067.5" font-size="15" class="s" text-anchor="middle" fill="#3a3a3a" transform="translate(775.9 2067.5) scale(0.9 1) translate(-775.9 -2067.5)">10<tspan dy="-6" font-size="10">5</tspan></text>
<text x="864.6" y="2067.5" font-size="15" class="s" text-anchor="middle" fill="#3a3a3a" transform="translate(864.6 2067.5) scale(0.9 1) translate(-864.6 -2067.5)">10<tspan dy="-6" font-size="10">6</tspan></text>
<text x="544.5" y="1737.6" font-size="15" class="s" text-anchor="middle" fill="#3a3a3a" transform="rotate(-90 544.5 1737.6)" dy="0.35em">10<tspan dy="-6" font-size="10">5</tspan></text>
<text x="544.5" y="1815.8" font-size="15" class="s" text-anchor="middle" fill="#3a3a3a" transform="rotate(-90 544.5 1815.8)" dy="0.35em">10<tspan dy="-6" font-size="10">4</tspan></text>
<text x="544.5" y="1896.5" font-size="15" class="s" text-anchor="middle" fill="#3a3a3a" transform="rotate(-90 544.5 1896.5)" dy="0.35em">10<tspan dy="-6" font-size="10">3</tspan></text>
<text x="544.5" y="1975.9" font-size="15" class="s" text-anchor="middle" fill="#3a3a3a" transform="rotate(-90 544.5 1975.9)" dy="0.35em">10<tspan dy="-6" font-size="10">2</tspan></text>
<text x="727.1" y="2086.5" font-size="17" class="s" text-anchor="middle" fill="#3a3a3a" transform="translate(727.1 2086.5) scale(0.92 1) translate(-727.1 -2086.5)">CD44 PE-A</text>
<text x="523.3" y="1880.6" font-size="16" class="s" text-anchor="middle" fill="#3a3a3a" transform="rotate(-90 523.3 1880.6)" dy="0.35em">CD62L PC5.5-A</text>
<rect x="582.1" y="1756" width="181.5" height="103" fill="none" stroke="#c25ec8" stroke-width="2"/>
<rect x="762.7" y="1863.1" width="87.4" height="164.9" fill="none" stroke="#e4ac58" stroke-width="2"/>
<rect x="654.4" y="1863.1" width="108.3" height="164.9" fill="none" stroke="#b53a3a" stroke-width="2"/>
<text x="582.7" y="1745.9" font-size="16.5" class="s" fill="#c25ec8">CD4+ naive T(0.53%)</text>
<text x="881.4" y="1853.9" font-size="16.5" class="s" text-anchor="end" fill="#e4ac58">CD4+Tae(7.51%)</text>
<text x="763.9" y="2017.9" font-size="16.5" class="s" text-anchor="end" fill="#b53a3a">CD4+Tem(54.42%)</text>
<g filter="url(#fF3)"><rect x="941" y="1722.7" width="313.8" height="315.8" fill="#000" fill-opacity="0.001"/><ellipse cx="1093.3" cy="1917.4" rx="55.9" ry="87" fill-opacity="0.12"/><ellipse cx="1091.2" cy="1896.7" rx="35.2" ry="49.7" fill-opacity="0.15"/><ellipse cx="983.5" cy="1927.7" rx="41.4" ry="45.5" fill-opacity="0.01"/></g>
<path d="M1058.7 2039.5v7M1085.3 2039.5v4M1100.8 2039.5v4M1111.8 2039.5v4M1120.3 2039.5v4M1127.3 2039.5v4M1133.2 2039.5v4M1138.3 2039.5v4M1142.8 2039.5v4M1146.8 2039.5v7M1173.6 2039.5v4M1189.2 2039.5v4M1200.3 2039.5v4M1208.9 2039.5v4M1215.9 2039.5v4M1221.8 2039.5v4M1227 2039.5v4M1231.5 2039.5v4M1235.6 2039.5v7M1041.1 2039.5v4M1023.5 2039.5v4M1005.9 2039.5v4M988.3 2039.5v4M970.6 2039.5v4M953 2039.5v4M940 1975.9h-7M940 1952h-4M940 1938h-4M940 1928.1h-4M940 1920.4h-4M940 1914.1h-4M940 1908.8h-4M940 1904.2h-4M940 1900.1h-4M940 1896.5h-7M940 1872.2h-4M940 1858h-4M940 1847.9h-4M940 1840.1h-4M940 1833.7h-4M940 1828.3h-4M940 1823.6h-4M940 1819.5h-4M940 1815.8h-7M940 1792.2h-4M940 1778.5h-4M940 1768.7h-4M940 1761.1h-4M940 1754.9h-4M940 1749.7h-4M940 1745.2h-4M940 1741.2h-4M940 1737.6h-7M940 1991.8h-4M940 2007.7h-4M940 2023.6h-4" stroke="#333" stroke-width="1.6" fill="none"/>
<rect x="940" y="1721.7" width="315.8" height="317.8" fill="none" stroke="#3c3c3c" stroke-width="2.2"/>
<text x="972.2" y="2067.5" font-size="15" class="s" text-anchor="middle" fill="#3a3a3a" transform="translate(972.2 2067.5) scale(0.9 1) translate(-972.2 -2067.5)">0</text>
<text x="1061.6" y="2067.5" font-size="15" class="s" text-anchor="middle" fill="#3a3a3a" transform="translate(1061.6 2067.5) scale(0.9 1) translate(-1061.6 -2067.5)">10<tspan dy="-6" font-size="10">4</tspan></text>
<text x="1149.7" y="2067.5" font-size="15" class="s" text-anchor="middle" fill="#3a3a3a" transform="translate(1149.7 2067.5) scale(0.9 1) translate(-1149.7 -2067.5)">10<tspan dy="-6" font-size="10">5</tspan></text>
<text x="1238.4" y="2067.5" font-size="15" class="s" text-anchor="middle" fill="#3a3a3a" transform="translate(1238.4 2067.5) scale(0.9 1) translate(-1238.4 -2067.5)">10<tspan dy="-6" font-size="10">6</tspan></text>
<text x="918.2" y="1737.6" font-size="15" class="s" text-anchor="middle" fill="#3a3a3a" transform="rotate(-90 918.2 1737.6)" dy="0.35em">10<tspan dy="-6" font-size="10">5</tspan></text>
<text x="918.2" y="1815.8" font-size="15" class="s" text-anchor="middle" fill="#3a3a3a" transform="rotate(-90 918.2 1815.8)" dy="0.35em">10<tspan dy="-6" font-size="10">4</tspan></text>
<text x="918.2" y="1896.5" font-size="15" class="s" text-anchor="middle" fill="#3a3a3a" transform="rotate(-90 918.2 1896.5)" dy="0.35em">10<tspan dy="-6" font-size="10">3</tspan></text>
<text x="918.2" y="1975.9" font-size="15" class="s" text-anchor="middle" fill="#3a3a3a" transform="rotate(-90 918.2 1975.9)" dy="0.35em">10<tspan dy="-6" font-size="10">2</tspan></text>
<text x="1100.9" y="2086.5" font-size="17" class="s" text-anchor="middle" fill="#3a3a3a" transform="translate(1100.9 2086.5) scale(0.92 1) translate(-1100.9 -2086.5)">CD44 PE-A</text>
<text x="897" y="1880.6" font-size="16" class="s" text-anchor="middle" fill="#3a3a3a" transform="rotate(-90 897 1880.6)" dy="0.35em">CD62L PC5.5-A</text>
<rect x="955.8" y="1756" width="181.6" height="103" fill="none" stroke="#c25ec8" stroke-width="2"/>
<rect x="1136.4" y="1863.1" width="87.5" height="164.9" fill="none" stroke="#e4ac58" stroke-width="2"/>
<rect x="1028.1" y="1863.1" width="108.3" height="164.9" fill="none" stroke="#b53a3a" stroke-width="2"/>
<text x="956.4" y="1745.9" font-size="16.5" class="s" fill="#c25ec8">CD8+ naive T(1.89%)</text>
<text x="1255.2" y="1853.9" font-size="16.5" class="s" text-anchor="end" fill="#e4ac58">CD8+Tae(4.16%)</text>
<text x="1137.7" y="2017.9" font-size="16.5" class="s" text-anchor="end" fill="#b53a3a">CD8+Tem(65.46%)</text>
<g filter="url(#fF1b)"><rect x="185.2" y="2101.7" width="315.4" height="315.8" fill="#000" fill-opacity="0.001"/><ellipse cx="326.7" cy="2224.9" rx="87" ry="70.4" fill-opacity="0.04" transform="rotate(-20 326.7 2224.9)"/><ellipse cx="388.8" cy="2235.3" rx="41.4" ry="31.1" fill-opacity="0.02"/><polygon points="184.2,2274.6 254.2,2272.5 274.9,2287 274.9,2338.8 254.2,2359.5 212.8,2349.2 184.2,2328.4" fill-opacity="0.3"/><polygon points="184.2,2328.4 212.8,2349.2 264.6,2359.5 274.9,2411.3 184.2,2415.4" fill-opacity="0.09"/><ellipse cx="314.3" cy="2243.6" rx="68.3" ry="14.5" fill-opacity="0.3" transform="rotate(-30 314.3 2243.6)"/><ellipse cx="287.3" cy="2264.3" rx="24.8" ry="9.3" fill-opacity="0.45" transform="rotate(-25 287.3 2264.3)"/><ellipse cx="258.4" cy="2282.9" rx="18.6" ry="10.4" fill-opacity="0.3"/><ellipse cx="291.5" cy="2262.2" rx="12.4" ry="4.6" fill-opacity="0.7" transform="rotate(-25 291.5 2262.2)"/></g>
<path d="M244.8 2418.5v7M269.2 2418.5v4M283.4 2418.5v4M293.6 2418.5v4M301.4 2418.5v4M307.8 2418.5v4M313.2 2418.5v4M317.9 2418.5v4M322.1 2418.5v4M325.8 2418.5v7M349.4 2418.5v4M363.2 2418.5v4M373 2418.5v4M380.6 2418.5v4M386.8 2418.5v4M392 2418.5v4M396.6 2418.5v4M400.6 2418.5v4M404.2 2418.5v7M428.2 2418.5v4M442.3 2418.5v4M452.3 2418.5v4M460.1 2418.5v4M466.4 2418.5v4M471.8 2418.5v4M476.4 2418.5v4M480.5 2418.5v4M484.1 2418.5v7M228.6 2418.5v4M212.4 2418.5v4M196.3 2418.5v4M184.2 2366.7h-7M184.2 2352.3h-4M184.2 2344h-4M184.2 2338h-4M184.2 2333.4h-4M184.2 2329.6h-4M184.2 2326.4h-4M184.2 2323.6h-4M184.2 2321.2h-4M184.2 2319h-7M184.2 2304.1h-4M184.2 2295.4h-4M184.2 2289.2h-4M184.2 2284.4h-4M184.2 2280.5h-4M184.2 2277.1h-4M184.2 2274.3h-4M184.2 2271.7h-4M184.2 2269.5h-7M184.2 2254.5h-4M184.2 2245.8h-4M184.2 2239.6h-4M184.2 2234.8h-4M184.2 2230.9h-4M184.2 2227.6h-4M184.2 2224.7h-4M184.2 2222.1h-4M184.2 2219.9h-7M184.2 2205.5h-4M184.2 2197.1h-4M184.2 2191.2h-4M184.2 2186.6h-4M184.2 2182.8h-4M184.2 2179.6h-4M184.2 2176.8h-4M184.2 2174.4h-4M184.2 2172.2h-7M184.2 2157.3h-4M184.2 2148.6h-4M184.2 2142.4h-4M184.2 2137.6h-4M184.2 2133.6h-4M184.2 2130.3h-4M184.2 2127.4h-4M184.2 2124.9h-4M184.2 2122.6h-7M184.2 2107.7h-4M184.2 2376.2h-4M184.2 2385.8h-4M184.2 2395.3h-4M184.2 2404.8h-4M184.2 2414.4h-4" stroke="#333" stroke-width="1.6" fill="none"/>
<rect x="184.2" y="2100.7" width="317.4" height="317.8" fill="none" stroke="#3c3c3c" stroke-width="2.2"/>
<text x="247.7" y="2447.5" font-size="15" class="s" text-anchor="middle" fill="#3a3a3a" transform="translate(247.7 2447.5) scale(0.9 1) translate(-247.7 -2447.5)">10<tspan dy="-6" font-size="10">3</tspan></text>
<text x="328.6" y="2447.5" font-size="15" class="s" text-anchor="middle" fill="#3a3a3a" transform="translate(328.6 2447.5) scale(0.9 1) translate(-328.6 -2447.5)">10<tspan dy="-6" font-size="10">4</tspan></text>
<text x="407" y="2447.5" font-size="15" class="s" text-anchor="middle" fill="#3a3a3a" transform="translate(407 2447.5) scale(0.9 1) translate(-407 -2447.5)">10<tspan dy="-6" font-size="10">5</tspan></text>
<text x="487" y="2447.5" font-size="15" class="s" text-anchor="middle" fill="#3a3a3a" transform="translate(487 2447.5) scale(0.9 1) translate(-487 -2447.5)">10<tspan dy="-6" font-size="10">6</tspan></text>
<text x="164.2" y="2122.6" font-size="15" class="s" text-anchor="middle" fill="#3a3a3a" transform="rotate(-90 164.2 2122.6)" dy="0.35em">10<tspan dy="-6" font-size="10">6</tspan></text>
<text x="164.2" y="2172.2" font-size="15" class="s" text-anchor="middle" fill="#3a3a3a" transform="rotate(-90 164.2 2172.2)" dy="0.35em">10<tspan dy="-6" font-size="10">5</tspan></text>
<text x="164.2" y="2219.9" font-size="15" class="s" text-anchor="middle" fill="#3a3a3a" transform="rotate(-90 164.2 2219.9)" dy="0.35em">10<tspan dy="-6" font-size="10">4</tspan></text>
<text x="164.2" y="2269.5" font-size="15" class="s" text-anchor="middle" fill="#3a3a3a" transform="rotate(-90 164.2 2269.5)" dy="0.35em">10<tspan dy="-6" font-size="10">3</tspan></text>
<text x="164.2" y="2319" font-size="15" class="s" text-anchor="middle" fill="#3a3a3a" transform="rotate(-90 164.2 2319)" dy="0.35em">10<tspan dy="-6" font-size="10">2</tspan></text>
<text x="164.2" y="2366.7" font-size="15" class="s" text-anchor="middle" fill="#3a3a3a" transform="rotate(-90 164.2 2366.7)" dy="0.35em">10<tspan dy="-6" font-size="10">1</tspan></text>
<text x="164.2" y="2397.8" font-size="15" class="s" text-anchor="middle" fill="#3a3a3a" transform="rotate(-90 164.2 2397.8)" dy="0.35em">0</text>
<text x="343.9" y="2466" font-size="17" class="s" text-anchor="middle" fill="#3a3a3a" transform="translate(343.9 2466) scale(0.92 1) translate(-343.9 -2466)">CD4 FITC-A</text>
<text x="141.2" y="2259.6" font-size="16" class="s" text-anchor="middle" fill="#3a3a3a" transform="rotate(-90 141.2 2259.6)" dy="0.35em">CD8 Violet660-A</text>
<rect x="185.5" y="2121" width="84.7" height="161.1" fill="none" stroke="#4e8a5e" stroke-width="2"/>
<rect x="269.3" y="2278.4" width="186.9" height="136" fill="none" stroke="#c456d8" stroke-width="2"/>
<text x="186.4" y="2117.2" font-size="16.5" class="s" fill="#4e8a5e">CD8+(12.77%)</text>
<text x="454" y="2409.9" font-size="16.5" class="s" text-anchor="end" fill="#c456d8">CD4+(5.21%)</text>
<g filter="url(#fF2b)"><rect x="567.3" y="2101.7" width="313.7" height="315.8" fill="#000" fill-opacity="0.001"/><ellipse cx="719.4" cy="2305.1" rx="72.5" ry="87" fill-opacity="0.12"/><ellipse cx="723" cy="2290.7" rx="39.9" ry="47.1" fill-opacity="0.15"/><ellipse cx="618" cy="2319.6" rx="54.3" ry="29" fill-opacity="0.05"/><ellipse cx="777.4" cy="2297.9" rx="21.7" ry="43.5" fill-opacity="0.06"/></g>
<path d="M685 2418.5v7M711.5 2418.5v4M727 2418.5v4M738 2418.5v4M746.6 2418.5v4M753.5 2418.5v4M759.4 2418.5v4M764.5 2418.5v4M769.1 2418.5v4M773.1 2418.5v7M799.8 2418.5v4M815.4 2418.5v4M826.5 2418.5v4M835.1 2418.5v4M842.1 2418.5v4M848.1 2418.5v4M853.2 2418.5v4M857.7 2418.5v4M861.8 2418.5v7M667.4 2418.5v4M649.8 2418.5v4M632.2 2418.5v4M614.5 2418.5v4M596.9 2418.5v4M579.3 2418.5v4M566.3 2354.9h-7M566.3 2331h-4M566.3 2317h-4M566.3 2307.1h-4M566.3 2299.4h-4M566.3 2293.1h-4M566.3 2287.8h-4M566.3 2283.2h-4M566.3 2279.1h-4M566.3 2275.5h-7M566.3 2251.2h-4M566.3 2237h-4M566.3 2226.9h-4M566.3 2219.1h-4M566.3 2212.7h-4M566.3 2207.3h-4M566.3 2202.6h-4M566.3 2198.5h-4M566.3 2194.8h-7M566.3 2171.2h-4M566.3 2157.5h-4M566.3 2147.7h-4M566.3 2140.1h-4M566.3 2133.9h-4M566.3 2128.7h-4M566.3 2124.2h-4M566.3 2120.2h-4M566.3 2116.6h-7M566.3 2370.8h-4M566.3 2386.7h-4M566.3 2402.6h-4" stroke="#333" stroke-width="1.6" fill="none"/>
<rect x="566.3" y="2100.7" width="315.7" height="317.8" fill="none" stroke="#3c3c3c" stroke-width="2.2"/>
<text x="598.5" y="2446.5" font-size="15" class="s" text-anchor="middle" fill="#3a3a3a" transform="translate(598.5 2446.5) scale(0.9 1) translate(-598.5 -2446.5)">0</text>
<text x="687.8" y="2446.5" font-size="15" class="s" text-anchor="middle" fill="#3a3a3a" transform="translate(687.8 2446.5) scale(0.9 1) translate(-687.8 -2446.5)">10<tspan dy="-6" font-size="10">4</tspan></text>
<text x="775.9" y="2446.5" font-size="15" class="s" text-anchor="middle" fill="#3a3a3a" transform="translate(775.9 2446.5) scale(0.9 1) translate(-775.9 -2446.5)">10<tspan dy="-6" font-size="10">5</tspan></text>
<text x="864.6" y="2446.5" font-size="15" class="s" text-anchor="middle" fill="#3a3a3a" transform="translate(864.6 2446.5) scale(0.9 1) translate(-864.6 -2446.5)">10<tspan dy="-6" font-size="10">6</tspan></text>
<text x="544.5" y="2116.6" font-size="15" class="s" text-anchor="middle" fill="#3a3a3a" transform="rotate(-90 544.5 2116.6)" dy="0.35em">10<tspan dy="-6" font-size="10">5</tspan></text>
<text x="544.5" y="2194.8" font-size="15" class="s" text-anchor="middle" fill="#3a3a3a" transform="rotate(-90 544.5 2194.8)" dy="0.35em">10<tspan dy="-6" font-size="10">4</tspan></text>
<text x="544.5" y="2275.5" font-size="15" class="s" text-anchor="middle" fill="#3a3a3a" transform="rotate(-90 544.5 2275.5)" dy="0.35em">10<tspan dy="-6" font-size="10">3</tspan></text>
<text x="544.5" y="2354.9" font-size="15" class="s" text-anchor="middle" fill="#3a3a3a" transform="rotate(-90 544.5 2354.9)" dy="0.35em">10<tspan dy="-6" font-size="10">2</tspan></text>
<text x="727.1" y="2465.5" font-size="17" class="s" text-anchor="middle" fill="#3a3a3a" transform="translate(727.1 2465.5) scale(0.92 1) translate(-727.1 -2465.5)">CD44 PE-A</text>
<text x="523.3" y="2259.6" font-size="16" class="s" text-anchor="middle" fill="#3a3a3a" transform="rotate(-90 523.3 2259.6)" dy="0.35em">CD62L PC5.5-A</text>
<rect x="582.1" y="2135" width="181.5" height="103" fill="none" stroke="#c25ec8" stroke-width="2"/>
<rect x="762.7" y="2242.1" width="87.4" height="164.9" fill="none" stroke="#e4ac58" stroke-width="2"/>
<rect x="654.4" y="2242.1" width="108.3" height="164.9" fill="none" stroke="#b53a3a" stroke-width="2"/>
<text x="582.7" y="2124.9" font-size="16.5" class="s" fill="#c25ec8">CD4+ naive T(1.00%)</text>
<text x="881.4" y="2232.9" font-size="16.5" class="s" text-anchor="end" fill="#e4ac58">CD4+Tae(3.84%)</text>
<text x="763.9" y="2396.9" font-size="16.5" class="s" text-anchor="end" fill="#b53a3a">CD4+Tem(59.74%)</text>
<g filter="url(#fF3b)"><rect x="941" y="2101.7" width="313.8" height="315.8" fill="#000" fill-opacity="0.001"/><ellipse cx="987.5" cy="2326.9" rx="47.1" ry="50.7" fill-opacity="0.17"/><ellipse cx="1081.7" cy="2301.5" rx="61.6" ry="87" fill-opacity="0.15"/><ellipse cx="1081.7" cy="2283.4" rx="36.2" ry="47.1" fill-opacity="0.2"/><ellipse cx="994.8" cy="2319.6" rx="25.4" ry="25.4" fill-opacity="0.2"/><ellipse cx="1081.7" cy="2276.2" rx="18.1" ry="21.7" fill-opacity="0.15"/><ellipse cx="1049.1" cy="2210.9" rx="72.5" ry="32.6" fill-opacity="0.012"/></g>
<path d="M1058.7 2418.5v7M1085.3 2418.5v4M1100.8 2418.5v4M1111.8 2418.5v4M1120.3 2418.5v4M1127.3 2418.5v4M1133.2 2418.5v4M1138.3 2418.5v4M1142.8 2418.5v4M1146.8 2418.5v7M1173.6 2418.5v4M1189.2 2418.5v4M1200.3 2418.5v4M1208.9 2418.5v4M1215.9 2418.5v4M1221.8 2418.5v4M1227 2418.5v4M1231.5 2418.5v4M1235.6 2418.5v7M1041.1 2418.5v4M1023.5 2418.5v4M1005.9 2418.5v4M988.3 2418.5v4M970.6 2418.5v4M953 2418.5v4M940 2354.9h-7M940 2331h-4M940 2317h-4M940 2307.1h-4M940 2299.4h-4M940 2293.1h-4M940 2287.8h-4M940 2283.2h-4M940 2279.1h-4M940 2275.5h-7M940 2251.2h-4M940 2237h-4M940 2226.9h-4M940 2219.1h-4M940 2212.7h-4M940 2207.3h-4M940 2202.6h-4M940 2198.5h-4M940 2194.8h-7M940 2171.2h-4M940 2157.5h-4M940 2147.7h-4M940 2140.1h-4M940 2133.9h-4M940 2128.7h-4M940 2124.2h-4M940 2120.2h-4M940 2116.6h-7M940 2370.8h-4M940 2386.7h-4M940 2402.6h-4" stroke="#333" stroke-width="1.6" fill="none"/>
<rect x="940" y="2100.7" width="315.8" height="317.8" fill="none" stroke="#3c3c3c" stroke-width="2.2"/>
<text x="972.2" y="2446.5" font-size="15" class="s" text-anchor="middle" fill="#3a3a3a" transform="translate(972.2 2446.5) scale(0.9 1) translate(-972.2 -2446.5)">0</text>
<text x="1061.6" y="2446.5" font-size="15" class="s" text-anchor="middle" fill="#3a3a3a" transform="translate(1061.6 2446.5) scale(0.9 1) translate(-1061.6 -2446.5)">10<tspan dy="-6" font-size="10">4</tspan></text>
<text x="1149.7" y="2446.5" font-size="15" class="s" text-anchor="middle" fill="#3a3a3a" transform="translate(1149.7 2446.5) scale(0.9 1) translate(-1149.7 -2446.5)">10<tspan dy="-6" font-size="10">5</tspan></text>
<text x="1238.4" y="2446.5" font-size="15" class="s" text-anchor="middle" fill="#3a3a3a" transform="translate(1238.4 2446.5) scale(0.9 1) translate(-1238.4 -2446.5)">10<tspan dy="-6" font-size="10">6</tspan></text>
<text x="918.2" y="2116.6" font-size="15" class="s" text-anchor="middle" fill="#3a3a3a" transform="rotate(-90 918.2 2116.6)" dy="0.35em">10<tspan dy="-6" font-size="10">5</tspan></text>
<text x="918.2" y="2194.8" font-size="15" class="s" text-anchor="middle" fill="#3a3a3a" transform="rotate(-90 918.2 2194.8)" dy="0.35em">10<tspan dy="-6" font-size="10">4</tspan></text>
<text x="918.2" y="2275.5" font-size="15" class="s" text-anchor="middle" fill="#3a3a3a" transform="rotate(-90 918.2 2275.5)" dy="0.35em">10<tspan dy="-6" font-size="10">3</tspan></text>
<text x="918.2" y="2354.9" font-size="15" class="s" text-anchor="middle" fill="#3a3a3a" transform="rotate(-90 918.2 2354.9)" dy="0.35em">10<tspan dy="-6" font-size="10">2</tspan></text>
<text x="1100.9" y="2465.5" font-size="17" class="s" text-anchor="middle" fill="#3a3a3a" transform="translate(1100.9 2465.5) scale(0.92 1) translate(-1100.9 -2465.5)">CD44 PE-A</text>
<text x="897" y="2259.6" font-size="16" class="s" text-anchor="middle" fill="#3a3a3a" transform="rotate(-90 897 2259.6)" dy="0.35em">CD62L PC5.5-A</text>
<rect x="955.8" y="2135" width="181.6" height="103" fill="none" stroke="#c25ec8" stroke-width="2"/>
<rect x="1136.4" y="2242.1" width="87.5" height="164.9" fill="none" stroke="#e4ac58" stroke-width="2"/>
<rect x="1028.1" y="2242.1" width="108.3" height="164.9" fill="none" stroke="#b53a3a" stroke-width="2"/>
<text x="956.4" y="2124.9" font-size="16.5" class="s" fill="#c25ec8">CD8+ naive T(1.94%)</text>
<text x="1255.2" y="2232.9" font-size="16.5" class="s" text-anchor="end" fill="#e4ac58">CD8+Tae(1.65%)</text>
<text x="1137.7" y="2396.9" font-size="16.5" class="s" text-anchor="end" fill="#b53a3a">CD8+Tem(58.34%)</text>
<path d="M207.6 1749.7V1711H1039.4V1777.4" stroke="#f9b24e" stroke-width="2.6" fill="none"/>
<path d="M1039.4 1801.4l-12.8 -25.8h25.6z" fill="#f9b24e"/>
<line x1="428.1" y1="1964" x2="655" y2="1964" stroke="#f2795a" stroke-width="2.6"/>
<path d="M679 1964l-25.5 -12.4v24.8z" fill="#f2795a"/>
<path d="M211.8 2128.7V2090H1039.4V2156.4" stroke="#f9b24e" stroke-width="2.6" fill="none"/>
<path d="M1039.4 2180.4l-12.8 -25.8h25.6z" fill="#f9b24e"/>
<line x1="428.1" y1="2343" x2="655" y2="2343" stroke="#f2795a" stroke-width="2.6"/>
<path d="M679 2343l-25.5 -12.4v24.8z" fill="#f2795a"/>
<text x="111" y="1886" font-size="36" class="r" text-anchor="middle" transform="rotate(-90 111 1886)" dy="0.35em">Tβ15 OX</text>
<text x="111" y="2283" font-size="36" class="r" text-anchor="middle" transform="rotate(-90 111 2283)" dy="0.35em">Tβ15 sh</text>
<text x="52.5" y="2057" font-size="36" class="r" text-anchor="middle" transform="rotate(-90 52.5 2057)" dy="0.35em">peripheral blood</text>
<line x1="87.5" y1="1876" x2="87.5" y2="2242" stroke="#111" stroke-width="2.5"/>
<text x="1302" y="1666" font-size="37.5" class="s" transform="translate(1302 1666) scale(0.88 1) translate(-1302 -1666)">G</text>
<text x="1925" y="1691" font-size="37" class="r" text-anchor="middle">Day 14</text>
<line x1="1610.6" y1="1697" x2="2205" y2="1697" stroke="#111" stroke-width="2.5"/>
<g filter="url(#fG1)"><rect x="1384.2" y="1721.2" width="309.8" height="310.4" fill="#000" fill-opacity="0.001"/><ellipse cx="1471.2" cy="1844.9" rx="124.2" ry="85.4" fill-opacity="0.012"/><ellipse cx="1445.3" cy="1844.9" rx="56.9" ry="46.6" fill-opacity="0.045"/><ellipse cx="1561.7" cy="1891.5" rx="64.7" ry="44" fill-opacity="0.035"/><polygon points="1383.7,1878.6 1434.9,1885 1471.2,1896.7 1502.2,1920 1486.7,1958.8 1476.3,1997.6 1471.2,2032.6 1383.7,2032.6" fill-opacity="0.14"/><polygon points="1383.7,1878.6 1434.9,1885 1471.2,1896.7 1502.2,1920 1486.7,1958.8 1476.3,1984.7 1419.4,1971.7 1383.7,1958.8" fill-opacity="0.2"/><ellipse cx="1516.4" cy="1859.2" rx="72.5" ry="14.2" fill-opacity="0.3" transform="rotate(-33 1516.4 1859.2)"/><ellipse cx="1489.3" cy="1877.3" rx="36.2" ry="12.9" fill-opacity="0.45" transform="rotate(-30 1489.3 1877.3)"/><ellipse cx="1494.5" cy="1873.4" rx="14.2" ry="7.2" fill-opacity="0.7" transform="rotate(-30 1494.5 1873.4)"/><ellipse cx="1458.2" cy="1900.6" rx="28.5" ry="9.1" fill-opacity="0.3"/></g>
<path d="M1442.8 2032.6v7M1466.7 2032.6v4M1480.7 2032.6v4M1490.6 2032.6v4M1498.3 2032.6v4M1504.6 2032.6v4M1509.9 2032.6v4M1514.6 2032.6v4M1518.6 2032.6v4M1522.3 2032.6v7M1545.4 2032.6v4M1559 2032.6v4M1568.6 2032.6v4M1576.1 2032.6v4M1582.2 2032.6v4M1587.3 2032.6v4M1591.8 2032.6v4M1595.8 2032.6v4M1599.3 2032.6v7M1622.9 2032.6v4M1636.8 2032.6v4M1646.6 2032.6v4M1654.2 2032.6v4M1660.4 2032.6v4M1665.7 2032.6v4M1670.2 2032.6v4M1674.3 2032.6v4M1677.9 2032.6v7M1426.9 2032.6v4M1411 2032.6v4M1395 2032.6v4M1383.2 1981.7h-7M1383.2 1967.6h-4M1383.2 1959.3h-4M1383.2 1953.5h-4M1383.2 1948.9h-4M1383.2 1945.2h-4M1383.2 1942.1h-4M1383.2 1939.4h-4M1383.2 1937h-4M1383.2 1934.8h-7M1383.2 1920.1h-4M1383.2 1911.6h-4M1383.2 1905.5h-4M1383.2 1900.8h-4M1383.2 1896.9h-4M1383.2 1893.6h-4M1383.2 1890.8h-4M1383.2 1888.3h-4M1383.2 1886.1h-7M1383.2 1871.4h-4M1383.2 1862.8h-4M1383.2 1856.7h-4M1383.2 1852h-4M1383.2 1848.2h-4M1383.2 1844.9h-4M1383.2 1842.1h-4M1383.2 1839.6h-4M1383.2 1837.3h-7M1383.2 1823.2h-4M1383.2 1815h-4M1383.2 1809.1h-4M1383.2 1804.6h-4M1383.2 1800.9h-4M1383.2 1797.7h-4M1383.2 1795h-4M1383.2 1792.6h-4M1383.2 1790.5h-7M1383.2 1775.8h-4M1383.2 1767.2h-4M1383.2 1761.1h-4M1383.2 1756.4h-4M1383.2 1752.6h-4M1383.2 1749.3h-4M1383.2 1746.5h-4M1383.2 1744h-4M1383.2 1741.8h-7M1383.2 1727.1h-4M1383.2 1991.1h-4M1383.2 2000.4h-4M1383.2 2009.8h-4M1383.2 2019.2h-4M1383.2 2028.5h-4" stroke="#333" stroke-width="1.6" fill="none"/>
<rect x="1383.2" y="1720.2" width="311.8" height="312.4" fill="none" stroke="#3c3c3c" stroke-width="2.2"/>
<text x="1445.6" y="2061.6" font-size="15" class="s" text-anchor="middle" fill="#3a3a3a" transform="translate(1445.6 2061.6) scale(0.9 1) translate(-1445.6 -2061.6)">10<tspan dy="-6" font-size="10">3</tspan></text>
<text x="1525.1" y="2061.6" font-size="15" class="s" text-anchor="middle" fill="#3a3a3a" transform="translate(1525.1 2061.6) scale(0.9 1) translate(-1525.1 -2061.6)">10<tspan dy="-6" font-size="10">4</tspan></text>
<text x="1602.1" y="2061.6" font-size="15" class="s" text-anchor="middle" fill="#3a3a3a" transform="translate(1602.1 2061.6) scale(0.9 1) translate(-1602.1 -2061.6)">10<tspan dy="-6" font-size="10">5</tspan></text>
<text x="1680.7" y="2061.6" font-size="15" class="s" text-anchor="middle" fill="#3a3a3a" transform="translate(1680.7 2061.6) scale(0.9 1) translate(-1680.7 -2061.6)">10<tspan dy="-6" font-size="10">6</tspan></text>
<text x="1363.2" y="1741.8" font-size="15" class="s" text-anchor="middle" fill="#3a3a3a" transform="rotate(-90 1363.2 1741.8)" dy="0.35em">10<tspan dy="-6" font-size="10">6</tspan></text>
<text x="1363.2" y="1790.5" font-size="15" class="s" text-anchor="middle" fill="#3a3a3a" transform="rotate(-90 1363.2 1790.5)" dy="0.35em">10<tspan dy="-6" font-size="10">5</tspan></text>
<text x="1363.2" y="1837.3" font-size="15" class="s" text-anchor="middle" fill="#3a3a3a" transform="rotate(-90 1363.2 1837.3)" dy="0.35em">10<tspan dy="-6" font-size="10">4</tspan></text>
<text x="1363.2" y="1886.1" font-size="15" class="s" text-anchor="middle" fill="#3a3a3a" transform="rotate(-90 1363.2 1886.1)" dy="0.35em">10<tspan dy="-6" font-size="10">3</tspan></text>
<text x="1363.2" y="1934.8" font-size="15" class="s" text-anchor="middle" fill="#3a3a3a" transform="rotate(-90 1363.2 1934.8)" dy="0.35em">10<tspan dy="-6" font-size="10">2</tspan></text>
<text x="1363.2" y="1981.7" font-size="15" class="s" text-anchor="middle" fill="#3a3a3a" transform="rotate(-90 1363.2 1981.7)" dy="0.35em">10<tspan dy="-6" font-size="10">1</tspan></text>
<text x="1363.2" y="2012.3" font-size="15" class="s" text-anchor="middle" fill="#3a3a3a" transform="rotate(-90 1363.2 2012.3)" dy="0.35em">0</text>
<text x="1540.1" y="2080.1" font-size="17" class="s" text-anchor="middle" fill="#3a3a3a" transform="translate(1540.1 2080.1) scale(0.92 1) translate(-1540.1 -2080.1)">CD4 FITC-A</text>
<text x="1340.2" y="1876.4" font-size="16" class="s" text-anchor="middle" fill="#3a3a3a" transform="rotate(-90 1340.2 1876.4)" dy="0.35em">CD8 Violet660-A</text>
<rect x="1384.4" y="1740.2" width="83.3" height="158.4" fill="none" stroke="#4e8a5e" stroke-width="2"/>
<rect x="1466.8" y="1894.8" width="183.7" height="133.7" fill="none" stroke="#c456d8" stroke-width="2"/>
<text x="1385.4" y="1736.4" font-size="16.5" class="s" fill="#4e8a5e">CD8+(9.62%)</text>
<text x="1648.2" y="2024.2" font-size="16.5" class="s" text-anchor="end" fill="#c456d8">CD4+(5.34%)</text>
<g filter="url(#fG2)"><rect x="1766.8" y="1720" width="310" height="310.3" fill="#000" fill-opacity="0.001"/><ellipse cx="1820.9" cy="1911" rx="33.1" ry="35.2" fill-opacity="0.14"/><ellipse cx="1815.9" cy="1909.1" rx="18.6" ry="16.6" fill-opacity="0.1"/><ellipse cx="1861.5" cy="1917.4" rx="24.8" ry="24.8" fill-opacity="0.08"/><ellipse cx="1905" cy="1920.9" rx="53.8" ry="66.3" fill-opacity="0.16"/><ellipse cx="1907" cy="1907" rx="37.3" ry="41.4" fill-opacity="0.16"/><ellipse cx="1908.9" cy="1901" rx="22.8" ry="26.9" fill-opacity="0.2"/><ellipse cx="1908.9" cy="1898.8" rx="10.4" ry="12.4" fill-opacity="0.2"/><ellipse cx="1989" cy="1952" rx="31.1" ry="68.3" fill-opacity="0.1"/><ellipse cx="1907" cy="1844.9" rx="51.8" ry="20.7" fill-opacity="0.025"/></g>
<path d="M1883.1 2031.3v7M1909.3 2031.3v4M1924.6 2031.3v4M1935.5 2031.3v4M1944 2031.3v4M1950.8 2031.3v4M1956.7 2031.3v4M1961.7 2031.3v4M1966.2 2031.3v4M1970.2 2031.3v7M1996.6 2031.3v4M2012 2031.3v4M2022.9 2031.3v4M2031.4 2031.3v4M2038.4 2031.3v4M2044.3 2031.3v4M2049.3 2031.3v4M2053.8 2031.3v4M2057.8 2031.3v7M1865.7 2031.3v4M1848.3 2031.3v4M1830.9 2031.3v4M1813.5 2031.3v4M1796.1 2031.3v4M1778.7 2031.3v4M1765.8 1968.8h-7M1765.8 1945.3h-4M1765.8 1931.6h-4M1765.8 1921.8h-4M1765.8 1914.3h-4M1765.8 1908.1h-4M1765.8 1902.9h-4M1765.8 1898.3h-4M1765.8 1894.3h-4M1765.8 1890.8h-7M1765.8 1866.9h-4M1765.8 1852.9h-4M1765.8 1843h-4M1765.8 1835.3h-4M1765.8 1829h-4M1765.8 1823.7h-4M1765.8 1819.1h-4M1765.8 1815.1h-4M1765.8 1811.4h-7M1765.8 1788.3h-4M1765.8 1774.8h-4M1765.8 1765.2h-4M1765.8 1757.7h-4M1765.8 1751.7h-4M1765.8 1746.5h-4M1765.8 1742.1h-4M1765.8 1738.1h-4M1765.8 1734.6h-7M1765.8 1984.5h-4M1765.8 2000.1h-4M1765.8 2015.7h-4" stroke="#333" stroke-width="1.6" fill="none"/>
<rect x="1765.8" y="1719" width="312" height="312.3" fill="none" stroke="#3c3c3c" stroke-width="2.2"/>
<text x="1797.6" y="2059.3" font-size="15" class="s" text-anchor="middle" fill="#3a3a3a" transform="translate(1797.6 2059.3) scale(0.9 1) translate(-1797.6 -2059.3)">0</text>
<text x="1885.9" y="2059.3" font-size="15" class="s" text-anchor="middle" fill="#3a3a3a" transform="translate(1885.9 2059.3) scale(0.9 1) translate(-1885.9 -2059.3)">10<tspan dy="-6" font-size="10">4</tspan></text>
<text x="1973" y="2059.3" font-size="15" class="s" text-anchor="middle" fill="#3a3a3a" transform="translate(1973 2059.3) scale(0.9 1) translate(-1973 -2059.3)">10<tspan dy="-6" font-size="10">5</tspan></text>
<text x="2060.6" y="2059.3" font-size="15" class="s" text-anchor="middle" fill="#3a3a3a" transform="translate(2060.6 2059.3) scale(0.9 1) translate(-2060.6 -2059.3)">10<tspan dy="-6" font-size="10">6</tspan></text>
<text x="1744" y="1734.6" font-size="15" class="s" text-anchor="middle" fill="#3a3a3a" transform="rotate(-90 1744 1734.6)" dy="0.35em">10<tspan dy="-6" font-size="10">5</tspan></text>
<text x="1744" y="1811.4" font-size="15" class="s" text-anchor="middle" fill="#3a3a3a" transform="rotate(-90 1744 1811.4)" dy="0.35em">10<tspan dy="-6" font-size="10">4</tspan></text>
<text x="1744" y="1890.8" font-size="15" class="s" text-anchor="middle" fill="#3a3a3a" transform="rotate(-90 1744 1890.8)" dy="0.35em">10<tspan dy="-6" font-size="10">3</tspan></text>
<text x="1744" y="1968.8" font-size="15" class="s" text-anchor="middle" fill="#3a3a3a" transform="rotate(-90 1744 1968.8)" dy="0.35em">10<tspan dy="-6" font-size="10">2</tspan></text>
<text x="1924.8" y="2078.3" font-size="17" class="s" text-anchor="middle" fill="#3a3a3a" transform="translate(1924.8 2078.3) scale(0.92 1) translate(-1924.8 -2078.3)">CD44 PE-A</text>
<text x="1722.8" y="1875.2" font-size="16" class="s" text-anchor="middle" fill="#3a3a3a" transform="rotate(-90 1722.8 1875.2)" dy="0.35em">CD62L PC5.5-A</text>
<rect x="1781.4" y="1752.7" width="179.4" height="101.2" fill="none" stroke="#c25ec8" stroke-width="2"/>
<rect x="1959.9" y="1858" width="86.4" height="162.1" fill="none" stroke="#e4ac58" stroke-width="2"/>
<rect x="1852.8" y="1858" width="107" height="162.1" fill="none" stroke="#b53a3a" stroke-width="2"/>
<text x="1782" y="1742.7" font-size="16.5" class="s" fill="#c25ec8">CD4+ naive T(0.41%)</text>
<text x="2077.2" y="1848.9" font-size="16.5" class="s" text-anchor="end" fill="#e4ac58">CD4+Tae(6.09%)</text>
<text x="1961.1" y="2010.1" font-size="16.5" class="s" text-anchor="end" fill="#b53a3a">CD4+Tem(28.51%)</text>
<g filter="url(#fG3)"><rect x="2139.6" y="1720.7" width="312.1" height="309.6" fill="#000" fill-opacity="0.001"/><ellipse cx="2189.9" cy="1929" rx="39.3" ry="49.7" fill-opacity="0.2"/><ellipse cx="2198" cy="1913" rx="22.8" ry="18.6" fill-opacity="0.3"/><ellipse cx="2232.8" cy="1927.7" rx="16.6" ry="31.1" fill-opacity="0.12"/><ellipse cx="2280" cy="1938.1" rx="51.8" ry="82.8" fill-opacity="0.18"/><ellipse cx="2282.1" cy="1907" rx="35.2" ry="47.6" fill-opacity="0.18"/><ellipse cx="2282.1" cy="1901" rx="20.7" ry="24.8" fill-opacity="0.26"/><ellipse cx="2280" cy="1825.1" rx="35.2" ry="31.1" fill-opacity="0.1"/><ellipse cx="2359.9" cy="1938.1" rx="29" ry="58" fill-opacity="0.09"/><ellipse cx="2216.2" cy="1813.9" rx="62.1" ry="41.4" fill-opacity="0.012"/></g>
<path d="M2256.7 2031.3v7M2283.1 2031.3v4M2298.5 2031.3v4M2309.5 2031.3v4M2318 2031.3v4M2324.9 2031.3v4M2330.8 2031.3v4M2335.8 2031.3v4M2340.3 2031.3v4M2344.3 2031.3v7M2370.9 2031.3v4M2386.4 2031.3v4M2397.5 2031.3v4M2406 2031.3v4M2413 2031.3v4M2418.9 2031.3v4M2424 2031.3v4M2428.6 2031.3v4M2432.6 2031.3v7M2239.2 2031.3v4M2221.6 2031.3v4M2204.1 2031.3v4M2186.6 2031.3v4M2169.1 2031.3v4M2151.5 2031.3v4M2138.6 1969h-7M2138.6 1945.5h-4M2138.6 1931.8h-4M2138.6 1922.1h-4M2138.6 1914.5h-4M2138.6 1908.4h-4M2138.6 1903.1h-4M2138.6 1898.6h-4M2138.6 1894.6h-4M2138.6 1891.1h-7M2138.6 1867.3h-4M2138.6 1853.3h-4M2138.6 1843.4h-4M2138.6 1835.8h-4M2138.6 1829.5h-4M2138.6 1824.2h-4M2138.6 1819.6h-4M2138.6 1815.6h-4M2138.6 1811.9h-7M2138.6 1788.9h-4M2138.6 1775.4h-4M2138.6 1765.8h-4M2138.6 1758.4h-4M2138.6 1752.3h-4M2138.6 1747.2h-4M2138.6 1742.7h-4M2138.6 1738.8h-4M2138.6 1735.3h-7M2138.6 1984.6h-4M2138.6 2000.1h-4M2138.6 2015.7h-4" stroke="#333" stroke-width="1.6" fill="none"/>
<rect x="2138.6" y="1719.7" width="314.1" height="311.6" fill="none" stroke="#3c3c3c" stroke-width="2.2"/>
<text x="2170.6" y="2059.3" font-size="15" class="s" text-anchor="middle" fill="#3a3a3a" transform="translate(2170.6 2059.3) scale(0.9 1) translate(-2170.6 -2059.3)">0</text>
<text x="2259.5" y="2059.3" font-size="15" class="s" text-anchor="middle" fill="#3a3a3a" transform="translate(2259.5 2059.3) scale(0.9 1) translate(-2259.5 -2059.3)">10<tspan dy="-6" font-size="10">4</tspan></text>
<text x="2347.2" y="2059.3" font-size="15" class="s" text-anchor="middle" fill="#3a3a3a" transform="translate(2347.2 2059.3) scale(0.9 1) translate(-2347.2 -2059.3)">10<tspan dy="-6" font-size="10">5</tspan></text>
<text x="2435.4" y="2059.3" font-size="15" class="s" text-anchor="middle" fill="#3a3a3a" transform="translate(2435.4 2059.3) scale(0.9 1) translate(-2435.4 -2059.3)">10<tspan dy="-6" font-size="10">6</tspan></text>
<text x="2116.8" y="1735.3" font-size="15" class="s" text-anchor="middle" fill="#3a3a3a" transform="rotate(-90 2116.8 1735.3)" dy="0.35em">10<tspan dy="-6" font-size="10">5</tspan></text>
<text x="2116.8" y="1811.9" font-size="15" class="s" text-anchor="middle" fill="#3a3a3a" transform="rotate(-90 2116.8 1811.9)" dy="0.35em">10<tspan dy="-6" font-size="10">4</tspan></text>
<text x="2116.8" y="1891.1" font-size="15" class="s" text-anchor="middle" fill="#3a3a3a" transform="rotate(-90 2116.8 1891.1)" dy="0.35em">10<tspan dy="-6" font-size="10">3</tspan></text>
<text x="2116.8" y="1969" font-size="15" class="s" text-anchor="middle" fill="#3a3a3a" transform="rotate(-90 2116.8 1969)" dy="0.35em">10<tspan dy="-6" font-size="10">2</tspan></text>
<text x="2298.6" y="2078.3" font-size="17" class="s" text-anchor="middle" fill="#3a3a3a" transform="translate(2298.6 2078.3) scale(0.92 1) translate(-2298.6 -2078.3)">CD44 PE-A</text>
<text x="2095.6" y="1875.5" font-size="16" class="s" text-anchor="middle" fill="#3a3a3a" transform="rotate(-90 2095.6 1875.5)" dy="0.35em">CD62L PC5.5-A</text>
<rect x="2154.3" y="1753.4" width="180.6" height="101" fill="none" stroke="#c25ec8" stroke-width="2"/>
<rect x="2334" y="1858.4" width="87" height="161.7" fill="none" stroke="#e4ac58" stroke-width="2"/>
<rect x="2226.2" y="1858.4" width="107.7" height="161.7" fill="none" stroke="#b53a3a" stroke-width="2"/>
<text x="2154.9" y="1743.4" font-size="16.5" class="s" fill="#c25ec8">CD8+ naive T(1.64%)</text>
<text x="2452.1" y="1849.3" font-size="16.5" class="s" text-anchor="end" fill="#e4ac58">CD8+Tae(2.11%)</text>
<text x="2335.2" y="2010.1" font-size="16.5" class="s" text-anchor="end" fill="#b53a3a">CD8+Tem(45.31%)</text>
<g filter="url(#fG1b)"><rect x="1384.2" y="2109.7" width="309.8" height="310.4" fill="#000" fill-opacity="0.001"/><ellipse cx="1483.9" cy="2214.6" rx="96.8" ry="62.6" fill-opacity="0.045"/><ellipse cx="1557.9" cy="2265.8" rx="56.9" ry="28.5" fill-opacity="0.04"/><polygon points="1384.2,2265.8 1438.3,2271.5 1472.5,2282.9 1495.3,2300 1483.9,2334.1 1472.5,2379.7 1469.6,2420.7 1384.2,2420.7" fill-opacity="0.3"/><ellipse cx="1506.6" cy="2247.6" rx="76.9" ry="11.4" fill-opacity="0.3" transform="rotate(-27.5 1506.6 2247.6)"/><ellipse cx="1492.4" cy="2260.1" rx="37" ry="12.5" fill-opacity="0.45" transform="rotate(-27 1492.4 2260.1)"/><ellipse cx="1498.1" cy="2257.3" rx="14.2" ry="6.8" fill-opacity="0.7" transform="rotate(-27 1498.1 2257.3)"/><ellipse cx="1455.4" cy="2282.9" rx="22.8" ry="8.5" fill-opacity="0.3"/></g>
<path d="M1442.8 2421.1v7M1466.7 2421.1v4M1480.7 2421.1v4M1490.6 2421.1v4M1498.3 2421.1v4M1504.6 2421.1v4M1509.9 2421.1v4M1514.6 2421.1v4M1518.6 2421.1v4M1522.3 2421.1v7M1545.4 2421.1v4M1559 2421.1v4M1568.6 2421.1v4M1576.1 2421.1v4M1582.2 2421.1v4M1587.3 2421.1v4M1591.8 2421.1v4M1595.8 2421.1v4M1599.3 2421.1v7M1622.9 2421.1v4M1636.8 2421.1v4M1646.6 2421.1v4M1654.2 2421.1v4M1660.4 2421.1v4M1665.7 2421.1v4M1670.2 2421.1v4M1674.3 2421.1v4M1677.9 2421.1v7M1426.9 2421.1v4M1411 2421.1v4M1395 2421.1v4M1383.2 2370.2h-7M1383.2 2356.1h-4M1383.2 2347.8h-4M1383.2 2342h-4M1383.2 2337.4h-4M1383.2 2333.7h-4M1383.2 2330.6h-4M1383.2 2327.9h-4M1383.2 2325.5h-4M1383.2 2323.3h-7M1383.2 2308.6h-4M1383.2 2300.1h-4M1383.2 2294h-4M1383.2 2289.3h-4M1383.2 2285.4h-4M1383.2 2282.1h-4M1383.2 2279.3h-4M1383.2 2276.8h-4M1383.2 2274.6h-7M1383.2 2259.9h-4M1383.2 2251.3h-4M1383.2 2245.2h-4M1383.2 2240.5h-4M1383.2 2236.7h-4M1383.2 2233.4h-4M1383.2 2230.6h-4M1383.2 2228.1h-4M1383.2 2225.8h-7M1383.2 2211.7h-4M1383.2 2203.5h-4M1383.2 2197.6h-4M1383.2 2193.1h-4M1383.2 2189.4h-4M1383.2 2186.2h-4M1383.2 2183.5h-4M1383.2 2181.1h-4M1383.2 2179h-7M1383.2 2164.3h-4M1383.2 2155.7h-4M1383.2 2149.6h-4M1383.2 2144.9h-4M1383.2 2141.1h-4M1383.2 2137.8h-4M1383.2 2135h-4M1383.2 2132.5h-4M1383.2 2130.3h-7M1383.2 2115.6h-4M1383.2 2379.6h-4M1383.2 2388.9h-4M1383.2 2398.3h-4M1383.2 2407.7h-4M1383.2 2417h-4" stroke="#333" stroke-width="1.6" fill="none"/>
<rect x="1383.2" y="2108.7" width="311.8" height="312.4" fill="none" stroke="#3c3c3c" stroke-width="2.2"/>
<text x="1445.6" y="2450.1" font-size="15" class="s" text-anchor="middle" fill="#3a3a3a" transform="translate(1445.6 2450.1) scale(0.9 1) translate(-1445.6 -2450.1)">10<tspan dy="-6" font-size="10">3</tspan></text>
<text x="1525.1" y="2450.1" font-size="15" class="s" text-anchor="middle" fill="#3a3a3a" transform="translate(1525.1 2450.1) scale(0.9 1) translate(-1525.1 -2450.1)">10<tspan dy="-6" font-size="10">4</tspan></text>
<text x="1602.1" y="2450.1" font-size="15" class="s" text-anchor="middle" fill="#3a3a3a" transform="translate(1602.1 2450.1) scale(0.9 1) translate(-1602.1 -2450.1)">10<tspan dy="-6" font-size="10">5</tspan></text>
<text x="1680.7" y="2450.1" font-size="15" class="s" text-anchor="middle" fill="#3a3a3a" transform="translate(1680.7 2450.1) scale(0.9 1) translate(-1680.7 -2450.1)">10<tspan dy="-6" font-size="10">6</tspan></text>
<text x="1363.2" y="2130.3" font-size="15" class="s" text-anchor="middle" fill="#3a3a3a" transform="rotate(-90 1363.2 2130.3)" dy="0.35em">10<tspan dy="-6" font-size="10">6</tspan></text>
<text x="1363.2" y="2179" font-size="15" class="s" text-anchor="middle" fill="#3a3a3a" transform="rotate(-90 1363.2 2179)" dy="0.35em">10<tspan dy="-6" font-size="10">5</tspan></text>
<text x="1363.2" y="2225.8" font-size="15" class="s" text-anchor="middle" fill="#3a3a3a" transform="rotate(-90 1363.2 2225.8)" dy="0.35em">10<tspan dy="-6" font-size="10">4</tspan></text>
<text x="1363.2" y="2274.6" font-size="15" class="s" text-anchor="middle" fill="#3a3a3a" transform="rotate(-90 1363.2 2274.6)" dy="0.35em">10<tspan dy="-6" font-size="10">3</tspan></text>
<text x="1363.2" y="2323.3" font-size="15" class="s" text-anchor="middle" fill="#3a3a3a" transform="rotate(-90 1363.2 2323.3)" dy="0.35em">10<tspan dy="-6" font-size="10">2</tspan></text>
<text x="1363.2" y="2370.2" font-size="15" class="s" text-anchor="middle" fill="#3a3a3a" transform="rotate(-90 1363.2 2370.2)" dy="0.35em">10<tspan dy="-6" font-size="10">1</tspan></text>
<text x="1363.2" y="2400.8" font-size="15" class="s" text-anchor="middle" fill="#3a3a3a" transform="rotate(-90 1363.2 2400.8)" dy="0.35em">0</text>
<text x="1540.1" y="2468.6" font-size="17" class="s" text-anchor="middle" fill="#3a3a3a" transform="translate(1540.1 2468.6) scale(0.92 1) translate(-1540.1 -2468.6)">CD4 FITC-A</text>
<text x="1340.2" y="2264.9" font-size="16" class="s" text-anchor="middle" fill="#3a3a3a" transform="rotate(-90 1340.2 2264.9)" dy="0.35em">CD8 Violet660-A</text>
<rect x="1384.4" y="2128.7" width="83.3" height="158.4" fill="none" stroke="#4e8a5e" stroke-width="2"/>
<rect x="1466.8" y="2283.3" width="183.7" height="133.7" fill="none" stroke="#c456d8" stroke-width="2"/>
<text x="1385.4" y="2124.9" font-size="16.5" class="s" fill="#4e8a5e">CD8+(8.66%)</text>
<text x="1648.2" y="2412.7" font-size="16.5" class="s" text-anchor="end" fill="#c456d8">CD4+(5.12%)</text>
<g filter="url(#fG2b)"><rect x="1766.8" y="2108.5" width="310" height="310.3" fill="#000" fill-opacity="0.001"/><ellipse cx="1814.1" cy="2297.1" rx="42.7" ry="25.6" fill-opacity="0.13"/><ellipse cx="1853.9" cy="2302.8" rx="22.8" ry="28.5" fill-opacity="0.08"/><ellipse cx="1902.3" cy="2311.4" rx="59.8" ry="74" fill-opacity="0.15"/><ellipse cx="1902.3" cy="2300" rx="37" ry="39.9" fill-opacity="0.17"/><ellipse cx="1899.5" cy="2294.3" rx="19.9" ry="22.8" fill-opacity="0.3"/><ellipse cx="1984.9" cy="2334.1" rx="28.5" ry="56.9" fill-opacity="0.11"/><ellipse cx="1882.4" cy="2237.3" rx="45.5" ry="17.1" fill-opacity="0.025"/></g>
<path d="M1883.1 2419.8v7M1909.3 2419.8v4M1924.6 2419.8v4M1935.5 2419.8v4M1944 2419.8v4M1950.8 2419.8v4M1956.7 2419.8v4M1961.7 2419.8v4M1966.2 2419.8v4M1970.2 2419.8v7M1996.6 2419.8v4M2012 2419.8v4M2022.9 2419.8v4M2031.4 2419.8v4M2038.4 2419.8v4M2044.3 2419.8v4M2049.3 2419.8v4M2053.8 2419.8v4M2057.8 2419.8v7M1865.7 2419.8v4M1848.3 2419.8v4M1830.9 2419.8v4M1813.5 2419.8v4M1796.1 2419.8v4M1778.7 2419.8v4M1765.8 2357.3h-7M1765.8 2333.8h-4M1765.8 2320.1h-4M1765.8 2310.3h-4M1765.8 2302.8h-4M1765.8 2296.6h-4M1765.8 2291.4h-4M1765.8 2286.8h-4M1765.8 2282.8h-4M1765.8 2279.3h-7M1765.8 2255.4h-4M1765.8 2241.4h-4M1765.8 2231.5h-4M1765.8 2223.8h-4M1765.8 2217.5h-4M1765.8 2212.2h-4M1765.8 2207.6h-4M1765.8 2203.6h-4M1765.8 2199.9h-7M1765.8 2176.8h-4M1765.8 2163.3h-4M1765.8 2153.7h-4M1765.8 2146.2h-4M1765.8 2140.2h-4M1765.8 2135h-4M1765.8 2130.6h-4M1765.8 2126.6h-4M1765.8 2123.1h-7M1765.8 2373h-4M1765.8 2388.6h-4M1765.8 2404.2h-4" stroke="#333" stroke-width="1.6" fill="none"/>
<rect x="1765.8" y="2107.5" width="312" height="312.3" fill="none" stroke="#3c3c3c" stroke-width="2.2"/>
<text x="1797.6" y="2447.8" font-size="15" class="s" text-anchor="middle" fill="#3a3a3a" transform="translate(1797.6 2447.8) scale(0.9 1) translate(-1797.6 -2447.8)">0</text>
<text x="1885.9" y="2447.8" font-size="15" class="s" text-anchor="middle" fill="#3a3a3a" transform="translate(1885.9 2447.8) scale(0.9 1) translate(-1885.9 -2447.8)">10<tspan dy="-6" font-size="10">4</tspan></text>
<text x="1973" y="2447.8" font-size="15" class="s" text-anchor="middle" fill="#3a3a3a" transform="translate(1973 2447.8) scale(0.9 1) translate(-1973 -2447.8)">10<tspan dy="-6" font-size="10">5</tspan></text>
<text x="2060.6" y="2447.8" font-size="15" class="s" text-anchor="middle" fill="#3a3a3a" transform="translate(2060.6 2447.8) scale(0.9 1) translate(-2060.6 -2447.8)">10<tspan dy="-6" font-size="10">6</tspan></text>
<text x="1744" y="2123.1" font-size="15" class="s" text-anchor="middle" fill="#3a3a3a" transform="rotate(-90 1744 2123.1)" dy="0.35em">10<tspan dy="-6" font-size="10">5</tspan></text>
<text x="1744" y="2199.9" font-size="15" class="s" text-anchor="middle" fill="#3a3a3a" transform="rotate(-90 1744 2199.9)" dy="0.35em">10<tspan dy="-6" font-size="10">4</tspan></text>
<text x="1744" y="2279.3" font-size="15" class="s" text-anchor="middle" fill="#3a3a3a" transform="rotate(-90 1744 2279.3)" dy="0.35em">10<tspan dy="-6" font-size="10">3</tspan></text>
<text x="1744" y="2357.3" font-size="15" class="s" text-anchor="middle" fill="#3a3a3a" transform="rotate(-90 1744 2357.3)" dy="0.35em">10<tspan dy="-6" font-size="10">2</tspan></text>
<text x="1924.8" y="2466.8" font-size="17" class="s" text-anchor="middle" fill="#3a3a3a" transform="translate(1924.8 2466.8) scale(0.92 1) translate(-1924.8 -2466.8)">CD44 PE-A</text>
<text x="1722.8" y="2263.7" font-size="16" class="s" text-anchor="middle" fill="#3a3a3a" transform="rotate(-90 1722.8 2263.7)" dy="0.35em">CD62L PC5.5-A</text>
<rect x="1781.4" y="2141.2" width="179.4" height="101.2" fill="none" stroke="#c25ec8" stroke-width="2"/>
<rect x="1959.9" y="2246.5" width="86.4" height="162.1" fill="none" stroke="#e4ac58" stroke-width="2"/>
<rect x="1852.8" y="2246.5" width="107" height="162.1" fill="none" stroke="#b53a3a" stroke-width="2"/>
<text x="1782" y="2131.2" font-size="16.5" class="s" fill="#c25ec8">CD4+ naive T(0.21%)</text>
<text x="2077.2" y="2237.4" font-size="16.5" class="s" text-anchor="end" fill="#e4ac58">CD4+Tae(10.33%)</text>
<text x="1961.1" y="2398.6" font-size="16.5" class="s" text-anchor="end" fill="#b53a3a">CD4+Tem(31.39%)</text>
<g filter="url(#fG3b)"><rect x="2139.6" y="2109.2" width="312.1" height="309.6" fill="#000" fill-opacity="0.001"/><ellipse cx="2184.2" cy="2302.8" rx="42.7" ry="31.3" fill-opacity="0.15"/><ellipse cx="2224" cy="2305.7" rx="22.8" ry="28.5" fill-opacity="0.08"/><ellipse cx="2275.3" cy="2311.4" rx="65.5" ry="91.1" fill-opacity="0.16"/><ellipse cx="2275.3" cy="2297.1" rx="39.9" ry="51.2" fill-opacity="0.18"/><ellipse cx="2275.3" cy="2297.1" rx="22.8" ry="25.6" fill-opacity="0.3"/><ellipse cx="2360.7" cy="2339.8" rx="28.5" ry="56.9" fill-opacity="0.1"/><ellipse cx="2281" cy="2208.9" rx="45.5" ry="34.2" fill-opacity="0.035"/></g>
<path d="M2256.7 2419.8v7M2283.1 2419.8v4M2298.5 2419.8v4M2309.5 2419.8v4M2318 2419.8v4M2324.9 2419.8v4M2330.8 2419.8v4M2335.8 2419.8v4M2340.3 2419.8v4M2344.3 2419.8v7M2370.9 2419.8v4M2386.4 2419.8v4M2397.5 2419.8v4M2406 2419.8v4M2413 2419.8v4M2418.9 2419.8v4M2424 2419.8v4M2428.6 2419.8v4M2432.6 2419.8v7M2239.2 2419.8v4M2221.6 2419.8v4M2204.1 2419.8v4M2186.6 2419.8v4M2169.1 2419.8v4M2151.5 2419.8v4M2138.6 2357.5h-7M2138.6 2334h-4M2138.6 2320.3h-4M2138.6 2310.6h-4M2138.6 2303h-4M2138.6 2296.9h-4M2138.6 2291.6h-4M2138.6 2287.1h-4M2138.6 2283.1h-4M2138.6 2279.6h-7M2138.6 2255.8h-4M2138.6 2241.8h-4M2138.6 2231.9h-4M2138.6 2224.3h-4M2138.6 2218h-4M2138.6 2212.7h-4M2138.6 2208.1h-4M2138.6 2204.1h-4M2138.6 2200.4h-7M2138.6 2177.4h-4M2138.6 2163.9h-4M2138.6 2154.3h-4M2138.6 2146.9h-4M2138.6 2140.8h-4M2138.6 2135.7h-4M2138.6 2131.2h-4M2138.6 2127.3h-4M2138.6 2123.8h-7M2138.6 2373.1h-4M2138.6 2388.6h-4M2138.6 2404.2h-4" stroke="#333" stroke-width="1.6" fill="none"/>
<rect x="2138.6" y="2108.2" width="314.1" height="311.6" fill="none" stroke="#3c3c3c" stroke-width="2.2"/>
<text x="2170.6" y="2447.8" font-size="15" class="s" text-anchor="middle" fill="#3a3a3a" transform="translate(2170.6 2447.8) scale(0.9 1) translate(-2170.6 -2447.8)">0</text>
<text x="2259.5" y="2447.8" font-size="15" class="s" text-anchor="middle" fill="#3a3a3a" transform="translate(2259.5 2447.8) scale(0.9 1) translate(-2259.5 -2447.8)">10<tspan dy="-6" font-size="10">4</tspan></text>
<text x="2347.2" y="2447.8" font-size="15" class="s" text-anchor="middle" fill="#3a3a3a" transform="translate(2347.2 2447.8) scale(0.9 1) translate(-2347.2 -2447.8)">10<tspan dy="-6" font-size="10">5</tspan></text>
<text x="2435.4" y="2447.8" font-size="15" class="s" text-anchor="middle" fill="#3a3a3a" transform="translate(2435.4 2447.8) scale(0.9 1) translate(-2435.4 -2447.8)">10<tspan dy="-6" font-size="10">6</tspan></text>
<text x="2116.8" y="2123.8" font-size="15" class="s" text-anchor="middle" fill="#3a3a3a" transform="rotate(-90 2116.8 2123.8)" dy="0.35em">10<tspan dy="-6" font-size="10">5</tspan></text>
<text x="2116.8" y="2200.4" font-size="15" class="s" text-anchor="middle" fill="#3a3a3a" transform="rotate(-90 2116.8 2200.4)" dy="0.35em">10<tspan dy="-6" font-size="10">4</tspan></text>
<text x="2116.8" y="2279.6" font-size="15" class="s" text-anchor="middle" fill="#3a3a3a" transform="rotate(-90 2116.8 2279.6)" dy="0.35em">10<tspan dy="-6" font-size="10">3</tspan></text>
<text x="2116.8" y="2357.5" font-size="15" class="s" text-anchor="middle" fill="#3a3a3a" transform="rotate(-90 2116.8 2357.5)" dy="0.35em">10<tspan dy="-6" font-size="10">2</tspan></text>
<text x="2298.6" y="2466.8" font-size="17" class="s" text-anchor="middle" fill="#3a3a3a" transform="translate(2298.6 2466.8) scale(0.92 1) translate(-2298.6 -2466.8)">CD44 PE-A</text>
<text x="2095.6" y="2264" font-size="16" class="s" text-anchor="middle" fill="#3a3a3a" transform="rotate(-90 2095.6 2264)" dy="0.35em">CD62L PC5.5-A</text>
<rect x="2154.3" y="2141.9" width="180.6" height="101" fill="none" stroke="#c25ec8" stroke-width="2"/>
<rect x="2334" y="2246.9" width="87" height="161.7" fill="none" stroke="#e4ac58" stroke-width="2"/>
<rect x="2226.2" y="2246.9" width="107.7" height="161.7" fill="none" stroke="#b53a3a" stroke-width="2"/>
<text x="2154.9" y="2131.9" font-size="16.5" class="s" fill="#c25ec8">CD8+ naive T(1.12%)</text>
<text x="2452.1" y="2237.8" font-size="16.5" class="s" text-anchor="end" fill="#e4ac58">CD8+Tae(4.59%)</text>
<text x="2335.2" y="2398.6" font-size="16.5" class="s" text-anchor="end" fill="#b53a3a">CD8+Tem(44.25%)</text>
<path d="M1407.8 1744V1707.5H2239.4V1772.3" stroke="#f9b24e" stroke-width="2.6" fill="none"/>
<path d="M2239.4 1796.3l-12.8 -25.8h25.6z" fill="#f9b24e"/>
<line x1="1629" y1="1961.4" x2="1856" y2="1961.4" stroke="#f2795a" stroke-width="2.6"/>
<path d="M1880 1961.4l-25.5 -12.4v24.8z" fill="#f2795a"/>
<path d="M1407.8 2132.5V2096H2239.4V2160.8" stroke="#f9b24e" stroke-width="2.6" fill="none"/>
<path d="M2239.4 2184.8l-12.8 -25.8h25.6z" fill="#f9b24e"/>
<line x1="1629" y1="2349.9" x2="1856" y2="2349.9" stroke="#f2795a" stroke-width="2.6"/>
<path d="M1880 2349.9l-25.5 -12.4v24.8z" fill="#f2795a"/>
<text x="1312" y="1886" font-size="36" class="r" text-anchor="middle" transform="rotate(-90 1312 1886)" dy="0.35em">Tβ15 OX</text>
<text x="1312" y="2288" font-size="36" class="r" text-anchor="middle" transform="rotate(-90 1312 2288)" dy="0.35em">Tβ15 sh</text>
</svg>
</body></html>
